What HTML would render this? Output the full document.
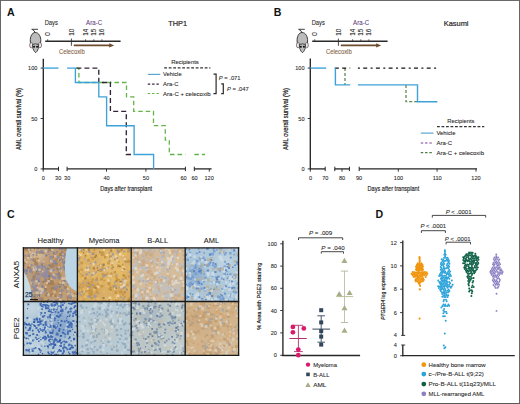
<!DOCTYPE html>
<html><head><meta charset="utf-8"><style>
html,body{margin:0;padding:0;background:#fff;width:520px;height:404px;overflow:hidden}
svg{display:block}
</style></head><body>
<svg width="520" height="404" viewBox="0 0 520 404" font-family='"Liberation Sans", sans-serif'><rect x="0" y="0" width="520" height="404" fill="#fff"/><text x="6.9" y="15.8" font-size="10.6" fill="#111" text-anchor="start" font-weight="bold" font-style="normal">A</text><g transform="translate(0,0)"><path d="M31.5,29.3 L38,29.3 M32.3,29.6 Q34.6,30.6 35.3,32.8" fill="none" stroke="#2a2a2a" stroke-width="0.9"/><path d="M35.3,32.5 C39,32.5 41,37 40.8,41 C40.6,44 39.5,45.5 38,46 L33,46 C31.5,45.5 30.3,44 30.3,41 C30.1,37 31.8,32.5 35.3,32.5 Z" fill="#bcbcbc" stroke="#2a2a2a" stroke-width="0.9"/><ellipse cx="31.3" cy="45.2" rx="1.7" ry="2.6" fill="#f2e2e2" stroke="#3a3a3a" stroke-width="0.6"/><ellipse cx="39.9" cy="45.2" rx="1.7" ry="2.6" fill="#f2e2e2" stroke="#3a3a3a" stroke-width="0.6"/><path d="M32.5,44.5 Q35.6,43.2 38.7,44.5 L38.4,48.5 Q37.2,51.8 35.7,52.7 Q34.1,51.8 32.9,48.5 Z" fill="#bdbdbd" stroke="#2a2a2a" stroke-width="0.8"/><circle cx="34.1" cy="46.8" r="1.05" fill="#111"/><circle cx="37.1" cy="46.8" r="1.05" fill="#111"/></g><text x="44.7" y="24.8" font-size="6.6" fill="#262626" text-anchor="start" font-weight="normal" font-style="normal" textLength="13.2" lengthAdjust="spacingAndGlyphs" stroke="#262626" stroke-width="0.08">Days</text><text x="86.1" y="24.8" font-size="6.8" fill="#5e3f7e" text-anchor="start" font-weight="normal" font-style="normal" textLength="16.0" lengthAdjust="spacingAndGlyphs" stroke="#5e3f7e" stroke-width="0.08">Ara-C</text><line x1="45.2" y1="41.3" x2="120.6" y2="41.3" stroke="#2a2a2a" stroke-width="1.4" stroke-linecap="butt"/><line x1="85.6" y1="39.3" x2="85.6" y2="41.3" stroke="#333" stroke-width="0.8" stroke-linecap="butt"/><line x1="93.8" y1="39.3" x2="93.8" y2="41.3" stroke="#333" stroke-width="0.8" stroke-linecap="butt"/><line x1="101.9" y1="39.3" x2="101.9" y2="41.3" stroke="#333" stroke-width="0.8" stroke-linecap="butt"/><line x1="47.7" y1="39.3" x2="47.7" y2="41.3" stroke="#333" stroke-width="0.8" stroke-linecap="butt"/><line x1="71.4" y1="38.6" x2="71.4" y2="45.8" stroke="#333" stroke-width="0.9" stroke-linecap="butt"/><text transform="translate(50.0,35.7) rotate(-90)" x="0" y="0" font-size="6.3" fill="#262626" stroke="#262626" stroke-width="0.08">0</text><text transform="translate(73.7,35.7) rotate(-90)" x="0" y="0" font-size="6.3" fill="#262626" stroke="#262626" stroke-width="0.08">10</text><text transform="translate(87.89999999999999,35.7) rotate(-90)" x="0" y="0" font-size="6.3" fill="#262626" stroke="#262626" stroke-width="0.08">14</text><text transform="translate(96.1,35.7) rotate(-90)" x="0" y="0" font-size="6.3" fill="#262626" stroke="#262626" stroke-width="0.08">15</text><text transform="translate(104.2,35.7) rotate(-90)" x="0" y="0" font-size="6.3" fill="#262626" stroke="#262626" stroke-width="0.08">16</text><line x1="73.8" y1="45.4" x2="110.5" y2="45.4" stroke="#6e4c2e" stroke-width="1.9" stroke-linecap="butt"/><path d="M109.2,43.2 L114.2,45.4 L109.2,47.6 Z" fill="#6e4c2e"/><text x="58.9" y="54.2" font-size="6.6" fill="#83603f" text-anchor="start" font-weight="normal" font-style="normal" textLength="25.8" lengthAdjust="spacingAndGlyphs" stroke="#83603f" stroke-width="0.08">Celecoxib</text><text x="168.2" y="26.0" font-size="8" fill="#2a2a2a" text-anchor="start" font-weight="normal" font-style="normal" textLength="18.8" lengthAdjust="spacingAndGlyphs" stroke="#2a2a2a" stroke-width="0.22">THP1</text><line x1="43.3" y1="58.8" x2="43.3" y2="169.6" stroke="#262626" stroke-width="1.35" stroke-linecap="butt"/><line x1="40.6" y1="68.1" x2="43.2" y2="68.1" stroke="#262626" stroke-width="0.9" stroke-linecap="butt"/><text x="37.4" y="70.1" font-size="5.6" fill="#262626" text-anchor="end" font-weight="normal" font-style="normal" stroke="#262626" stroke-width="0.08">100</text><line x1="40.6" y1="118.5" x2="43.2" y2="118.5" stroke="#262626" stroke-width="0.9" stroke-linecap="butt"/><text x="37.4" y="120.5" font-size="5.6" fill="#262626" text-anchor="end" font-weight="normal" font-style="normal" stroke="#262626" stroke-width="0.08">50</text><line x1="40.6" y1="168.9" x2="43.2" y2="168.9" stroke="#262626" stroke-width="0.9" stroke-linecap="butt"/><text x="37.4" y="170.9" font-size="5.6" fill="#262626" text-anchor="end" font-weight="normal" font-style="normal" stroke="#262626" stroke-width="0.08">0</text><line x1="43.2" y1="168.9" x2="58.5" y2="168.9" stroke="#262626" stroke-width="1.3" stroke-linecap="butt"/><line x1="67.1" y1="168.9" x2="185.4" y2="168.9" stroke="#262626" stroke-width="1.3" stroke-linecap="butt"/><line x1="194.3" y1="168.9" x2="211.6" y2="168.9" stroke="#262626" stroke-width="1.3" stroke-linecap="butt"/><line x1="43.2" y1="168.9" x2="43.2" y2="171.70000000000002" stroke="#262626" stroke-width="0.9" stroke-linecap="butt"/><line x1="106.5" y1="168.9" x2="106.5" y2="171.70000000000002" stroke="#262626" stroke-width="0.9" stroke-linecap="butt"/><line x1="145.9" y1="168.9" x2="145.9" y2="171.70000000000002" stroke="#262626" stroke-width="0.9" stroke-linecap="butt"/><line x1="209.3" y1="168.9" x2="209.3" y2="171.70000000000002" stroke="#262626" stroke-width="0.9" stroke-linecap="butt"/><line x1="58.5" y1="166.70000000000002" x2="58.5" y2="171.1" stroke="#262626" stroke-width="1.0" stroke-linecap="butt"/><line x1="67.1" y1="166.70000000000002" x2="67.1" y2="171.1" stroke="#262626" stroke-width="1.0" stroke-linecap="butt"/><line x1="185.4" y1="166.70000000000002" x2="185.4" y2="171.1" stroke="#262626" stroke-width="1.0" stroke-linecap="butt"/><line x1="194.3" y1="166.70000000000002" x2="194.3" y2="171.1" stroke="#262626" stroke-width="1.0" stroke-linecap="butt"/><text x="43.4" y="180.2" font-size="5.6" fill="#262626" text-anchor="middle" font-weight="normal" font-style="normal" stroke="#262626" stroke-width="0.08">0</text><text x="58.2" y="180.2" font-size="5.6" fill="#262626" text-anchor="middle" font-weight="normal" font-style="normal" stroke="#262626" stroke-width="0.08">30</text><text x="67.2" y="180.2" font-size="5.6" fill="#262626" text-anchor="middle" font-weight="normal" font-style="normal" stroke="#262626" stroke-width="0.08">30</text><text x="106.5" y="180.2" font-size="5.6" fill="#262626" text-anchor="middle" font-weight="normal" font-style="normal" stroke="#262626" stroke-width="0.08">40</text><text x="145.9" y="180.2" font-size="5.6" fill="#262626" text-anchor="middle" font-weight="normal" font-style="normal" stroke="#262626" stroke-width="0.08">50</text><text x="183.6" y="180.2" font-size="5.6" fill="#262626" text-anchor="middle" font-weight="normal" font-style="normal" stroke="#262626" stroke-width="0.08">60</text><text x="194.5" y="180.2" font-size="5.6" fill="#262626" text-anchor="middle" font-weight="normal" font-style="normal" stroke="#262626" stroke-width="0.08">60</text><text x="209.1" y="180.2" font-size="5.6" fill="#262626" text-anchor="middle" font-weight="normal" font-style="normal" stroke="#262626" stroke-width="0.08">120</text><text x="100.2" y="191.4" font-size="7.3" fill="#222" text-anchor="start" font-weight="normal" font-style="normal" textLength="52" lengthAdjust="spacingAndGlyphs" stroke="#222" stroke-width="0.15">Days after transplant</text><text transform="translate(18.7,119.1) rotate(-90)" x="0" y="2.45" font-size="6.8" fill="#222" stroke="#222" stroke-width="0.22" text-anchor="middle" font-weight="normal" font-style="normal" textLength="62" lengthAdjust="spacingAndGlyphs">AML overall survival (%)</text><polyline points="76.4,68.1 78.9,68.1 78.9,82.5 126.5,82.5 126.5,96.9 133.7,96.9 133.7,111.3 153.5,111.3 153.5,125.7 165.3,125.7 165.3,140.1 169.3,140.1 169.3,154.5 185.3,154.5" fill="none" stroke="#63b54a" stroke-width="1.3" stroke-dasharray="4.5,3" stroke-linejoin="miter"/><polyline points="194.4,154.5 205,154.5" fill="none" stroke="#63b54a" stroke-width="1.3" stroke-dasharray="4.5,3" stroke-linejoin="miter"/><polyline points="76.4,68.1 98.8,68.1 98.8,82.5 110.4,82.5 110.4,111.3 126.3,111.3 126.3,154.5 134,154.5" fill="none" stroke="#33263a" stroke-width="1.35" stroke-dasharray="5,3" stroke-linejoin="miter"/><polyline points="43.2,68.1 58.5,68.1" fill="none" stroke="#3ea2da" stroke-width="1.35" stroke-linejoin="miter"/><polyline points="67.1,68.1 75.4,68.1 75.4,82.5 98.8,82.5 98.8,96.9 106.6,96.9 106.6,125.7 134.1,125.7 134.1,154.5 153.6,154.5 153.6,168.9" fill="none" stroke="#3ea2da" stroke-width="1.35" stroke-linejoin="miter"/><text x="185" y="63.8" font-size="5.8" fill="#262626" text-anchor="middle" font-weight="normal" font-style="normal" textLength="27.7" lengthAdjust="spacingAndGlyphs" stroke="#262626" stroke-width="0.08">Recipients</text><line x1="164.2" y1="67.9" x2="210.4" y2="67.9" stroke="#333" stroke-width="1.2" stroke-dasharray="2.8,1.7" stroke-linecap="butt"/><line x1="147.8" y1="74.4" x2="160.3" y2="74.4" stroke="#5aa6d2" stroke-width="1.2" stroke-linecap="butt"/><line x1="147.8" y1="84.1" x2="160.3" y2="84.1" stroke="#33263a" stroke-width="1.2" stroke-dasharray="2.4,1.9" stroke-linecap="butt"/><line x1="147.8" y1="93.5" x2="160.3" y2="93.5" stroke="#63b54a" stroke-width="1.2" stroke-dasharray="2.4,1.9" stroke-linecap="butt"/><text x="163.1" y="76.1" font-size="5.8" fill="#262626" text-anchor="start" font-weight="normal" font-style="normal" textLength="18.5" lengthAdjust="spacingAndGlyphs" stroke="#262626" stroke-width="0.08">Vehicle</text><text x="163.1" y="85.8" font-size="5.8" fill="#262626" text-anchor="start" font-weight="normal" font-style="normal" textLength="15.3" lengthAdjust="spacingAndGlyphs" stroke="#262626" stroke-width="0.08">Ara-C</text><text x="163.1" y="95.5" font-size="5.8" fill="#262626" text-anchor="start" font-weight="normal" font-style="normal" textLength="47.5" lengthAdjust="spacingAndGlyphs" stroke="#262626" stroke-width="0.08">Ara-C + celecoxib</text><polyline points="213.5,74.1 216.1,74.1 216.1,93.7 213.5,93.7" fill="none" stroke="#2a2a2a" stroke-width="1.2" stroke-linejoin="miter"/><polyline points="221.2,83.9 223.3,83.9 223.3,93.7 221.2,93.7" fill="none" stroke="#2a2a2a" stroke-width="1.2" stroke-linejoin="miter"/><text x="218.8" y="80.3" font-size="5.8" fill="#262626" stroke="#262626" stroke-width="0.08"><tspan font-style="italic">P</tspan> = .071</text><text x="227" y="90.6" font-size="5.8" fill="#262626" stroke="#262626" stroke-width="0.08"><tspan font-style="italic">P</tspan> = .047</text><text x="273.8" y="15.5" font-size="10.6" fill="#111" text-anchor="start" font-weight="bold" font-style="normal">B</text><g transform="translate(266.8,0)"><path d="M31.5,29.3 L38,29.3 M32.3,29.6 Q34.6,30.6 35.3,32.8" fill="none" stroke="#2a2a2a" stroke-width="0.9"/><path d="M35.3,32.5 C39,32.5 41,37 40.8,41 C40.6,44 39.5,45.5 38,46 L33,46 C31.5,45.5 30.3,44 30.3,41 C30.1,37 31.8,32.5 35.3,32.5 Z" fill="#bcbcbc" stroke="#2a2a2a" stroke-width="0.9"/><ellipse cx="31.3" cy="45.2" rx="1.7" ry="2.6" fill="#f2e2e2" stroke="#3a3a3a" stroke-width="0.6"/><ellipse cx="39.9" cy="45.2" rx="1.7" ry="2.6" fill="#f2e2e2" stroke="#3a3a3a" stroke-width="0.6"/><path d="M32.5,44.5 Q35.6,43.2 38.7,44.5 L38.4,48.5 Q37.2,51.8 35.7,52.7 Q34.1,51.8 32.9,48.5 Z" fill="#bdbdbd" stroke="#2a2a2a" stroke-width="0.8"/><circle cx="34.1" cy="46.8" r="1.05" fill="#111"/><circle cx="37.1" cy="46.8" r="1.05" fill="#111"/></g><text x="311.7" y="24.8" font-size="6.6" fill="#262626" text-anchor="start" font-weight="normal" font-style="normal" textLength="13.2" lengthAdjust="spacingAndGlyphs" stroke="#262626" stroke-width="0.08">Days</text><text x="353.1" y="24.8" font-size="6.8" fill="#5e3f7e" text-anchor="start" font-weight="normal" font-style="normal" textLength="16.0" lengthAdjust="spacingAndGlyphs" stroke="#5e3f7e" stroke-width="0.08">Ara-C</text><line x1="312.2" y1="41.3" x2="387.6" y2="41.3" stroke="#2a2a2a" stroke-width="1.4" stroke-linecap="butt"/><line x1="352.6" y1="39.3" x2="352.6" y2="41.3" stroke="#333" stroke-width="0.8" stroke-linecap="butt"/><line x1="360.8" y1="39.3" x2="360.8" y2="41.3" stroke="#333" stroke-width="0.8" stroke-linecap="butt"/><line x1="368.9" y1="39.3" x2="368.9" y2="41.3" stroke="#333" stroke-width="0.8" stroke-linecap="butt"/><line x1="314.7" y1="39.3" x2="314.7" y2="41.3" stroke="#333" stroke-width="0.8" stroke-linecap="butt"/><line x1="338.4" y1="38.6" x2="338.4" y2="45.8" stroke="#333" stroke-width="0.9" stroke-linecap="butt"/><text transform="translate(317.0,35.7) rotate(-90)" x="0" y="0" font-size="6.3" fill="#262626" stroke="#262626" stroke-width="0.08">0</text><text transform="translate(340.7,35.7) rotate(-90)" x="0" y="0" font-size="6.3" fill="#262626" stroke="#262626" stroke-width="0.08">10</text><text transform="translate(354.90000000000003,35.7) rotate(-90)" x="0" y="0" font-size="6.3" fill="#262626" stroke="#262626" stroke-width="0.08">14</text><text transform="translate(363.1,35.7) rotate(-90)" x="0" y="0" font-size="6.3" fill="#262626" stroke="#262626" stroke-width="0.08">15</text><text transform="translate(371.2,35.7) rotate(-90)" x="0" y="0" font-size="6.3" fill="#262626" stroke="#262626" stroke-width="0.08">16</text><line x1="340.8" y1="45.4" x2="377.5" y2="45.4" stroke="#6e4c2e" stroke-width="1.9" stroke-linecap="butt"/><path d="M376.2,43.2 L381.2,45.4 L376.2,47.6 Z" fill="#6e4c2e"/><text x="325.9" y="54.2" font-size="6.6" fill="#83603f" text-anchor="start" font-weight="normal" font-style="normal" textLength="25.8" lengthAdjust="spacingAndGlyphs" stroke="#83603f" stroke-width="0.08">Celecoxib</text><text x="443.8" y="26.0" font-size="8" fill="#2a2a2a" text-anchor="start" font-weight="normal" font-style="normal" textLength="24.7" lengthAdjust="spacingAndGlyphs" stroke="#2a2a2a" stroke-width="0.22">Kasumi</text><line x1="310.3" y1="58.5" x2="310.3" y2="169.6" stroke="#262626" stroke-width="1.35" stroke-linecap="butt"/><line x1="307.7" y1="68.1" x2="310.3" y2="68.1" stroke="#262626" stroke-width="0.9" stroke-linecap="butt"/><text x="304.6" y="70.1" font-size="5.6" fill="#262626" text-anchor="end" font-weight="normal" font-style="normal" stroke="#262626" stroke-width="0.08">100</text><line x1="307.7" y1="118.5" x2="310.3" y2="118.5" stroke="#262626" stroke-width="0.9" stroke-linecap="butt"/><text x="304.6" y="120.5" font-size="5.6" fill="#262626" text-anchor="end" font-weight="normal" font-style="normal" stroke="#262626" stroke-width="0.08">50</text><line x1="307.7" y1="168.9" x2="310.3" y2="168.9" stroke="#262626" stroke-width="0.9" stroke-linecap="butt"/><text x="304.6" y="170.9" font-size="5.6" fill="#262626" text-anchor="end" font-weight="normal" font-style="normal" stroke="#262626" stroke-width="0.08">0</text><line x1="310.3" y1="168.9" x2="325.2" y2="168.9" stroke="#262626" stroke-width="1.3" stroke-linecap="butt"/><line x1="334.8" y1="168.9" x2="349.4" y2="168.9" stroke="#262626" stroke-width="1.3" stroke-linecap="butt"/><line x1="359.2" y1="168.9" x2="477" y2="168.9" stroke="#262626" stroke-width="1.3" stroke-linecap="butt"/><line x1="310.3" y1="168.9" x2="310.3" y2="171.70000000000002" stroke="#262626" stroke-width="0.9" stroke-linecap="butt"/><line x1="342" y1="168.9" x2="342" y2="171.70000000000002" stroke="#262626" stroke-width="0.9" stroke-linecap="butt"/><line x1="398.3" y1="168.9" x2="398.3" y2="171.70000000000002" stroke="#262626" stroke-width="0.9" stroke-linecap="butt"/><line x1="437.1" y1="168.9" x2="437.1" y2="171.70000000000002" stroke="#262626" stroke-width="0.9" stroke-linecap="butt"/><line x1="476" y1="168.9" x2="476" y2="171.70000000000002" stroke="#262626" stroke-width="0.9" stroke-linecap="butt"/><line x1="325.2" y1="166.70000000000002" x2="325.2" y2="171.1" stroke="#262626" stroke-width="1.0" stroke-linecap="butt"/><line x1="334.8" y1="166.70000000000002" x2="334.8" y2="171.1" stroke="#262626" stroke-width="1.0" stroke-linecap="butt"/><line x1="349.4" y1="166.70000000000002" x2="349.4" y2="171.1" stroke="#262626" stroke-width="1.0" stroke-linecap="butt"/><line x1="359.2" y1="166.70000000000002" x2="359.2" y2="171.1" stroke="#262626" stroke-width="1.0" stroke-linecap="butt"/><text x="310.5" y="180.2" font-size="5.6" fill="#262626" text-anchor="middle" font-weight="normal" font-style="normal" stroke="#262626" stroke-width="0.08">0</text><text x="325.3" y="180.2" font-size="5.6" fill="#262626" text-anchor="middle" font-weight="normal" font-style="normal" stroke="#262626" stroke-width="0.08">70</text><text x="342.1" y="180.2" font-size="5.6" fill="#262626" text-anchor="middle" font-weight="normal" font-style="normal" stroke="#262626" stroke-width="0.08">80</text><text x="359.1" y="180.2" font-size="5.6" fill="#262626" text-anchor="middle" font-weight="normal" font-style="normal" stroke="#262626" stroke-width="0.08">90</text><text x="398.5" y="180.2" font-size="5.6" fill="#262626" text-anchor="middle" font-weight="normal" font-style="normal" stroke="#262626" stroke-width="0.08">100</text><text x="437.2" y="180.2" font-size="5.6" fill="#262626" text-anchor="middle" font-weight="normal" font-style="normal" stroke="#262626" stroke-width="0.08">110</text><text x="476" y="180.2" font-size="5.6" fill="#262626" text-anchor="middle" font-weight="normal" font-style="normal" stroke="#262626" stroke-width="0.08">120</text><text x="367.5" y="191.4" font-size="7.3" fill="#222" text-anchor="start" font-weight="normal" font-style="normal" textLength="51.7" lengthAdjust="spacingAndGlyphs" stroke="#222" stroke-width="0.15">Days after transplant</text><text transform="translate(285.4,119.1) rotate(-90)" x="0" y="2.45" font-size="6.8" fill="#222" stroke="#222" stroke-width="0.22" text-anchor="middle" font-weight="normal" font-style="normal" textLength="62" lengthAdjust="spacingAndGlyphs">AML overall survival (%)</text><line x1="345" y1="68.1" x2="345" y2="84.9" stroke="#5e8a4e" stroke-width="1.3" stroke-dasharray="3,2" stroke-linecap="butt"/><polyline points="406,84.9 406,101.7 417.5,101.7" fill="none" stroke="#5e8a4e" stroke-width="1.3" stroke-dasharray="3,2" stroke-linejoin="miter"/><polyline points="334.8,68.1 350.2,68.1" fill="none" stroke="#151515" stroke-width="1.4" stroke-dasharray="4,3.4" stroke-linejoin="miter"/><polyline points="357.9,68.1 437.4,68.1" fill="none" stroke="#151515" stroke-width="1.4" stroke-dasharray="2,3.3,4,3.4" stroke-linejoin="miter"/><polyline points="310.3,68.1 326.2,68.1" fill="none" stroke="#3ea2da" stroke-width="1.4" stroke-linejoin="miter"/><polyline points="334.8,68.1 335.4,68.1 335.4,84.9 350.2,84.9" fill="none" stroke="#3ea2da" stroke-width="1.4" stroke-linejoin="miter"/><polyline points="357.9,84.9 417.5,84.9 417.5,101.7 437.4,101.7" fill="none" stroke="#3ea2da" stroke-width="1.4" stroke-linejoin="miter"/><text x="460.9" y="122.7" font-size="5.8" fill="#262626" text-anchor="middle" font-weight="normal" font-style="normal" textLength="27.1" lengthAdjust="spacingAndGlyphs" stroke="#262626" stroke-width="0.08">Recipients</text><line x1="437" y1="126.6" x2="484.3" y2="126.6" stroke="#333" stroke-width="1.2" stroke-dasharray="2.8,1.7" stroke-linecap="butt"/><line x1="420.8" y1="133.1" x2="433.5" y2="133.1" stroke="#5aa6d2" stroke-width="1.2" stroke-linecap="butt"/><line x1="420.8" y1="143" x2="433.5" y2="143" stroke="#7a3f9a" stroke-width="1.2" stroke-dasharray="2.4,1.9" stroke-linecap="butt"/><line x1="420.8" y1="152.7" x2="433.5" y2="152.7" stroke="#4d7a44" stroke-width="1.2" stroke-dasharray="2.4,1.9" stroke-linecap="butt"/><text x="436.5" y="135.0" font-size="5.8" fill="#262626" text-anchor="start" font-weight="normal" font-style="normal" textLength="18.9" lengthAdjust="spacingAndGlyphs" stroke="#262626" stroke-width="0.08">Vehicle</text><text x="436.5" y="144.9" font-size="5.8" fill="#262626" text-anchor="start" font-weight="normal" font-style="normal" textLength="15.5" lengthAdjust="spacingAndGlyphs" stroke="#262626" stroke-width="0.08">Ara-C</text><text x="436.5" y="154.6" font-size="5.8" fill="#262626" text-anchor="start" font-weight="normal" font-style="normal" textLength="47.5" lengthAdjust="spacingAndGlyphs" stroke="#262626" stroke-width="0.08">Ara-C + celecoxib</text><text x="7" y="218" font-size="10.6" fill="#111" text-anchor="start" font-weight="bold" font-style="normal">C</text><text x="50.5" y="242.7" font-size="7.6" fill="#222" text-anchor="middle" font-weight="normal" font-style="normal" textLength="26" lengthAdjust="spacingAndGlyphs" stroke="#222" stroke-width="0.08">Healthy</text><text x="104.1" y="242.7" font-size="7.6" fill="#222" text-anchor="middle" font-weight="normal" font-style="normal" textLength="30.7" lengthAdjust="spacingAndGlyphs" stroke="#222" stroke-width="0.08">Myeloma</text><text x="157.7" y="242.7" font-size="7.6" fill="#222" text-anchor="middle" font-weight="normal" font-style="normal" textLength="21" lengthAdjust="spacingAndGlyphs" stroke="#222" stroke-width="0.08">B-ALL</text><text x="211.4" y="242.7" font-size="7.6" fill="#222" text-anchor="middle" font-weight="normal" font-style="normal" textLength="15.2" lengthAdjust="spacingAndGlyphs" stroke="#222" stroke-width="0.08">AML</text><text transform="translate(16.2,274.5) rotate(-90)" x="0" y="2.77" font-size="7.7" fill="#222" stroke="#222" stroke-width="0.08" text-anchor="middle" font-weight="normal" font-style="normal" textLength="27.3" lengthAdjust="spacingAndGlyphs">ANXA5</text><text transform="translate(16.2,328.3) rotate(-90)" x="0" y="2.77" font-size="7.7" fill="#222" stroke="#222" stroke-width="0.08" text-anchor="middle" font-weight="normal" font-style="normal" textLength="21.7" lengthAdjust="spacingAndGlyphs">PGE2</text><defs><filter id="bl" x="0" y="0" width="1" height="1"><feGaussianBlur stdDeviation="0.7"/></filter></defs><defs><filter id="bl3" x="-0.5" y="-0.5" width="2" height="2"><feGaussianBlur stdDeviation="3"/></filter></defs><clipPath id="cp00"><rect x="23.4" y="247.8" width="54.0" height="53.7"/></clipPath><g clip-path="url(#cp00)"><rect x="23.4" y="247.8" width="54.0" height="53.7" fill="#bea07e"/><ellipse cx="35" cy="255" rx="10" ry="7" fill="#dcc6a6" opacity="0.7" filter="url(#bl3)"/><ellipse cx="42" cy="274" rx="11" ry="10" fill="#8a86a2" opacity="0.45" filter="url(#bl3)"/><ellipse cx="52" cy="288" rx="10" ry="8" fill="#a4743e" opacity="0.4" filter="url(#bl3)"/><ellipse cx="58" cy="262" rx="6" ry="8" fill="#b07c46" opacity="0.35" filter="url(#bl3)"/><g filter="url(#bl)"><path d="M47.7 278.0h3.4v3.4h-3.4zM48.5 275.1h2.8v2.8h-2.8zM32.7 275.3h2.9v2.9h-2.9zM66.8 252.0h2.2v2.2h-2.2zM27.5 291.9h3.0v3.0h-3.0zM24.7 301.5h3.5v3.5h-3.5zM59.0 281.1h1.9v1.9h-1.9zM23.2 276.2h1.7v1.7h-1.7zM33.1 260.3h1.7v1.7h-1.7zM48.4 271.3h3.3v3.3h-3.3zM51.5 282.5h2.6v2.6h-2.6zM59.5 272.3h2.2v2.2h-2.2zM78.3 302.3h3.3v3.3h-3.3zM62.0 264.4h2.1v2.1h-2.1zM38.6 250.7h3.1v3.1h-3.1zM44.8 294.0h2.4v2.4h-2.4zM76.1 294.0h1.6v1.6h-1.6zM34.1 297.5h2.5v2.5h-2.5zM77.3 268.9h1.7v1.7h-1.7zM57.6 290.2h2.1v2.1h-2.1zM27.3 265.3h3.5v3.5h-3.5zM64.9 253.4h2.1v2.1h-2.1zM28.1 250.1h3.2v3.2h-3.2zM32.3 278.0h2.5v2.5h-2.5zM33.1 287.6h1.9v1.9h-1.9zM58.4 253.3h2.4v2.4h-2.4zM34.3 261.8h3.5v3.5h-3.5zM67.4 263.7h3.4v3.4h-3.4zM34.2 268.8h3.3v3.3h-3.3zM58.3 252.4h3.6v3.6h-3.6zM34.3 261.2h3.1v3.1h-3.1zM40.8 263.3h1.7v1.7h-1.7zM27.4 279.3h2.1v2.1h-2.1zM56.1 267.5h2.5v2.5h-2.5zM76.1 273.7h2.7v2.7h-2.7zM70.9 257.0h1.9v1.9h-1.9zM73.3 292.4h2.1v2.1h-2.1zM33.0 288.0h3.5v3.5h-3.5zM33.4 299.7h3.4v3.4h-3.4zM56.2 270.3h1.8v1.8h-1.8zM24.6 300.4h2.1v2.1h-2.1zM61.9 261.1h3.2v3.2h-3.2zM55.8 263.1h2.0v2.0h-2.0zM62.7 250.6h2.1v2.1h-2.1zM53.7 294.3h2.8v2.8h-2.8zM38.1 297.9h2.0v2.0h-2.0zM23.3 261.8h2.5v2.5h-2.5zM25.8 256.6h2.3v2.3h-2.3zM54.4 254.1h2.3v2.3h-2.3zM72.3 301.4h2.9v2.9h-2.9zM61.1 279.4h1.9v1.9h-1.9zM24.4 247.8h3.4v3.4h-3.4zM61.7 300.4h1.6v1.6h-1.6zM58.0 273.7h3.1v3.1h-3.1zM40.3 302.5h1.8v1.8h-1.8zM53.0 287.9h3.4v3.4h-3.4zM63.7 286.0h3.2v3.2h-3.2zM73.6 266.4h3.0v3.0h-3.0zM72.8 295.3h2.4v2.4h-2.4zM66.7 294.9h2.7v2.7h-2.7zM57.4 268.1h2.8v2.8h-2.8zM56.5 251.3h2.9v2.9h-2.9zM78.0 295.8h3.1v3.1h-3.1zM44.2 287.7h2.8v2.8h-2.8zM47.1 293.5h1.8v1.8h-1.8zM64.4 248.5h2.8v2.8h-2.8zM49.3 259.6h3.0v3.0h-3.0zM50.2 281.0h3.4v3.4h-3.4zM36.7 247.4h2.2v2.2h-2.2zM60.4 258.1h1.9v1.9h-1.9zM73.1 283.6h2.5v2.5h-2.5zM72.3 265.0h2.9v2.9h-2.9zM33.5 270.8h3.2v3.2h-3.2zM73.6 295.8h2.4v2.4h-2.4zM55.1 264.4h1.9v1.9h-1.9zM50.2 293.4h3.3v3.3h-3.3zM62.2 299.7h2.2v2.2h-2.2zM31.9 271.9h2.2v2.2h-2.2zM34.4 269.9h2.9v2.9h-2.9zM50.1 264.4h3.3v3.3h-3.3zM77.4 272.0h1.7v1.7h-1.7zM24.2 295.4h1.7v1.7h-1.7zM62.1 278.6h2.2v2.2h-2.2zM66.7 247.9h1.9v1.9h-1.9zM47.9 248.2h3.3v3.3h-3.3zM35.7 254.6h1.7v1.7h-1.7zM57.6 271.7h2.9v2.9h-2.9zM59.1 291.8h3.5v3.5h-3.5zM60.7 257.9h2.6v2.6h-2.6zM32.4 247.4h2.5v2.5h-2.5zM62.4 256.8h2.1v2.1h-2.1zM41.8 285.6h2.6v2.6h-2.6zM56.8 288.9h2.4v2.4h-2.4zM66.7 297.3h1.8v1.8h-1.8zM74.6 287.0h1.9v1.9h-1.9zM47.8 281.6h3.4v3.4h-3.4zM43.5 278.5h3.4v3.4h-3.4zM67.0 299.4h2.5v2.5h-2.5zM58.9 258.2h3.0v3.0h-3.0zM68.2 282.5h3.0v3.0h-3.0zM34.3 296.9h3.6v3.6h-3.6zM77.1 276.7h3.2v3.2h-3.2zM40.3 297.5h3.3v3.3h-3.3zM41.9 251.4h2.5v2.5h-2.5zM53.2 289.6h2.6v2.6h-2.6zM24.0 291.9h1.7v1.7h-1.7zM67.2 256.4h2.3v2.3h-2.3zM66.5 254.6h1.9v1.9h-1.9zM51.3 287.1h3.3v3.3h-3.3zM61.0 299.5h2.6v2.6h-2.6zM75.6 251.6h2.0v2.0h-2.0zM51.9 263.0h3.1v3.1h-3.1zM58.2 275.9h3.3v3.3h-3.3zM53.8 264.2h2.4v2.4h-2.4zM69.7 297.0h2.0v2.0h-2.0zM70.0 300.7h2.6v2.6h-2.6zM54.5 258.0h2.7v2.7h-2.7zM50.6 280.5h1.7v1.7h-1.7zM76.7 275.5h2.4v2.4h-2.4zM67.3 278.2h2.6v2.6h-2.6zM61.1 250.5h2.7v2.7h-2.7zM45.6 300.1h3.4v3.4h-3.4zM37.5 273.2h1.9v1.9h-1.9zM46.7 292.2h3.4v3.4h-3.4zM49.1 264.5h2.0v2.0h-2.0zM57.0 298.3h1.9v1.9h-1.9zM66.0 248.1h2.0v2.0h-2.0zM35.1 285.1h2.2v2.2h-2.2zM42.3 281.3h1.8v1.8h-1.8zM63.3 253.6h2.6v2.6h-2.6zM36.4 257.8h2.7v2.7h-2.7zM46.9 267.7h2.4v2.4h-2.4zM52.0 255.7h2.0v2.0h-2.0zM57.8 282.4h2.7v2.7h-2.7zM70.1 280.9h3.3v3.3h-3.3zM35.4 288.1h3.2v3.2h-3.2zM72.9 264.4h2.2v2.2h-2.2zM74.1 259.0h3.6v3.6h-3.6zM72.1 254.3h2.1v2.1h-2.1zM63.1 261.3h1.8v1.8h-1.8zM69.0 270.3h3.2v3.2h-3.2zM29.5 269.2h3.0v3.0h-3.0zM23.4 258.0h3.0v3.0h-3.0zM73.4 300.7h1.8v1.8h-1.8zM50.7 289.0h2.6v2.6h-2.6zM60.8 257.3h1.7v1.7h-1.7zM28.3 248.9h2.7v2.7h-2.7zM51.2 278.5h1.9v1.9h-1.9zM32.7 258.2h3.3v3.3h-3.3zM77.9 298.4h1.8v1.8h-1.8z" fill="#a07a50" opacity="0.8"/><path d="M25.9 299.8h2.4v2.4h-2.4zM65.2 265.0h2.4v2.4h-2.4zM51.3 270.8h2.7v2.7h-2.7zM23.1 285.8h3.1v3.1h-3.1zM32.6 272.1h2.9v2.9h-2.9zM45.1 257.7h1.9v1.9h-1.9zM51.1 247.7h3.2v3.2h-3.2zM67.3 286.1h3.1v3.1h-3.1zM57.6 269.3h2.7v2.7h-2.7zM50.6 301.5h3.0v3.0h-3.0zM36.9 297.6h2.9v2.9h-2.9zM66.0 292.2h2.3v2.3h-2.3zM72.6 295.8h2.9v2.9h-2.9zM65.4 289.4h2.3v2.3h-2.3zM62.9 250.7h2.2v2.2h-2.2zM48.7 247.4h2.2v2.2h-2.2zM58.2 281.6h2.0v2.0h-2.0zM75.3 283.9h2.2v2.2h-2.2zM59.3 278.5h2.6v2.6h-2.6zM44.2 302.5h2.8v2.8h-2.8zM61.7 289.2h3.4v3.4h-3.4zM23.7 281.1h2.9v2.9h-2.9zM36.8 269.2h1.7v1.7h-1.7zM33.3 267.7h1.8v1.8h-1.8zM36.4 297.2h2.6v2.6h-2.6zM50.8 300.7h2.6v2.6h-2.6zM78.1 282.3h3.1v3.1h-3.1zM26.7 280.1h3.0v3.0h-3.0zM24.9 298.6h1.9v1.9h-1.9zM48.8 256.2h2.5v2.5h-2.5zM56.6 250.1h3.3v3.3h-3.3zM46.0 276.1h2.7v2.7h-2.7zM42.9 262.7h2.8v2.8h-2.8zM53.8 262.6h2.9v2.9h-2.9zM39.0 247.6h2.0v2.0h-2.0zM24.8 255.5h3.0v3.0h-3.0zM44.2 296.8h2.9v2.9h-2.9zM25.2 301.9h3.3v3.3h-3.3zM26.5 297.2h2.4v2.4h-2.4zM49.1 301.0h2.0v2.0h-2.0zM51.7 299.0h2.9v2.9h-2.9zM48.6 301.3h3.1v3.1h-3.1zM56.2 253.2h2.7v2.7h-2.7zM47.9 258.1h1.7v1.7h-1.7zM52.0 253.7h2.4v2.4h-2.4zM59.8 272.2h2.1v2.1h-2.1zM55.0 270.2h3.0v3.0h-3.0zM52.1 302.4h3.3v3.3h-3.3zM63.5 260.1h1.8v1.8h-1.8zM72.4 290.5h2.7v2.7h-2.7zM42.5 261.9h2.8v2.8h-2.8zM54.0 279.8h2.7v2.7h-2.7zM64.6 257.4h2.0v2.0h-2.0zM77.3 297.8h3.2v3.2h-3.2zM24.6 250.2h2.1v2.1h-2.1zM46.2 281.5h1.8v1.8h-1.8zM52.7 250.8h1.8v1.8h-1.8zM60.3 277.5h2.7v2.7h-2.7zM43.3 273.5h2.0v2.0h-2.0zM41.6 288.3h3.1v3.1h-3.1zM26.6 253.5h3.1v3.1h-3.1zM57.3 289.6h2.0v2.0h-2.0zM46.2 261.2h3.1v3.1h-3.1zM43.1 283.2h3.4v3.4h-3.4zM40.6 277.4h2.9v2.9h-2.9zM74.0 270.6h2.3v2.3h-2.3zM27.8 295.5h1.7v1.7h-1.7zM27.0 278.2h2.5v2.5h-2.5zM60.8 263.4h3.0v3.0h-3.0zM26.7 258.7h2.8v2.8h-2.8zM27.0 263.7h2.9v2.9h-2.9zM61.3 262.6h1.9v1.9h-1.9zM42.4 287.2h2.3v2.3h-2.3zM29.0 286.3h2.6v2.6h-2.6zM73.8 299.2h3.2v3.2h-3.2zM46.9 291.5h2.1v2.1h-2.1zM40.2 269.1h3.3v3.3h-3.3zM72.5 260.6h2.3v2.3h-2.3zM42.9 267.0h2.3v2.3h-2.3zM44.1 257.7h2.6v2.6h-2.6zM67.0 276.9h3.1v3.1h-3.1zM53.9 256.6h3.0v3.0h-3.0zM71.7 262.5h1.6v1.6h-1.6zM51.3 277.1h2.6v2.6h-2.6zM76.5 283.1h3.0v3.0h-3.0zM26.0 277.3h3.0v3.0h-3.0zM27.1 251.3h2.9v2.9h-2.9zM72.7 251.5h2.7v2.7h-2.7zM30.5 288.3h2.8v2.8h-2.8zM36.1 259.1h3.0v3.0h-3.0zM51.6 289.4h2.3v2.3h-2.3zM41.3 300.7h2.8v2.8h-2.8zM50.0 276.7h2.9v2.9h-2.9zM62.1 297.8h2.3v2.3h-2.3zM68.7 283.9h3.1v3.1h-3.1zM67.5 293.2h3.2v3.2h-3.2zM76.0 282.5h2.5v2.5h-2.5zM62.2 291.5h2.4v2.4h-2.4zM45.9 254.9h2.9v2.9h-2.9zM77.9 267.7h1.9v1.9h-1.9zM33.8 270.5h2.1v2.1h-2.1zM76.7 250.1h2.2v2.2h-2.2zM28.8 282.9h3.0v3.0h-3.0zM32.4 250.3h2.4v2.4h-2.4zM55.1 297.4h1.7v1.7h-1.7zM28.5 257.1h2.0v2.0h-2.0zM35.6 286.8h2.7v2.7h-2.7zM34.9 257.1h2.1v2.1h-2.1zM32.1 289.0h2.2v2.2h-2.2zM53.1 292.3h2.5v2.5h-2.5zM37.0 296.2h3.2v3.2h-3.2zM41.6 277.3h3.3v3.3h-3.3zM49.4 259.1h1.7v1.7h-1.7zM75.5 291.4h2.3v2.3h-2.3zM51.9 275.5h2.1v2.1h-2.1zM77.9 283.4h2.0v2.0h-2.0zM23.0 273.1h2.3v2.3h-2.3zM67.0 286.5h2.7v2.7h-2.7zM31.2 255.5h2.2v2.2h-2.2zM36.9 295.2h2.5v2.5h-2.5z" fill="#cc9e66" opacity="0.8"/><path d="M58.1 302.1h2.3v2.3h-2.3zM30.8 289.7h2.7v2.7h-2.7zM69.8 292.6h1.8v1.8h-1.8zM62.5 252.2h2.1v2.1h-2.1zM39.4 290.8h2.9v2.9h-2.9zM27.5 292.8h2.3v2.3h-2.3zM51.8 255.6h1.9v1.9h-1.9zM39.8 251.0h2.1v2.1h-2.1zM62.4 266.8h1.6v1.6h-1.6zM44.5 272.5h2.7v2.7h-2.7zM59.0 247.5h2.5v2.5h-2.5zM35.7 278.2h1.4v1.4h-1.4zM77.9 291.3h2.4v2.4h-2.4zM38.7 267.7h1.9v1.9h-1.9zM41.3 268.6h1.8v1.8h-1.8zM33.6 287.5h2.9v2.9h-2.9zM53.9 287.1h2.7v2.7h-2.7zM27.6 254.6h2.5v2.5h-2.5zM62.1 256.8h2.7v2.7h-2.7zM55.6 251.8h1.7v1.7h-1.7zM29.4 269.5h2.9v2.9h-2.9zM46.3 275.3h2.6v2.6h-2.6zM68.4 268.3h2.1v2.1h-2.1zM23.3 269.1h3.0v3.0h-3.0zM66.6 283.6h1.4v1.4h-1.4zM40.9 265.9h1.6v1.6h-1.6zM43.5 275.2h2.7v2.7h-2.7zM56.6 255.6h2.8v2.8h-2.8zM53.1 266.4h1.6v1.6h-1.6zM62.4 301.8h2.5v2.5h-2.5zM57.5 257.8h1.8v1.8h-1.8zM54.7 285.6h2.9v2.9h-2.9zM42.6 272.6h3.0v3.0h-3.0zM30.0 297.2h2.3v2.3h-2.3zM53.8 261.5h3.0v3.0h-3.0zM68.2 280.3h2.7v2.7h-2.7zM38.6 296.8h2.3v2.3h-2.3zM68.9 257.1h1.5v1.5h-1.5zM75.0 283.5h2.5v2.5h-2.5zM63.7 268.1h2.7v2.7h-2.7zM23.3 257.9h1.6v1.6h-1.6zM44.0 278.5h2.2v2.2h-2.2zM37.2 278.4h2.4v2.4h-2.4zM24.5 284.2h2.9v2.9h-2.9zM56.0 273.0h2.4v2.4h-2.4zM61.0 289.0h2.2v2.2h-2.2zM45.3 271.0h2.8v2.8h-2.8zM51.9 276.0h2.8v2.8h-2.8zM40.4 249.8h2.8v2.8h-2.8zM63.4 280.1h1.9v1.9h-1.9zM55.6 250.7h2.1v2.1h-2.1zM50.5 268.9h2.5v2.5h-2.5zM51.9 260.1h2.0v2.0h-2.0zM35.6 250.6h2.9v2.9h-2.9zM59.7 295.1h2.7v2.7h-2.7zM34.8 288.4h2.8v2.8h-2.8zM27.9 290.9h2.3v2.3h-2.3zM75.7 246.8h1.9v1.9h-1.9zM40.6 250.3h2.7v2.7h-2.7zM44.6 266.7h1.5v1.5h-1.5zM24.1 296.8h2.2v2.2h-2.2zM74.7 301.2h1.7v1.7h-1.7zM38.9 298.2h1.7v1.7h-1.7zM69.3 266.5h1.7v1.7h-1.7zM71.7 302.2h2.4v2.4h-2.4zM33.1 295.8h1.6v1.6h-1.6zM63.0 264.2h2.8v2.8h-2.8zM62.3 254.3h2.9v2.9h-2.9zM47.3 251.2h1.9v1.9h-1.9zM62.2 257.7h1.8v1.8h-1.8zM59.6 290.8h2.5v2.5h-2.5zM71.9 279.7h1.9v1.9h-1.9zM74.3 284.0h2.4v2.4h-2.4zM27.4 301.6h2.2v2.2h-2.2zM52.1 249.3h1.9v1.9h-1.9zM36.5 291.5h1.9v1.9h-1.9zM64.7 260.5h2.3v2.3h-2.3zM24.3 272.5h2.0v2.0h-2.0zM74.4 274.6h2.3v2.3h-2.3zM58.5 266.8h2.7v2.7h-2.7zM51.3 275.0h2.5v2.5h-2.5zM51.5 299.8h2.6v2.6h-2.6zM31.6 280.7h2.1v2.1h-2.1zM65.7 290.6h1.8v1.8h-1.8zM49.8 259.1h2.2v2.2h-2.2zM24.4 280.0h2.3v2.3h-2.3zM71.3 256.8h1.4v1.4h-1.4zM50.2 271.0h1.8v1.8h-1.8zM54.3 277.1h1.8v1.8h-1.8zM30.6 264.1h1.9v1.9h-1.9zM57.2 276.1h2.3v2.3h-2.3zM27.4 292.5h1.8v1.8h-1.8zM31.3 285.3h2.7v2.7h-2.7zM25.8 269.7h1.7v1.7h-1.7zM76.8 249.1h2.6v2.6h-2.6zM77.6 254.9h2.6v2.6h-2.6zM30.3 268.7h2.1v2.1h-2.1zM65.1 287.7h1.8v1.8h-1.8zM53.3 260.3h2.9v2.9h-2.9zM42.8 265.6h2.4v2.4h-2.4zM24.6 269.2h1.5v1.5h-1.5zM41.6 285.5h2.3v2.3h-2.3zM72.0 272.6h2.7v2.7h-2.7zM43.7 290.3h2.0v2.0h-2.0zM32.7 277.4h1.7v1.7h-1.7zM34.4 272.9h2.1v2.1h-2.1zM33.9 268.1h2.5v2.5h-2.5zM42.7 262.1h1.7v1.7h-1.7zM37.1 268.7h2.5v2.5h-2.5zM37.4 266.9h2.9v2.9h-2.9zM42.5 289.4h2.9v2.9h-2.9zM23.5 264.7h1.5v1.5h-1.5zM51.5 249.9h1.8v1.8h-1.8zM24.7 255.2h1.5v1.5h-1.5zM39.9 270.4h1.6v1.6h-1.6zM62.0 261.3h2.5v2.5h-2.5zM30.6 258.2h2.5v2.5h-2.5zM45.1 268.3h1.8v1.8h-1.8zM38.8 266.0h1.5v1.5h-1.5zM23.8 281.9h2.7v2.7h-2.7zM77.0 263.4h2.9v2.9h-2.9zM34.5 285.2h2.9v2.9h-2.9zM71.0 259.9h1.5v1.5h-1.5zM46.4 268.7h2.0v2.0h-2.0zM40.8 274.5h1.7v1.7h-1.7zM44.9 273.3h2.5v2.5h-2.5zM35.8 252.0h2.1v2.1h-2.1zM30.8 279.3h2.3v2.3h-2.3zM61.6 248.1h2.0v2.0h-2.0zM25.9 269.3h2.2v2.2h-2.2zM55.2 272.9h1.8v1.8h-1.8zM54.1 261.4h1.7v1.7h-1.7zM48.7 281.1h2.0v2.0h-2.0zM54.7 299.3h2.4v2.4h-2.4zM57.2 269.7h1.8v1.8h-1.8zM68.9 295.8h2.9v2.9h-2.9zM24.5 254.4h1.9v1.9h-1.9zM42.6 301.2h1.7v1.7h-1.7zM35.2 284.7h1.4v1.4h-1.4zM52.9 268.7h2.2v2.2h-2.2zM58.8 277.3h2.3v2.3h-2.3zM68.9 300.8h2.0v2.0h-2.0zM72.0 264.3h2.5v2.5h-2.5zM60.8 300.5h1.7v1.7h-1.7zM57.2 274.1h2.0v2.0h-2.0zM38.4 288.5h1.8v1.8h-1.8zM36.4 264.9h2.2v2.2h-2.2zM29.5 250.3h1.6v1.6h-1.6zM61.9 253.1h2.6v2.6h-2.6zM49.3 255.9h2.8v2.8h-2.8z" fill="#8a8aa6" opacity="0.85"/><path d="M25.4 260.9h2.2v2.2h-2.2zM67.0 268.6h2.5v2.5h-2.5zM36.5 286.7h1.9v1.9h-1.9zM41.1 289.1h2.7v2.7h-2.7zM68.8 278.4h2.1v2.1h-2.1zM62.0 281.5h2.7v2.7h-2.7zM67.3 253.8h2.0v2.0h-2.0zM59.9 259.7h1.7v1.7h-1.7zM23.2 279.4h2.9v2.9h-2.9zM76.7 254.2h2.5v2.5h-2.5zM45.9 282.0h2.0v2.0h-2.0zM74.7 301.9h1.5v1.5h-1.5zM62.3 253.4h1.5v1.5h-1.5zM38.4 287.5h3.0v3.0h-3.0zM29.1 265.2h1.4v1.4h-1.4zM52.8 273.7h2.0v2.0h-2.0zM39.7 291.4h2.7v2.7h-2.7zM38.3 268.6h2.4v2.4h-2.4zM65.3 301.4h2.0v2.0h-2.0zM61.3 277.2h2.7v2.7h-2.7zM30.6 256.6h1.6v1.6h-1.6zM74.7 260.8h2.2v2.2h-2.2zM29.1 264.8h1.4v1.4h-1.4zM54.1 254.8h2.4v2.4h-2.4zM37.7 259.5h2.2v2.2h-2.2zM42.9 261.3h1.5v1.5h-1.5zM26.0 296.5h1.9v1.9h-1.9zM26.8 257.0h2.2v2.2h-2.2zM78.2 258.1h2.8v2.8h-2.8zM49.5 269.9h2.7v2.7h-2.7zM44.6 250.0h2.3v2.3h-2.3zM59.2 281.5h1.8v1.8h-1.8zM75.0 295.0h3.0v3.0h-3.0zM47.2 293.2h2.6v2.6h-2.6zM32.2 248.3h1.7v1.7h-1.7zM29.1 251.0h2.0v2.0h-2.0zM64.6 264.1h2.2v2.2h-2.2zM23.0 258.5h2.9v2.9h-2.9zM23.0 276.2h2.7v2.7h-2.7zM66.8 287.8h2.0v2.0h-2.0zM67.4 292.9h2.6v2.6h-2.6zM77.6 252.4h2.9v2.9h-2.9zM44.9 286.1h1.8v1.8h-1.8zM73.3 248.1h2.3v2.3h-2.3zM35.1 268.4h2.0v2.0h-2.0zM59.2 292.0h2.0v2.0h-2.0zM58.1 266.5h1.8v1.8h-1.8zM73.1 264.7h1.6v1.6h-1.6zM41.1 288.1h1.7v1.7h-1.7zM64.0 277.2h2.5v2.5h-2.5zM32.3 252.7h1.6v1.6h-1.6zM42.0 270.8h1.4v1.4h-1.4zM50.5 269.3h1.9v1.9h-1.9zM52.5 299.8h1.7v1.7h-1.7zM71.7 264.7h2.6v2.6h-2.6zM28.5 301.8h2.1v2.1h-2.1zM76.3 259.0h2.1v2.1h-2.1zM61.9 256.7h1.8v1.8h-1.8zM60.3 299.6h1.9v1.9h-1.9zM32.7 266.7h3.0v3.0h-3.0zM30.7 282.2h2.0v2.0h-2.0zM58.5 258.6h2.4v2.4h-2.4zM72.1 294.5h2.4v2.4h-2.4zM50.7 278.4h1.6v1.6h-1.6zM69.3 285.2h2.1v2.1h-2.1zM59.7 270.2h2.0v2.0h-2.0zM35.3 280.3h2.3v2.3h-2.3zM51.3 248.6h2.4v2.4h-2.4zM47.4 279.9h2.4v2.4h-2.4zM74.6 255.3h2.1v2.1h-2.1zM78.0 287.9h1.9v1.9h-1.9zM63.7 301.9h2.0v2.0h-2.0zM71.0 253.9h3.0v3.0h-3.0zM49.9 259.8h2.7v2.7h-2.7zM58.8 299.0h2.7v2.7h-2.7zM67.1 275.3h3.0v3.0h-3.0zM26.0 295.3h2.5v2.5h-2.5zM36.4 291.8h2.1v2.1h-2.1zM52.4 295.0h1.7v1.7h-1.7zM38.1 282.7h1.5v1.5h-1.5zM53.5 290.6h2.2v2.2h-2.2zM35.9 291.4h2.8v2.8h-2.8zM65.6 277.4h2.8v2.8h-2.8zM67.0 255.3h2.0v2.0h-2.0zM28.0 248.8h2.0v2.0h-2.0zM70.8 293.2h1.6v1.6h-1.6zM32.6 268.4h2.8v2.8h-2.8zM57.0 297.0h1.5v1.5h-1.5zM77.7 258.3h2.4v2.4h-2.4zM71.5 287.3h1.7v1.7h-1.7z" fill="#dcc8ae" opacity="0.8"/><path d="M59.8 270.8h1.0v1.0h-1.0zM41.4 264.4h1.6v1.6h-1.6zM38.0 280.4h1.7v1.7h-1.7zM32.5 253.9h1.7v1.7h-1.7zM48.5 254.0h1.1v1.1h-1.1zM75.1 280.8h1.4v1.4h-1.4zM33.4 302.2h1.7v1.7h-1.7zM63.6 266.9h1.3v1.3h-1.3zM45.3 254.9h1.6v1.6h-1.6zM46.2 292.5h1.4v1.4h-1.4zM48.0 275.0h1.9v1.9h-1.9zM41.8 286.0h1.2v1.2h-1.2zM54.8 262.7h1.9v1.9h-1.9zM38.4 294.4h1.7v1.7h-1.7zM47.9 298.8h1.4v1.4h-1.4zM64.0 280.3h1.4v1.4h-1.4zM26.0 270.1h1.3v1.3h-1.3zM47.1 300.0h1.3v1.3h-1.3zM61.3 284.2h1.2v1.2h-1.2zM45.4 254.2h1.9v1.9h-1.9zM36.5 270.2h1.3v1.3h-1.3zM68.3 294.2h1.6v1.6h-1.6zM53.0 252.3h1.9v1.9h-1.9zM27.3 267.1h1.4v1.4h-1.4zM62.9 284.1h1.3v1.3h-1.3zM72.7 299.7h1.0v1.0h-1.0zM57.8 272.9h1.4v1.4h-1.4zM48.4 264.4h1.7v1.7h-1.7zM56.3 300.9h2.0v2.0h-2.0zM78.0 268.8h1.8v1.8h-1.8zM58.8 285.8h2.0v2.0h-2.0zM26.1 272.5h1.4v1.4h-1.4zM59.1 258.9h2.0v2.0h-2.0zM34.1 267.4h1.1v1.1h-1.1zM44.5 288.1h1.1v1.1h-1.1zM31.7 282.9h1.6v1.6h-1.6zM64.0 260.9h1.8v1.8h-1.8zM63.3 290.0h1.1v1.1h-1.1zM48.6 247.7h1.9v1.9h-1.9zM75.3 296.7h1.0v1.0h-1.0z" fill="#6a78a0" opacity="0.8"/></g><path d="M67,247 C65.5,255 64.5,265 65.2,274 C66,282 69.5,288 78,292 L78,247 Z" fill="#bcd5e4" filter="url(#bl)"/><path d="M23,271 C27,276 30,284 31,290 C32,295 31,299 30,302 L23,302 Z" fill="#c6dae4" filter="url(#bl)"/></g><clipPath id="cp01"><rect x="77.4" y="247.8" width="53.8" height="53.7"/></clipPath><g clip-path="url(#cp01)"><rect x="77.4" y="247.8" width="53.8" height="53.7" fill="#dbb068"/><ellipse cx="88" cy="290" rx="11" ry="9" fill="#bc843a" opacity="0.4" filter="url(#bl3)"/><ellipse cx="112" cy="264" rx="12" ry="9" fill="#f0d8a0" opacity="0.4" filter="url(#bl3)"/><ellipse cx="120" cy="292" rx="8" ry="6" fill="#c89448" opacity="0.3" filter="url(#bl3)"/><g filter="url(#bl)"><path d="M96.0 276.6h2.7v2.7h-2.7zM82.6 290.8h2.2v2.2h-2.2zM104.7 253.7h2.7v2.7h-2.7zM83.6 251.7h2.6v2.6h-2.6zM92.8 290.1h2.1v2.1h-2.1zM99.5 249.8h2.0v2.0h-2.0zM101.6 277.9h2.5v2.5h-2.5zM123.9 252.6h3.3v3.3h-3.3zM85.0 300.8h2.6v2.6h-2.6zM99.1 280.9h3.3v3.3h-3.3zM130.2 269.8h1.6v1.6h-1.6zM85.0 292.4h3.1v3.1h-3.1zM116.2 255.5h2.7v2.7h-2.7zM78.0 252.9h2.2v2.2h-2.2zM130.3 282.6h3.3v3.3h-3.3zM79.0 270.0h1.8v1.8h-1.8zM91.0 253.0h3.4v3.4h-3.4zM94.7 274.0h2.9v2.9h-2.9zM125.9 299.5h2.7v2.7h-2.7zM104.4 297.1h2.4v2.4h-2.4zM93.1 288.0h2.1v2.1h-2.1zM96.9 270.7h2.6v2.6h-2.6zM96.4 270.8h2.5v2.5h-2.5zM79.2 293.3h1.7v1.7h-1.7zM105.9 277.3h2.4v2.4h-2.4zM88.8 252.3h2.3v2.3h-2.3zM93.9 273.8h2.1v2.1h-2.1zM118.2 273.9h1.6v1.6h-1.6zM99.1 300.6h1.6v1.6h-1.6zM109.5 300.3h2.3v2.3h-2.3zM109.8 267.3h2.2v2.2h-2.2zM110.4 279.6h2.2v2.2h-2.2zM104.2 275.6h3.1v3.1h-3.1zM79.4 252.0h2.1v2.1h-2.1zM91.5 291.1h2.5v2.5h-2.5zM124.4 269.2h2.2v2.2h-2.2zM114.3 251.6h3.6v3.6h-3.6zM122.8 265.1h2.2v2.2h-2.2zM122.1 290.7h2.9v2.9h-2.9zM79.6 289.3h1.7v1.7h-1.7zM111.3 277.6h3.5v3.5h-3.5zM112.0 248.0h3.5v3.5h-3.5zM118.4 279.1h1.6v1.6h-1.6zM117.5 270.1h3.0v3.0h-3.0zM131.3 297.9h1.7v1.7h-1.7zM120.0 271.3h3.1v3.1h-3.1zM97.5 271.7h2.5v2.5h-2.5zM83.0 264.6h3.1v3.1h-3.1zM80.4 253.3h3.3v3.3h-3.3zM113.6 277.3h1.8v1.8h-1.8zM83.0 264.1h3.5v3.5h-3.5zM107.7 298.2h2.0v2.0h-2.0zM99.5 276.7h3.3v3.3h-3.3zM83.3 295.5h2.5v2.5h-2.5zM78.2 270.9h2.4v2.4h-2.4zM114.0 298.5h2.6v2.6h-2.6zM114.9 268.4h3.2v3.2h-3.2zM82.3 288.1h1.9v1.9h-1.9zM109.1 258.1h2.3v2.3h-2.3zM85.5 266.3h2.8v2.8h-2.8zM105.4 268.4h2.7v2.7h-2.7zM123.4 266.8h2.8v2.8h-2.8zM103.2 301.4h2.3v2.3h-2.3zM115.3 259.8h2.1v2.1h-2.1zM117.2 278.8h2.1v2.1h-2.1zM80.0 292.7h2.4v2.4h-2.4zM116.4 270.9h2.8v2.8h-2.8zM107.6 301.1h3.4v3.4h-3.4zM101.8 273.9h2.1v2.1h-2.1zM118.4 252.5h2.2v2.2h-2.2zM123.7 248.8h3.0v3.0h-3.0zM108.1 277.5h2.3v2.3h-2.3zM84.9 299.8h3.1v3.1h-3.1zM121.4 252.2h3.2v3.2h-3.2zM88.6 257.9h2.7v2.7h-2.7zM110.4 253.5h3.1v3.1h-3.1zM108.9 296.9h3.4v3.4h-3.4zM114.9 267.1h3.5v3.5h-3.5zM116.5 263.0h3.3v3.3h-3.3zM117.0 261.5h2.1v2.1h-2.1zM77.5 276.7h2.1v2.1h-2.1zM92.8 260.9h1.9v1.9h-1.9zM103.5 262.0h2.2v2.2h-2.2zM91.9 275.2h3.3v3.3h-3.3zM85.3 294.7h3.3v3.3h-3.3zM110.4 277.1h3.1v3.1h-3.1zM106.2 283.6h3.4v3.4h-3.4zM119.7 261.3h1.7v1.7h-1.7zM128.7 267.0h3.2v3.2h-3.2zM89.4 272.0h2.3v2.3h-2.3zM117.1 299.4h2.6v2.6h-2.6zM108.0 266.2h2.1v2.1h-2.1zM129.4 252.9h3.5v3.5h-3.5zM113.1 250.8h3.4v3.4h-3.4zM82.1 278.3h1.8v1.8h-1.8zM131.6 264.0h3.3v3.3h-3.3zM79.8 283.9h1.7v1.7h-1.7zM78.1 278.6h3.6v3.6h-3.6zM114.6 294.4h3.2v3.2h-3.2zM105.5 251.1h2.7v2.7h-2.7zM86.7 276.1h2.3v2.3h-2.3zM104.2 257.8h3.0v3.0h-3.0zM99.7 273.9h1.8v1.8h-1.8zM103.6 277.9h3.5v3.5h-3.5zM107.7 254.3h2.2v2.2h-2.2zM95.1 285.9h3.5v3.5h-3.5zM130.9 299.7h3.5v3.5h-3.5zM124.3 298.9h1.6v1.6h-1.6zM103.7 279.7h3.0v3.0h-3.0zM110.6 281.0h3.5v3.5h-3.5zM81.2 275.7h3.5v3.5h-3.5zM78.2 253.0h3.3v3.3h-3.3zM129.8 248.1h1.7v1.7h-1.7zM122.7 285.1h2.6v2.6h-2.6zM108.8 289.0h3.2v3.2h-3.2zM76.4 250.6h3.2v3.2h-3.2zM130.8 293.2h2.4v2.4h-2.4zM95.1 266.1h1.6v1.6h-1.6zM119.4 261.4h2.8v2.8h-2.8zM105.8 265.5h2.9v2.9h-2.9zM101.8 259.9h3.4v3.4h-3.4zM86.2 255.2h2.1v2.1h-2.1zM103.1 290.4h2.3v2.3h-2.3zM89.7 283.2h2.1v2.1h-2.1zM105.6 261.0h3.4v3.4h-3.4zM86.7 259.7h2.2v2.2h-2.2zM94.8 287.3h2.9v2.9h-2.9zM120.5 276.9h1.8v1.8h-1.8zM119.0 260.4h2.0v2.0h-2.0zM99.5 301.9h2.3v2.3h-2.3zM96.3 297.5h3.6v3.6h-3.6zM98.0 254.4h3.2v3.2h-3.2zM120.1 265.6h3.2v3.2h-3.2zM97.6 262.8h2.8v2.8h-2.8zM117.8 273.3h3.2v3.2h-3.2zM77.2 274.6h2.4v2.4h-2.4zM80.0 297.7h1.9v1.9h-1.9zM87.9 295.7h3.5v3.5h-3.5zM128.4 265.8h3.5v3.5h-3.5zM84.3 286.6h3.5v3.5h-3.5zM87.2 254.4h3.0v3.0h-3.0zM125.6 287.3h3.5v3.5h-3.5zM101.7 267.5h1.8v1.8h-1.8zM91.6 299.1h1.7v1.7h-1.7zM86.7 266.2h1.7v1.7h-1.7zM93.5 257.0h1.8v1.8h-1.8zM105.8 276.9h2.7v2.7h-2.7zM118.9 276.1h3.5v3.5h-3.5zM80.9 259.2h1.8v1.8h-1.8zM93.7 289.2h3.4v3.4h-3.4zM104.5 255.7h2.3v2.3h-2.3zM108.1 263.2h3.2v3.2h-3.2zM130.7 272.4h2.8v2.8h-2.8zM123.6 272.7h2.0v2.0h-2.0zM129.1 301.3h1.6v1.6h-1.6zM119.0 269.1h1.7v1.7h-1.7zM85.5 256.4h3.1v3.1h-3.1zM88.2 247.9h2.0v2.0h-2.0zM121.0 274.6h2.9v2.9h-2.9zM102.4 257.0h1.6v1.6h-1.6z" fill="#e6bc62" opacity="0.8"/><path d="M93.4 249.1h1.8v1.8h-1.8zM110.9 267.4h2.2v2.2h-2.2zM111.2 264.5h2.0v2.0h-2.0zM125.7 279.2h2.1v2.1h-2.1zM106.5 272.4h1.9v1.9h-1.9zM127.4 259.8h2.9v2.9h-2.9zM124.0 295.9h1.7v1.7h-1.7zM104.8 301.6h1.9v1.9h-1.9zM85.9 287.1h1.8v1.8h-1.8zM109.0 255.6h2.9v2.9h-2.9zM92.2 252.2h2.5v2.5h-2.5zM95.8 278.0h2.2v2.2h-2.2zM127.9 275.4h2.0v2.0h-2.0zM76.5 274.5h1.8v1.8h-1.8zM108.4 282.0h2.1v2.1h-2.1zM81.4 274.5h2.2v2.2h-2.2zM112.2 300.8h1.8v1.8h-1.8zM101.1 251.5h2.7v2.7h-2.7zM89.5 293.0h2.7v2.7h-2.7zM90.6 297.1h2.2v2.2h-2.2zM100.2 277.7h2.9v2.9h-2.9zM103.7 273.7h1.9v1.9h-1.9zM123.3 274.8h1.9v1.9h-1.9zM87.4 258.8h2.7v2.7h-2.7zM121.2 301.3h2.9v2.9h-2.9zM114.6 291.2h2.5v2.5h-2.5zM121.6 291.4h1.7v1.7h-1.7zM121.9 263.7h1.8v1.8h-1.8zM127.7 248.1h2.2v2.2h-2.2zM95.5 290.9h2.4v2.4h-2.4zM127.2 298.7h2.4v2.4h-2.4zM80.0 284.0h1.6v1.6h-1.6zM131.2 295.3h1.9v1.9h-1.9zM86.8 285.5h2.6v2.6h-2.6zM131.4 281.5h1.6v1.6h-1.6zM117.0 250.1h2.8v2.8h-2.8zM119.3 290.5h2.8v2.8h-2.8zM108.2 299.3h2.4v2.4h-2.4zM103.8 268.2h2.0v2.0h-2.0zM77.7 255.8h2.7v2.7h-2.7zM89.2 283.2h2.6v2.6h-2.6zM115.2 275.5h1.9v1.9h-1.9zM91.6 257.2h2.4v2.4h-2.4zM114.7 299.3h1.9v1.9h-1.9zM128.1 297.6h1.9v1.9h-1.9zM129.5 281.3h2.9v2.9h-2.9zM119.6 265.4h1.8v1.8h-1.8zM105.6 274.0h1.5v1.5h-1.5zM124.5 276.6h2.2v2.2h-2.2zM117.9 260.7h1.7v1.7h-1.7zM108.8 260.2h1.9v1.9h-1.9zM80.3 249.7h2.0v2.0h-2.0zM105.8 299.7h2.4v2.4h-2.4zM99.5 269.5h1.8v1.8h-1.8zM102.8 300.2h1.6v1.6h-1.6zM100.6 285.0h2.6v2.6h-2.6zM107.4 282.5h2.9v2.9h-2.9zM126.8 260.8h2.3v2.3h-2.3zM132.1 276.2h1.7v1.7h-1.7zM119.1 250.0h1.6v1.6h-1.6zM107.2 262.0h2.6v2.6h-2.6zM117.0 264.6h2.6v2.6h-2.6zM112.5 286.1h2.1v2.1h-2.1zM100.5 252.7h2.2v2.2h-2.2zM129.7 296.3h1.5v1.5h-1.5zM80.4 261.8h2.5v2.5h-2.5zM100.8 253.9h2.1v2.1h-2.1zM108.4 288.3h2.0v2.0h-2.0zM112.7 284.7h2.4v2.4h-2.4zM79.0 286.4h1.6v1.6h-1.6zM79.5 273.2h1.4v1.4h-1.4zM80.5 268.6h2.1v2.1h-2.1zM82.3 299.9h2.8v2.8h-2.8zM103.6 279.5h1.9v1.9h-1.9zM131.3 253.5h1.9v1.9h-1.9zM88.7 295.0h2.2v2.2h-2.2zM99.3 269.0h2.8v2.8h-2.8zM90.8 290.9h2.5v2.5h-2.5zM101.4 267.2h2.1v2.1h-2.1zM101.7 264.4h2.4v2.4h-2.4zM99.3 263.7h2.6v2.6h-2.6zM101.8 273.2h2.8v2.8h-2.8zM101.8 267.7h2.8v2.8h-2.8zM130.9 290.6h2.0v2.0h-2.0zM113.9 288.1h1.9v1.9h-1.9zM116.8 299.7h2.4v2.4h-2.4zM113.7 271.0h2.4v2.4h-2.4zM89.0 289.7h2.3v2.3h-2.3zM131.1 265.8h2.5v2.5h-2.5zM77.3 270.0h2.6v2.6h-2.6zM90.9 281.0h1.8v1.8h-1.8zM98.6 302.1h1.7v1.7h-1.7zM127.3 250.1h2.3v2.3h-2.3zM122.2 293.4h2.0v2.0h-2.0zM109.3 286.5h2.6v2.6h-2.6zM118.1 279.0h1.8v1.8h-1.8zM115.8 278.1h2.3v2.3h-2.3zM131.5 254.4h2.6v2.6h-2.6zM94.5 287.3h2.9v2.9h-2.9zM91.7 278.4h2.2v2.2h-2.2zM104.0 256.1h2.4v2.4h-2.4zM126.3 283.7h1.9v1.9h-1.9zM121.4 270.2h1.6v1.6h-1.6zM110.2 272.4h2.2v2.2h-2.2zM131.7 278.5h2.9v2.9h-2.9zM96.1 289.1h1.5v1.5h-1.5zM93.2 285.3h2.5v2.5h-2.5zM122.6 268.0h1.8v1.8h-1.8zM96.4 276.7h1.4v1.4h-1.4zM97.3 283.4h1.6v1.6h-1.6z" fill="#c0903e" opacity="0.8"/><path d="M93.8 295.4h2.3v2.3h-2.3zM90.3 256.7h1.3v1.3h-1.3zM81.2 291.0h2.1v2.1h-2.1zM91.2 274.0h2.0v2.0h-2.0zM78.0 292.4h2.2v2.2h-2.2zM88.2 286.0h2.0v2.0h-2.0zM95.2 295.7h1.5v1.5h-1.5zM102.8 264.3h1.7v1.7h-1.7zM121.7 278.5h1.9v1.9h-1.9zM131.5 259.2h1.5v1.5h-1.5zM111.0 255.2h2.4v2.4h-2.4zM95.4 271.3h1.7v1.7h-1.7zM122.6 297.8h2.0v2.0h-2.0zM86.0 266.6h2.0v2.0h-2.0zM88.5 296.0h2.2v2.2h-2.2zM89.0 267.1h1.5v1.5h-1.5zM116.5 249.4h2.0v2.0h-2.0zM79.9 293.7h1.9v1.9h-1.9zM108.9 252.1h1.3v1.3h-1.3zM96.1 301.6h1.9v1.9h-1.9zM124.5 250.3h1.3v1.3h-1.3zM77.6 285.6h1.4v1.4h-1.4zM91.6 284.0h2.0v2.0h-2.0zM94.4 272.8h1.5v1.5h-1.5zM107.7 266.6h1.6v1.6h-1.6zM90.3 263.1h1.5v1.5h-1.5zM77.3 264.1h1.9v1.9h-1.9zM91.4 253.1h2.2v2.2h-2.2zM102.6 275.3h1.6v1.6h-1.6zM125.9 288.8h1.9v1.9h-1.9zM113.2 285.4h1.8v1.8h-1.8zM99.5 268.5h1.8v1.8h-1.8zM102.5 276.3h1.8v1.8h-1.8zM120.4 296.5h1.5v1.5h-1.5zM77.6 263.6h1.2v1.2h-1.2zM120.8 281.4h1.5v1.5h-1.5zM87.1 295.2h2.2v2.2h-2.2zM114.5 285.3h2.1v2.1h-2.1zM101.8 268.9h1.9v1.9h-1.9zM125.5 302.0h2.3v2.3h-2.3zM123.0 250.9h1.5v1.5h-1.5zM130.6 277.1h1.8v1.8h-1.8zM93.7 294.8h1.8v1.8h-1.8zM131.7 251.0h2.4v2.4h-2.4zM77.1 255.1h1.7v1.7h-1.7zM112.1 253.0h1.9v1.9h-1.9zM128.8 271.1h2.1v2.1h-2.1zM109.4 279.2h1.4v1.4h-1.4zM102.3 296.9h2.0v2.0h-2.0zM88.5 271.7h1.9v1.9h-1.9zM95.2 279.0h2.0v2.0h-2.0zM77.4 259.1h2.0v2.0h-2.0zM88.4 250.9h2.1v2.1h-2.1zM95.0 300.2h1.9v1.9h-1.9zM82.1 282.3h1.5v1.5h-1.5zM121.8 287.1h2.1v2.1h-2.1zM79.6 248.7h2.2v2.2h-2.2zM84.2 258.0h1.2v1.2h-1.2zM85.5 273.2h2.3v2.3h-2.3zM94.3 261.2h2.2v2.2h-2.2zM86.7 282.2h1.9v1.9h-1.9zM128.6 249.2h1.9v1.9h-1.9zM97.8 292.7h1.5v1.5h-1.5zM116.3 257.1h1.8v1.8h-1.8zM130.4 260.2h1.5v1.5h-1.5zM127.6 284.4h1.3v1.3h-1.3zM86.8 260.0h1.5v1.5h-1.5zM123.5 285.8h2.4v2.4h-2.4zM113.8 281.8h1.7v1.7h-1.7zM116.4 274.3h1.3v1.3h-1.3zM103.9 268.2h1.8v1.8h-1.8zM79.1 248.4h2.4v2.4h-2.4zM97.1 265.2h1.4v1.4h-1.4zM109.5 297.7h1.4v1.4h-1.4zM104.3 274.6h2.1v2.1h-2.1zM107.9 260.1h1.4v1.4h-1.4zM116.8 251.2h2.2v2.2h-2.2zM78.3 257.4h1.8v1.8h-1.8zM123.5 281.3h2.1v2.1h-2.1zM118.9 287.0h1.3v1.3h-1.3z" fill="#9496b0" opacity="0.8"/><path d="M122.5 255.0h1.4v1.4h-1.4zM78.5 248.4h2.4v2.4h-2.4zM97.7 251.6h1.3v1.3h-1.3zM123.6 280.3h2.5v2.5h-2.5zM78.5 253.1h1.6v1.6h-1.6zM87.1 253.0h1.5v1.5h-1.5zM112.1 256.2h1.4v1.4h-1.4zM106.3 267.7h1.4v1.4h-1.4zM108.1 275.1h1.7v1.7h-1.7zM102.9 249.0h2.1v2.1h-2.1zM87.2 265.5h1.2v1.2h-1.2zM125.9 279.5h1.7v1.7h-1.7zM106.6 299.2h1.4v1.4h-1.4zM97.8 286.2h1.7v1.7h-1.7zM115.8 297.4h1.3v1.3h-1.3zM92.3 263.1h2.3v2.3h-2.3zM120.2 285.8h2.5v2.5h-2.5zM86.8 268.7h2.4v2.4h-2.4zM119.1 253.1h2.6v2.6h-2.6zM117.7 295.0h1.7v1.7h-1.7zM110.2 300.2h2.5v2.5h-2.5zM108.6 296.4h2.6v2.6h-2.6zM123.2 283.3h2.5v2.5h-2.5zM84.4 269.3h2.0v2.0h-2.0zM83.7 290.3h1.3v1.3h-1.3zM111.5 262.4h1.7v1.7h-1.7zM110.3 257.5h1.8v1.8h-1.8zM124.2 301.8h1.6v1.6h-1.6zM96.8 285.4h1.5v1.5h-1.5zM123.8 257.9h2.0v2.0h-2.0zM95.3 246.9h1.2v1.2h-1.2zM76.5 265.1h1.6v1.6h-1.6zM131.7 282.3h1.3v1.3h-1.3zM116.4 259.7h1.9v1.9h-1.9zM116.7 294.5h2.5v2.5h-2.5zM99.9 264.5h1.8v1.8h-1.8zM93.9 288.1h1.8v1.8h-1.8zM114.7 255.3h2.3v2.3h-2.3zM130.3 258.1h2.1v2.1h-2.1zM85.4 248.8h1.8v1.8h-1.8zM86.6 287.5h2.0v2.0h-2.0zM114.0 300.7h1.3v1.3h-1.3zM81.9 248.8h1.8v1.8h-1.8zM122.4 284.9h2.0v2.0h-2.0zM124.2 267.5h1.4v1.4h-1.4zM112.2 248.2h1.5v1.5h-1.5zM78.1 255.8h1.3v1.3h-1.3zM106.1 253.9h2.0v2.0h-2.0zM122.4 266.0h1.4v1.4h-1.4zM113.9 287.4h2.4v2.4h-2.4zM107.3 279.2h2.4v2.4h-2.4zM114.2 301.1h1.6v1.6h-1.6zM119.6 282.0h1.9v1.9h-1.9zM77.0 273.3h1.6v1.6h-1.6zM110.0 275.2h1.9v1.9h-1.9zM79.7 254.1h2.0v2.0h-2.0zM114.5 302.0h2.3v2.3h-2.3zM92.6 272.2h1.9v1.9h-1.9zM121.3 268.8h2.5v2.5h-2.5zM103.4 269.0h1.9v1.9h-1.9z" fill="#f0dcb4" opacity="0.8"/><path d="M96.3 302.5h1.2v1.2h-1.2zM98.7 251.2h1.9v1.9h-1.9zM84.8 255.1h1.6v1.6h-1.6zM110.0 289.3h1.6v1.6h-1.6zM92.9 267.3h2.1v2.1h-2.1zM88.3 247.4h2.1v2.1h-2.1zM103.3 254.2h1.3v1.3h-1.3zM126.1 288.5h1.3v1.3h-1.3zM114.1 258.7h1.6v1.6h-1.6zM110.2 249.6h2.1v2.1h-2.1zM95.1 254.8h2.0v2.0h-2.0zM82.5 248.9h1.9v1.9h-1.9zM102.6 297.0h2.0v2.0h-2.0zM87.9 249.3h1.8v1.8h-1.8zM102.6 263.6h2.1v2.1h-2.1zM88.0 282.6h1.3v1.3h-1.3zM127.9 299.6h1.8v1.8h-1.8zM94.3 287.1h2.1v2.1h-2.1zM120.8 249.1h1.7v1.7h-1.7zM84.2 277.2h2.2v2.2h-2.2zM124.7 260.7h1.8v1.8h-1.8zM94.1 256.2h1.9v1.9h-1.9zM118.8 265.6h1.6v1.6h-1.6zM115.3 287.3h1.7v1.7h-1.7zM83.0 252.1h1.4v1.4h-1.4zM122.5 274.4h1.8v1.8h-1.8zM96.7 267.3h1.4v1.4h-1.4zM130.8 280.5h1.3v1.3h-1.3zM115.6 280.1h1.8v1.8h-1.8zM119.4 280.7h2.1v2.1h-2.1zM130.5 269.5h1.8v1.8h-1.8zM97.3 269.7h1.6v1.6h-1.6zM112.5 266.4h1.6v1.6h-1.6zM123.7 291.3h1.9v1.9h-1.9zM123.5 268.3h1.8v1.8h-1.8z" fill="#a07840" opacity="0.8"/></g></g><clipPath id="cp02"><rect x="131.2" y="247.8" width="54.0" height="53.7"/></clipPath><g clip-path="url(#cp02)"><rect x="131.2" y="247.8" width="54.0" height="53.7" fill="#d5bc9a"/><ellipse cx="145" cy="262" rx="10" ry="9" fill="#d0a478" opacity="0.35" filter="url(#bl3)"/><ellipse cx="225" cy="0" rx="1" ry="1" fill="#fff" opacity="0" filter="url(#bl3)"/><ellipse cx="222" cy="0" rx="1" ry="1" fill="#fff" opacity="0" filter="url(#bl3)"/><ellipse cx="222" cy="285" rx="1" ry="1" fill="#fff" opacity="0" filter="url(#bl3)"/><ellipse cx="168" cy="288" rx="11" ry="9" fill="#b8c2d0" opacity="0.45" filter="url(#bl3)"/><g filter="url(#bl)"><path d="M144.3 264.4h1.8v1.8h-1.8zM174.9 298.1h2.2v2.2h-2.2zM151.4 253.3h1.9v1.9h-1.9zM165.9 296.5h1.8v1.8h-1.8zM144.5 289.1h2.1v2.1h-2.1zM179.4 266.5h2.5v2.5h-2.5zM141.5 263.0h2.4v2.4h-2.4zM145.8 287.4h1.7v1.7h-1.7zM166.0 291.5h2.3v2.3h-2.3zM140.9 253.5h1.8v1.8h-1.8zM174.6 280.4h1.6v1.6h-1.6zM155.6 280.1h2.2v2.2h-2.2zM132.2 270.2h2.3v2.3h-2.3zM184.6 266.8h3.4v3.4h-3.4zM178.8 278.8h1.9v1.9h-1.9zM175.4 251.8h2.7v2.7h-2.7zM135.6 252.0h2.4v2.4h-2.4zM139.0 302.1h2.8v2.8h-2.8zM180.4 300.1h3.1v3.1h-3.1zM166.4 273.1h3.2v3.2h-3.2zM167.7 255.6h2.7v2.7h-2.7zM153.4 275.5h3.0v3.0h-3.0zM168.8 278.5h3.2v3.2h-3.2zM176.4 251.9h1.9v1.9h-1.9zM132.8 255.7h3.5v3.5h-3.5zM147.5 271.3h2.5v2.5h-2.5zM161.8 262.4h3.2v3.2h-3.2zM148.8 293.9h3.2v3.2h-3.2zM130.3 277.3h1.8v1.8h-1.8zM179.7 250.7h2.1v2.1h-2.1zM173.3 279.7h2.9v2.9h-2.9zM153.3 275.8h2.0v2.0h-2.0zM156.1 261.1h3.0v3.0h-3.0zM136.2 254.5h2.0v2.0h-2.0zM160.0 279.2h1.6v1.6h-1.6zM185.5 293.3h2.4v2.4h-2.4zM139.1 292.8h3.6v3.6h-3.6zM140.2 288.9h3.2v3.2h-3.2zM182.7 258.4h1.8v1.8h-1.8zM139.4 259.7h3.4v3.4h-3.4zM181.2 273.2h1.9v1.9h-1.9zM149.9 260.2h2.9v2.9h-2.9zM170.5 290.0h2.5v2.5h-2.5zM155.8 272.9h2.3v2.3h-2.3zM155.7 285.0h3.0v3.0h-3.0zM148.5 278.4h1.9v1.9h-1.9zM132.7 268.4h2.3v2.3h-2.3zM132.0 251.2h2.5v2.5h-2.5zM183.0 293.4h1.7v1.7h-1.7zM147.9 267.3h2.2v2.2h-2.2zM137.9 279.7h3.3v3.3h-3.3zM151.6 256.6h1.8v1.8h-1.8zM131.0 289.4h2.1v2.1h-2.1zM170.7 290.8h1.8v1.8h-1.8zM140.8 264.4h3.1v3.1h-3.1zM171.5 263.7h2.5v2.5h-2.5zM150.1 273.1h3.2v3.2h-3.2zM144.9 291.9h3.4v3.4h-3.4zM163.9 300.2h3.5v3.5h-3.5zM139.8 302.0h2.0v2.0h-2.0zM175.3 253.6h2.2v2.2h-2.2zM155.0 293.5h3.0v3.0h-3.0zM141.6 296.8h3.3v3.3h-3.3zM158.8 249.6h2.2v2.2h-2.2zM146.6 270.1h3.5v3.5h-3.5zM163.5 292.5h1.7v1.7h-1.7zM143.9 287.5h2.3v2.3h-2.3zM142.9 250.3h1.7v1.7h-1.7zM153.3 277.2h2.4v2.4h-2.4zM161.8 263.0h1.6v1.6h-1.6zM168.0 265.5h2.6v2.6h-2.6zM151.4 261.8h1.7v1.7h-1.7zM146.8 263.4h1.8v1.8h-1.8zM131.9 273.6h1.6v1.6h-1.6zM179.4 266.9h2.5v2.5h-2.5zM159.6 248.1h1.8v1.8h-1.8zM174.2 277.8h2.6v2.6h-2.6zM149.5 288.6h2.6v2.6h-2.6zM174.6 293.3h3.4v3.4h-3.4zM170.8 284.3h2.5v2.5h-2.5zM160.1 279.1h2.7v2.7h-2.7zM176.1 294.6h1.7v1.7h-1.7zM172.3 281.1h2.8v2.8h-2.8zM181.1 249.6h2.6v2.6h-2.6zM151.2 299.6h1.9v1.9h-1.9zM161.7 254.8h3.1v3.1h-3.1zM157.6 287.8h2.2v2.2h-2.2zM179.7 247.2h2.0v2.0h-2.0zM171.3 295.8h3.2v3.2h-3.2zM145.6 251.3h3.0v3.0h-3.0zM171.2 250.2h3.5v3.5h-3.5zM159.8 248.7h2.6v2.6h-2.6zM149.1 252.6h3.4v3.4h-3.4zM182.5 253.7h2.5v2.5h-2.5zM145.5 284.2h1.8v1.8h-1.8zM148.9 269.7h2.5v2.5h-2.5zM154.6 280.0h3.5v3.5h-3.5zM182.4 297.3h3.3v3.3h-3.3zM143.0 260.4h2.5v2.5h-2.5zM166.2 280.6h2.3v2.3h-2.3zM185.7 264.2h1.6v1.6h-1.6zM135.3 258.5h3.1v3.1h-3.1zM177.3 249.1h2.1v2.1h-2.1zM143.8 290.6h3.4v3.4h-3.4zM144.9 252.5h3.5v3.5h-3.5zM184.6 286.7h2.5v2.5h-2.5zM172.0 289.5h2.6v2.6h-2.6zM145.4 276.1h2.9v2.9h-2.9zM148.4 282.4h1.9v1.9h-1.9zM184.6 258.6h2.1v2.1h-2.1zM184.0 299.7h3.5v3.5h-3.5zM177.3 294.1h3.2v3.2h-3.2zM161.9 250.9h3.1v3.1h-3.1zM177.0 293.5h1.7v1.7h-1.7zM133.6 287.5h2.6v2.6h-2.6zM180.2 302.0h2.5v2.5h-2.5zM168.0 283.8h3.0v3.0h-3.0zM150.8 282.4h1.7v1.7h-1.7zM180.6 287.1h3.2v3.2h-3.2zM156.1 258.2h2.5v2.5h-2.5zM168.3 277.3h1.8v1.8h-1.8zM130.4 269.0h2.1v2.1h-2.1zM142.9 259.1h2.4v2.4h-2.4zM169.1 297.7h3.0v3.0h-3.0zM131.4 295.1h2.8v2.8h-2.8zM171.2 281.0h2.3v2.3h-2.3zM149.2 250.8h2.9v2.9h-2.9zM133.2 284.7h3.4v3.4h-3.4zM167.6 280.6h3.2v3.2h-3.2zM183.9 292.1h3.6v3.6h-3.6z" fill="#cba47a" opacity="0.7"/><path d="M155.9 247.6h2.5v2.5h-2.5zM178.5 280.9h1.4v1.4h-1.4zM163.4 294.3h3.2v3.2h-3.2zM156.1 296.8h1.4v1.4h-1.4zM135.6 263.8h1.6v1.6h-1.6zM149.2 301.2h2.4v2.4h-2.4zM142.9 247.6h3.0v3.0h-3.0zM146.5 274.0h1.9v1.9h-1.9zM160.2 250.4h1.9v1.9h-1.9zM175.9 289.7h2.5v2.5h-2.5zM178.7 288.1h1.6v1.6h-1.6zM173.6 255.6h2.5v2.5h-2.5zM144.7 259.0h2.5v2.5h-2.5zM185.7 296.3h1.9v1.9h-1.9zM176.3 251.8h1.5v1.5h-1.5zM135.8 299.6h2.7v2.7h-2.7zM158.0 271.7h2.7v2.7h-2.7zM162.6 269.8h1.9v1.9h-1.9zM146.3 296.3h2.8v2.8h-2.8zM150.7 257.4h3.1v3.1h-3.1zM172.3 301.5h1.5v1.5h-1.5zM165.0 300.0h1.8v1.8h-1.8zM142.6 255.0h2.3v2.3h-2.3zM147.8 292.9h1.6v1.6h-1.6zM133.0 285.9h2.6v2.6h-2.6zM176.9 287.3h1.7v1.7h-1.7zM184.4 297.8h2.4v2.4h-2.4zM134.0 263.2h3.0v3.0h-3.0zM150.0 251.4h1.8v1.8h-1.8zM154.5 281.1h1.6v1.6h-1.6zM160.1 249.9h2.9v2.9h-2.9zM144.9 292.6h2.1v2.1h-2.1zM174.6 247.0h2.4v2.4h-2.4zM170.2 299.6h1.8v1.8h-1.8zM141.3 273.6h2.4v2.4h-2.4zM135.2 285.5h1.5v1.5h-1.5zM141.9 247.0h1.6v1.6h-1.6zM175.2 280.6h1.6v1.6h-1.6zM166.2 254.4h2.5v2.5h-2.5zM166.2 291.4h1.6v1.6h-1.6zM147.2 254.8h1.5v1.5h-1.5zM178.8 284.8h2.3v2.3h-2.3zM181.3 293.3h2.9v2.9h-2.9zM142.3 266.0h2.8v2.8h-2.8zM156.7 301.7h2.2v2.2h-2.2zM178.7 300.8h3.0v3.0h-3.0zM181.9 261.9h1.5v1.5h-1.5zM168.1 299.9h1.7v1.7h-1.7zM162.1 250.4h1.5v1.5h-1.5zM153.6 292.4h2.9v2.9h-2.9zM155.8 271.4h2.8v2.8h-2.8zM162.1 269.5h2.2v2.2h-2.2zM133.7 253.5h2.2v2.2h-2.2zM137.9 292.9h3.0v3.0h-3.0zM161.2 255.7h2.9v2.9h-2.9zM163.0 282.8h1.5v1.5h-1.5zM183.0 279.7h1.5v1.5h-1.5zM141.8 258.2h1.5v1.5h-1.5zM175.4 295.3h1.4v1.4h-1.4zM162.5 260.5h3.0v3.0h-3.0zM172.0 262.4h1.9v1.9h-1.9zM168.2 296.5h3.1v3.1h-3.1zM162.8 261.1h2.0v2.0h-2.0zM138.2 288.8h2.1v2.1h-2.1zM182.4 293.0h3.2v3.2h-3.2zM164.0 298.9h2.4v2.4h-2.4zM148.3 267.9h1.8v1.8h-1.8zM166.2 294.9h1.8v1.8h-1.8zM131.8 267.2h2.9v2.9h-2.9zM160.8 275.6h2.4v2.4h-2.4zM168.2 277.9h1.8v1.8h-1.8zM183.2 263.1h2.3v2.3h-2.3zM135.0 259.5h1.8v1.8h-1.8zM141.0 251.2h1.7v1.7h-1.7zM166.2 280.2h2.3v2.3h-2.3zM164.5 263.3h2.6v2.6h-2.6zM142.3 287.6h3.2v3.2h-3.2zM164.7 277.4h1.9v1.9h-1.9zM165.0 268.2h1.4v1.4h-1.4zM163.3 286.8h2.8v2.8h-2.8zM154.6 288.1h2.5v2.5h-2.5zM160.9 284.0h1.6v1.6h-1.6zM168.0 286.0h3.1v3.1h-3.1zM157.1 256.1h2.0v2.0h-2.0zM139.5 296.3h2.7v2.7h-2.7zM135.2 294.6h3.2v3.2h-3.2zM181.1 271.8h2.2v2.2h-2.2zM139.4 266.6h3.0v3.0h-3.0zM136.6 276.8h2.4v2.4h-2.4zM174.6 280.2h3.1v3.1h-3.1zM163.7 261.9h3.0v3.0h-3.0zM132.8 282.9h1.9v1.9h-1.9zM139.1 259.7h2.2v2.2h-2.2zM163.9 261.9h2.3v2.3h-2.3zM174.8 291.6h3.2v3.2h-3.2zM160.8 265.5h2.7v2.7h-2.7zM154.7 284.9h2.9v2.9h-2.9zM145.0 295.3h2.1v2.1h-2.1zM162.5 275.9h2.4v2.4h-2.4zM183.4 288.2h3.2v3.2h-3.2zM145.6 248.4h2.3v2.3h-2.3zM177.4 247.9h1.4v1.4h-1.4zM133.2 264.4h3.1v3.1h-3.1zM166.5 294.4h3.0v3.0h-3.0zM167.9 260.2h2.3v2.3h-2.3zM136.4 298.3h1.8v1.8h-1.8zM157.7 291.7h2.5v2.5h-2.5zM135.3 260.2h2.3v2.3h-2.3zM168.7 259.5h2.5v2.5h-2.5zM172.2 302.3h3.2v3.2h-3.2zM155.7 275.2h1.6v1.6h-1.6zM166.3 252.5h1.6v1.6h-1.6zM160.6 257.7h2.8v2.8h-2.8zM185.9 281.4h2.4v2.4h-2.4zM169.6 293.5h1.8v1.8h-1.8zM173.9 252.6h2.3v2.3h-2.3zM140.5 278.1h3.1v3.1h-3.1zM155.5 289.6h2.1v2.1h-2.1zM168.7 264.5h2.0v2.0h-2.0zM152.1 289.8h2.3v2.3h-2.3zM144.4 269.3h2.5v2.5h-2.5zM154.3 284.9h2.8v2.8h-2.8zM161.1 252.6h1.9v1.9h-1.9zM146.9 299.6h2.7v2.7h-2.7zM138.9 281.9h1.8v1.8h-1.8zM184.2 267.3h2.7v2.7h-2.7zM173.2 259.8h2.8v2.8h-2.8zM164.0 276.1h1.5v1.5h-1.5zM140.7 276.0h2.2v2.2h-2.2zM165.8 278.2h2.1v2.1h-2.1zM185.4 292.9h2.6v2.6h-2.6zM161.1 260.6h2.6v2.6h-2.6zM144.1 280.9h2.5v2.5h-2.5zM154.2 260.1h2.7v2.7h-2.7zM179.8 264.6h2.2v2.2h-2.2zM154.2 282.0h2.8v2.8h-2.8zM155.3 271.7h2.0v2.0h-2.0zM176.6 270.1h2.3v2.3h-2.3zM150.6 247.4h2.3v2.3h-2.3zM184.7 290.9h1.4v1.4h-1.4z" fill="#b6c2d2" opacity="0.75"/><path d="M179.5 250.6h1.9v1.9h-1.9zM182.8 284.3h2.7v2.7h-2.7zM176.9 256.7h2.2v2.2h-2.2zM135.5 267.9h2.2v2.2h-2.2zM176.0 262.9h2.5v2.5h-2.5zM138.1 261.1h1.5v1.5h-1.5zM162.7 279.5h2.5v2.5h-2.5zM153.7 299.0h2.6v2.6h-2.6zM162.0 295.5h1.7v1.7h-1.7zM146.6 277.5h2.4v2.4h-2.4zM183.7 284.6h1.5v1.5h-1.5zM183.1 272.8h1.7v1.7h-1.7zM172.9 281.8h2.8v2.8h-2.8zM161.1 261.0h2.2v2.2h-2.2zM156.3 266.4h2.3v2.3h-2.3zM138.6 260.9h1.6v1.6h-1.6zM131.7 276.1h2.6v2.6h-2.6zM152.7 297.1h2.4v2.4h-2.4zM167.1 262.7h2.8v2.8h-2.8zM149.7 293.9h1.8v1.8h-1.8zM183.5 284.8h1.7v1.7h-1.7zM171.2 255.5h2.0v2.0h-2.0zM151.4 265.4h2.0v2.0h-2.0zM139.2 269.1h1.5v1.5h-1.5zM174.8 266.5h2.5v2.5h-2.5zM154.2 301.1h2.8v2.8h-2.8zM169.7 293.6h2.9v2.9h-2.9zM182.3 269.8h2.3v2.3h-2.3zM134.1 267.1h1.9v1.9h-1.9zM165.0 247.2h2.6v2.6h-2.6zM134.4 270.4h2.2v2.2h-2.2zM177.3 282.0h1.6v1.6h-1.6zM167.5 259.9h2.4v2.4h-2.4zM153.4 300.0h2.1v2.1h-2.1zM145.4 264.1h2.9v2.9h-2.9zM149.7 260.3h2.3v2.3h-2.3zM167.7 299.2h1.5v1.5h-1.5zM148.6 287.1h2.2v2.2h-2.2zM168.9 284.4h1.5v1.5h-1.5zM133.0 256.7h1.9v1.9h-1.9zM140.4 262.8h1.6v1.6h-1.6zM131.7 276.0h2.6v2.6h-2.6zM139.1 252.0h2.6v2.6h-2.6zM134.6 254.6h2.2v2.2h-2.2zM146.8 290.5h2.2v2.2h-2.2zM159.5 267.6h1.4v1.4h-1.4zM176.2 268.5h2.7v2.7h-2.7zM136.1 270.9h2.3v2.3h-2.3zM138.9 250.9h2.9v2.9h-2.9zM182.8 302.5h2.3v2.3h-2.3zM171.2 280.3h2.2v2.2h-2.2zM139.8 282.6h2.1v2.1h-2.1zM168.2 249.1h1.9v1.9h-1.9zM136.5 289.3h2.2v2.2h-2.2zM146.2 290.3h2.2v2.2h-2.2zM146.5 268.7h1.4v1.4h-1.4zM133.6 248.8h2.9v2.9h-2.9zM179.4 277.1h2.9v2.9h-2.9zM160.4 284.8h1.6v1.6h-1.6zM154.6 280.8h2.1v2.1h-2.1zM166.8 265.9h2.4v2.4h-2.4zM141.9 274.1h2.1v2.1h-2.1zM159.7 249.9h1.8v1.8h-1.8zM170.3 256.1h2.2v2.2h-2.2zM185.9 280.8h2.6v2.6h-2.6zM173.4 300.7h2.0v2.0h-2.0zM152.4 288.8h1.4v1.4h-1.4zM156.4 261.9h2.3v2.3h-2.3zM171.2 294.8h2.2v2.2h-2.2zM168.9 251.2h2.5v2.5h-2.5zM182.3 281.1h2.2v2.2h-2.2zM158.8 269.7h1.7v1.7h-1.7zM141.2 291.1h2.2v2.2h-2.2zM132.4 281.1h2.7v2.7h-2.7zM166.7 256.8h2.9v2.9h-2.9zM140.4 275.1h2.1v2.1h-2.1zM139.5 261.7h1.7v1.7h-1.7zM139.6 249.1h2.4v2.4h-2.4zM167.5 260.8h2.9v2.9h-2.9zM153.9 272.2h2.9v2.9h-2.9zM166.5 272.7h2.6v2.6h-2.6zM171.7 264.0h1.5v1.5h-1.5zM171.2 288.5h2.4v2.4h-2.4zM136.8 288.3h1.7v1.7h-1.7zM174.9 281.4h2.4v2.4h-2.4zM134.4 267.1h2.6v2.6h-2.6zM136.4 248.9h2.1v2.1h-2.1zM177.9 281.9h1.8v1.8h-1.8zM134.8 293.4h2.7v2.7h-2.7zM169.5 258.3h2.6v2.6h-2.6zM130.7 256.4h1.9v1.9h-1.9zM183.8 248.8h1.7v1.7h-1.7zM171.3 289.3h1.8v1.8h-1.8zM134.5 294.4h3.0v3.0h-3.0zM181.1 278.3h1.5v1.5h-1.5zM171.6 283.0h2.7v2.7h-2.7zM172.7 274.8h3.0v3.0h-3.0zM156.1 271.6h2.4v2.4h-2.4zM174.3 279.5h2.9v2.9h-2.9zM145.4 296.7h2.8v2.8h-2.8z" fill="#e6ddd0" opacity="0.75"/><path d="M149.6 248.4h1.8v1.8h-1.8zM164.9 300.3h1.8v1.8h-1.8zM170.7 289.1h1.4v1.4h-1.4zM167.5 271.2h1.4v1.4h-1.4zM145.6 267.0h1.9v1.9h-1.9zM161.1 264.7h1.3v1.3h-1.3zM174.3 288.8h2.0v2.0h-2.0zM174.2 250.3h1.5v1.5h-1.5zM156.1 263.3h2.0v2.0h-2.0zM141.7 247.6h1.7v1.7h-1.7zM133.0 248.4h1.8v1.8h-1.8zM164.0 277.0h1.3v1.3h-1.3zM161.6 275.9h1.5v1.5h-1.5zM142.7 255.5h1.7v1.7h-1.7zM150.7 279.4h1.9v1.9h-1.9zM145.7 280.6h1.5v1.5h-1.5zM172.0 258.2h1.8v1.8h-1.8zM171.4 291.3h1.7v1.7h-1.7zM181.3 301.7h2.0v2.0h-2.0zM150.3 261.6h1.8v1.8h-1.8zM137.4 256.7h1.3v1.3h-1.3zM166.6 268.4h2.1v2.1h-2.1zM175.4 276.4h1.5v1.5h-1.5zM148.1 249.7h1.3v1.3h-1.3zM179.0 263.4h1.2v1.2h-1.2zM185.1 268.0h2.0v2.0h-2.0zM155.6 300.7h1.3v1.3h-1.3zM156.7 282.9h1.2v1.2h-1.2zM181.6 265.6h1.9v1.9h-1.9zM134.6 251.2h1.3v1.3h-1.3zM174.4 299.3h2.1v2.1h-2.1zM159.9 251.9h2.0v2.0h-2.0zM158.6 290.4h1.8v1.8h-1.8zM161.9 256.3h1.3v1.3h-1.3zM134.8 270.9h1.5v1.5h-1.5zM183.6 249.5h2.0v2.0h-2.0zM136.9 252.5h2.1v2.1h-2.1zM142.5 279.9h1.8v1.8h-1.8zM152.6 266.3h1.3v1.3h-1.3zM169.2 267.5h1.8v1.8h-1.8zM176.1 251.0h1.6v1.6h-1.6zM150.0 298.7h1.8v1.8h-1.8zM141.2 272.3h1.2v1.2h-1.2zM159.0 250.7h1.3v1.3h-1.3zM158.7 276.8h1.4v1.4h-1.4zM162.9 264.2h1.9v1.9h-1.9zM133.1 293.7h1.6v1.6h-1.6zM139.9 263.0h1.8v1.8h-1.8zM135.5 297.6h1.4v1.4h-1.4zM153.2 250.8h1.7v1.7h-1.7zM184.0 257.2h1.4v1.4h-1.4zM160.8 282.4h1.3v1.3h-1.3zM142.5 280.5h1.4v1.4h-1.4zM131.7 285.5h2.1v2.1h-2.1zM175.3 294.4h1.4v1.4h-1.4zM147.6 280.2h1.8v1.8h-1.8zM165.3 277.6h1.4v1.4h-1.4zM143.6 251.5h1.3v1.3h-1.3zM162.7 251.6h2.1v2.1h-2.1zM183.9 255.0h2.2v2.2h-2.2z" fill="#a0aac0" opacity="0.75"/></g></g><clipPath id="cp03"><rect x="185.2" y="247.8" width="53.4" height="53.7"/></clipPath><g clip-path="url(#cp03)"><rect x="185.2" y="247.8" width="53.4" height="53.7" fill="#afc9da"/><ellipse cx="195" cy="275" rx="9" ry="13" fill="#5a88c8" opacity="0.35" filter="url(#bl3)"/><ellipse cx="225" cy="262" rx="9" ry="9" fill="#d6e2ea" opacity="0.4" filter="url(#bl3)"/><ellipse cx="212" cy="292" rx="8" ry="6" fill="#b8a890" opacity="0.35" filter="url(#bl3)"/><g filter="url(#bl)"><path d="M218.8 247.1h1.9v1.9h-1.9zM204.2 264.0h1.4v1.4h-1.4zM197.7 247.8h2.0v2.0h-2.0zM210.9 259.7h2.7v2.7h-2.7zM233.3 274.6h2.5v2.5h-2.5zM203.8 288.7h2.5v2.5h-2.5zM203.7 288.0h1.8v1.8h-1.8zM193.8 270.1h1.5v1.5h-1.5zM224.0 260.8h2.0v2.0h-2.0zM229.0 280.1h2.7v2.7h-2.7zM224.4 285.4h2.4v2.4h-2.4zM222.5 298.0h2.2v2.2h-2.2zM220.8 277.4h2.1v2.1h-2.1zM236.3 263.5h1.6v1.6h-1.6zM212.0 264.2h2.4v2.4h-2.4zM219.4 246.9h1.6v1.6h-1.6zM218.5 268.9h2.3v2.3h-2.3zM210.2 253.0h2.3v2.3h-2.3zM238.1 251.9h2.2v2.2h-2.2zM218.2 280.9h2.1v2.1h-2.1zM212.3 301.9h2.6v2.6h-2.6zM208.3 292.1h2.3v2.3h-2.3zM228.8 302.4h1.4v1.4h-1.4zM196.0 259.7h2.5v2.5h-2.5zM235.4 259.4h2.0v2.0h-2.0zM233.5 287.0h2.2v2.2h-2.2zM233.7 298.3h1.4v1.4h-1.4zM237.7 263.0h2.2v2.2h-2.2zM225.9 263.2h1.8v1.8h-1.8zM234.4 290.9h2.8v2.8h-2.8zM189.4 281.7h2.4v2.4h-2.4zM237.2 287.2h1.7v1.7h-1.7zM189.8 256.4h1.7v1.7h-1.7zM215.8 264.8h1.5v1.5h-1.5zM189.0 285.0h2.5v2.5h-2.5zM191.0 275.4h2.8v2.8h-2.8zM204.2 276.6h2.5v2.5h-2.5zM185.5 295.4h2.5v2.5h-2.5zM225.0 265.9h2.0v2.0h-2.0zM236.3 250.2h1.4v1.4h-1.4zM219.7 299.9h1.5v1.5h-1.5zM194.6 272.4h2.5v2.5h-2.5zM215.4 283.5h1.4v1.4h-1.4zM195.2 279.4h2.4v2.4h-2.4zM189.3 251.8h1.8v1.8h-1.8zM207.2 265.4h1.6v1.6h-1.6zM188.3 282.7h2.7v2.7h-2.7zM219.3 298.0h1.5v1.5h-1.5zM218.3 267.1h2.6v2.6h-2.6zM217.4 281.0h2.7v2.7h-2.7zM237.1 254.4h2.0v2.0h-2.0zM188.9 278.0h1.6v1.6h-1.6zM222.9 266.6h1.3v1.3h-1.3zM233.4 253.8h1.7v1.7h-1.7zM213.0 250.0h2.5v2.5h-2.5zM223.9 253.3h2.2v2.2h-2.2zM191.3 276.3h1.4v1.4h-1.4zM199.8 271.9h2.1v2.1h-2.1zM220.4 298.4h1.8v1.8h-1.8zM203.6 258.5h2.4v2.4h-2.4zM204.5 258.6h1.6v1.6h-1.6zM207.5 293.4h2.0v2.0h-2.0zM229.3 273.1h2.2v2.2h-2.2zM198.4 269.6h2.4v2.4h-2.4zM188.9 272.1h1.7v1.7h-1.7zM200.3 265.6h1.6v1.6h-1.6zM216.1 249.1h1.7v1.7h-1.7zM198.8 256.9h2.6v2.6h-2.6zM222.2 296.2h1.5v1.5h-1.5zM194.6 264.3h2.1v2.1h-2.1zM230.4 293.3h2.6v2.6h-2.6zM185.2 248.3h1.8v1.8h-1.8zM207.9 247.2h1.8v1.8h-1.8zM191.3 295.5h1.6v1.6h-1.6zM201.9 256.5h2.6v2.6h-2.6zM190.4 271.3h1.6v1.6h-1.6zM197.8 302.2h2.4v2.4h-2.4zM225.0 266.6h2.8v2.8h-2.8zM237.7 282.2h1.6v1.6h-1.6zM186.9 277.1h2.0v2.0h-2.0zM232.0 302.4h2.5v2.5h-2.5zM197.6 301.6h2.2v2.2h-2.2zM186.3 258.4h2.7v2.7h-2.7zM228.3 288.0h2.3v2.3h-2.3zM185.5 299.0h1.7v1.7h-1.7zM226.9 276.8h2.0v2.0h-2.0zM213.4 298.0h2.6v2.6h-2.6zM206.1 294.3h1.6v1.6h-1.6zM203.5 264.7h1.4v1.4h-1.4zM206.4 246.9h2.8v2.8h-2.8zM229.5 273.5h1.4v1.4h-1.4zM198.8 289.8h1.7v1.7h-1.7zM189.4 270.6h2.2v2.2h-2.2zM191.2 267.8h2.1v2.1h-2.1zM225.5 269.5h2.8v2.8h-2.8zM198.4 288.6h1.4v1.4h-1.4zM234.9 277.2h1.6v1.6h-1.6zM229.3 296.0h1.5v1.5h-1.5zM233.1 300.2h1.8v1.8h-1.8zM228.0 286.9h2.2v2.2h-2.2zM205.7 264.2h2.5v2.5h-2.5zM227.6 299.5h1.4v1.4h-1.4zM215.8 286.1h1.6v1.6h-1.6zM185.4 296.6h2.5v2.5h-2.5zM223.7 265.3h2.0v2.0h-2.0zM229.2 252.0h2.4v2.4h-2.4zM223.4 272.6h2.7v2.7h-2.7zM219.2 296.0h1.6v1.6h-1.6zM206.8 263.1h2.0v2.0h-2.0zM226.0 302.0h2.7v2.7h-2.7zM231.4 301.1h2.4v2.4h-2.4zM225.0 251.9h1.9v1.9h-1.9zM211.3 252.7h2.7v2.7h-2.7zM204.9 260.4h1.4v1.4h-1.4zM213.9 265.6h2.7v2.7h-2.7zM219.3 270.7h1.5v1.5h-1.5zM186.9 285.1h2.2v2.2h-2.2zM211.6 275.0h1.9v1.9h-1.9zM234.4 249.9h1.6v1.6h-1.6zM228.2 264.4h1.8v1.8h-1.8zM208.1 263.3h2.4v2.4h-2.4zM189.5 277.7h2.4v2.4h-2.4zM203.2 287.4h1.8v1.8h-1.8zM218.7 252.5h1.8v1.8h-1.8zM215.3 280.9h2.0v2.0h-2.0zM186.3 276.8h2.6v2.6h-2.6zM199.3 258.4h2.2v2.2h-2.2zM197.1 252.5h1.4v1.4h-1.4zM218.8 295.9h2.5v2.5h-2.5zM216.9 295.5h2.6v2.6h-2.6zM199.1 268.0h2.8v2.8h-2.8zM236.4 282.5h2.2v2.2h-2.2zM203.2 251.9h1.8v1.8h-1.8zM197.0 282.0h2.3v2.3h-2.3zM219.1 297.5h1.3v1.3h-1.3zM195.6 252.4h1.9v1.9h-1.9zM234.8 272.9h2.5v2.5h-2.5zM194.3 266.5h2.5v2.5h-2.5zM200.4 287.5h2.2v2.2h-2.2zM220.5 248.4h1.8v1.8h-1.8zM238.7 267.7h1.7v1.7h-1.7zM239.6 279.7h2.3v2.3h-2.3zM211.0 281.5h1.9v1.9h-1.9zM199.4 263.0h1.6v1.6h-1.6zM222.7 251.7h1.5v1.5h-1.5zM212.3 301.9h2.5v2.5h-2.5zM221.3 288.1h1.6v1.6h-1.6zM212.5 247.8h2.1v2.1h-2.1zM186.0 253.2h1.5v1.5h-1.5zM203.3 273.3h1.6v1.6h-1.6z" fill="#6e96cc" opacity="0.75"/><path d="M188.5 253.6h2.9v2.9h-2.9zM238.8 297.7h1.6v1.6h-1.6zM195.4 295.8h1.4v1.4h-1.4zM192.4 283.0h2.9v2.9h-2.9zM235.5 293.8h1.9v1.9h-1.9zM224.8 299.0h2.8v2.8h-2.8zM238.0 289.3h2.7v2.7h-2.7zM223.1 270.4h2.3v2.3h-2.3zM235.7 278.6h1.4v1.4h-1.4zM209.0 295.3h2.5v2.5h-2.5zM210.9 298.8h2.6v2.6h-2.6zM196.6 285.9h2.8v2.8h-2.8zM184.6 299.0h2.1v2.1h-2.1zM231.2 247.5h1.9v1.9h-1.9zM201.0 258.9h2.5v2.5h-2.5zM228.3 283.0h2.9v2.9h-2.9zM190.5 262.8h2.0v2.0h-2.0zM228.1 287.9h3.0v3.0h-3.0zM232.5 276.3h2.6v2.6h-2.6zM229.5 275.8h2.5v2.5h-2.5zM231.5 293.1h1.7v1.7h-1.7zM185.9 286.2h2.7v2.7h-2.7zM194.7 294.2h2.6v2.6h-2.6zM193.3 255.4h2.5v2.5h-2.5zM218.7 255.7h2.9v2.9h-2.9zM196.1 293.2h2.9v2.9h-2.9zM190.9 285.8h2.3v2.3h-2.3zM234.9 271.5h2.1v2.1h-2.1zM197.1 294.0h1.9v1.9h-1.9zM234.7 248.7h2.8v2.8h-2.8zM185.3 287.1h2.9v2.9h-2.9zM202.0 279.7h2.1v2.1h-2.1zM187.8 293.5h2.2v2.2h-2.2zM228.6 248.8h1.7v1.7h-1.7zM196.9 292.3h1.4v1.4h-1.4zM185.4 267.8h2.0v2.0h-2.0zM231.1 294.6h1.8v1.8h-1.8zM225.3 266.7h2.6v2.6h-2.6zM220.7 250.7h2.2v2.2h-2.2zM207.7 272.4h2.3v2.3h-2.3zM222.5 269.2h2.2v2.2h-2.2zM230.0 284.7h1.7v1.7h-1.7zM191.8 261.9h2.9v2.9h-2.9zM205.7 295.8h2.9v2.9h-2.9zM222.9 267.3h2.6v2.6h-2.6zM212.0 299.9h2.2v2.2h-2.2zM219.5 284.9h2.4v2.4h-2.4zM194.1 278.5h2.1v2.1h-2.1zM221.9 289.9h1.7v1.7h-1.7zM204.7 261.1h2.9v2.9h-2.9zM211.4 271.9h2.9v2.9h-2.9zM227.6 294.6h2.2v2.2h-2.2zM191.2 267.5h1.5v1.5h-1.5zM206.4 271.9h2.2v2.2h-2.2zM238.4 276.5h1.7v1.7h-1.7zM194.1 284.7h2.2v2.2h-2.2zM206.9 274.3h2.1v2.1h-2.1zM221.8 279.8h1.5v1.5h-1.5zM211.7 260.7h2.3v2.3h-2.3zM209.8 289.2h2.9v2.9h-2.9zM225.3 281.2h2.2v2.2h-2.2zM190.5 287.5h1.7v1.7h-1.7zM205.2 279.3h1.8v1.8h-1.8zM232.0 277.2h3.0v3.0h-3.0zM185.4 272.7h1.9v1.9h-1.9zM216.1 282.9h2.3v2.3h-2.3zM236.3 271.4h2.0v2.0h-2.0zM225.7 277.7h1.8v1.8h-1.8zM235.3 259.4h1.5v1.5h-1.5zM214.0 297.5h2.8v2.8h-2.8zM229.4 280.8h2.2v2.2h-2.2zM200.3 256.0h2.1v2.1h-2.1zM230.4 277.7h3.0v3.0h-3.0zM228.5 277.1h2.3v2.3h-2.3zM207.3 297.3h2.7v2.7h-2.7zM194.1 297.0h2.5v2.5h-2.5zM204.2 288.3h2.1v2.1h-2.1zM222.6 274.9h2.4v2.4h-2.4zM235.2 296.4h2.2v2.2h-2.2zM205.7 286.6h2.5v2.5h-2.5zM189.5 275.2h1.8v1.8h-1.8zM220.1 256.1h1.9v1.9h-1.9zM198.2 262.4h2.3v2.3h-2.3zM232.0 282.5h2.4v2.4h-2.4zM226.4 268.6h2.1v2.1h-2.1zM220.3 258.3h2.6v2.6h-2.6zM235.2 295.9h1.5v1.5h-1.5zM234.9 259.3h1.6v1.6h-1.6zM218.4 266.1h1.7v1.7h-1.7zM217.9 276.7h2.3v2.3h-2.3zM212.5 281.2h2.6v2.6h-2.6zM224.1 286.1h2.7v2.7h-2.7zM210.2 282.4h1.6v1.6h-1.6zM188.7 272.0h2.5v2.5h-2.5zM197.2 300.2h1.9v1.9h-1.9zM211.4 272.9h3.0v3.0h-3.0zM192.7 260.8h2.4v2.4h-2.4zM204.3 265.9h1.6v1.6h-1.6zM235.0 271.4h2.3v2.3h-2.3zM197.8 298.9h1.6v1.6h-1.6z" fill="#d2e0e8" opacity="0.8"/><path d="M222.8 250.5h2.3v2.3h-2.3zM202.2 299.8h2.1v2.1h-2.1zM230.7 248.4h1.8v1.8h-1.8zM238.9 267.4h1.5v1.5h-1.5zM198.6 267.0h2.2v2.2h-2.2zM205.3 263.8h2.2v2.2h-2.2zM210.2 257.0h2.2v2.2h-2.2zM216.2 278.7h2.6v2.6h-2.6zM209.3 258.7h2.9v2.9h-2.9zM190.7 263.7h2.1v2.1h-2.1zM207.1 258.5h2.8v2.8h-2.8zM201.0 277.3h2.4v2.4h-2.4zM191.4 270.8h1.6v1.6h-1.6zM214.2 287.5h2.8v2.8h-2.8zM236.2 253.1h2.1v2.1h-2.1zM221.1 267.6h2.9v2.9h-2.9zM211.6 295.2h1.5v1.5h-1.5zM205.7 285.6h2.7v2.7h-2.7zM211.6 294.6h2.6v2.6h-2.6zM207.1 286.3h2.2v2.2h-2.2zM190.4 296.9h2.8v2.8h-2.8zM233.6 259.9h2.6v2.6h-2.6zM186.3 274.6h1.9v1.9h-1.9zM212.2 268.1h2.3v2.3h-2.3zM208.2 289.1h2.5v2.5h-2.5zM199.6 257.8h1.8v1.8h-1.8zM202.3 270.5h2.2v2.2h-2.2zM226.6 301.5h1.8v1.8h-1.8zM200.5 275.7h1.4v1.4h-1.4zM219.4 248.9h2.4v2.4h-2.4zM216.7 268.1h3.0v3.0h-3.0zM201.5 247.8h1.6v1.6h-1.6zM197.5 287.9h2.6v2.6h-2.6zM203.8 296.0h1.7v1.7h-1.7zM196.9 278.6h2.3v2.3h-2.3zM228.0 264.0h2.8v2.8h-2.8zM219.2 285.2h2.3v2.3h-2.3zM195.9 278.2h2.9v2.9h-2.9zM185.0 265.2h1.9v1.9h-1.9zM198.3 289.8h2.4v2.4h-2.4zM191.6 286.0h2.8v2.8h-2.8zM187.8 247.9h2.4v2.4h-2.4zM233.0 277.4h2.2v2.2h-2.2zM206.7 278.4h2.9v2.9h-2.9zM217.3 288.4h2.1v2.1h-2.1zM233.1 289.6h2.2v2.2h-2.2zM200.9 263.5h3.0v3.0h-3.0zM219.6 250.8h2.2v2.2h-2.2zM207.9 280.1h1.9v1.9h-1.9zM234.3 273.7h2.7v2.7h-2.7z" fill="#b9ab92" opacity="0.75"/><path d="M198.6 296.2h1.7v1.7h-1.7zM214.4 271.0h2.1v2.1h-2.1zM215.4 276.6h1.6v1.6h-1.6zM209.5 261.8h1.6v1.6h-1.6zM198.8 251.1h1.6v1.6h-1.6zM185.7 283.8h1.3v1.3h-1.3zM234.3 264.5h1.5v1.5h-1.5zM214.6 263.0h1.9v1.9h-1.9zM201.0 298.1h1.2v1.2h-1.2zM187.3 296.0h1.9v1.9h-1.9zM198.8 282.6h1.6v1.6h-1.6zM212.4 262.1h1.7v1.7h-1.7zM220.1 293.9h1.5v1.5h-1.5zM215.8 278.4h2.1v2.1h-2.1zM210.8 295.0h2.1v2.1h-2.1zM206.8 269.4h2.2v2.2h-2.2zM216.3 276.4h2.0v2.0h-2.0zM217.7 275.7h1.9v1.9h-1.9zM198.7 267.9h1.2v1.2h-1.2zM224.1 292.7h1.9v1.9h-1.9zM238.0 288.9h1.3v1.3h-1.3zM202.0 298.2h1.3v1.3h-1.3zM232.8 291.2h1.3v1.3h-1.3zM195.8 287.6h1.9v1.9h-1.9zM185.9 276.3h1.4v1.4h-1.4zM231.8 276.6h1.2v1.2h-1.2zM206.1 247.4h2.1v2.1h-2.1zM233.4 286.8h1.2v1.2h-1.2zM236.2 261.5h1.9v1.9h-1.9zM226.5 277.9h1.3v1.3h-1.3zM197.8 287.5h1.3v1.3h-1.3zM205.1 298.7h1.6v1.6h-1.6zM192.6 283.0h1.5v1.5h-1.5zM228.0 267.1h2.0v2.0h-2.0zM229.9 256.7h1.7v1.7h-1.7zM208.9 253.6h2.1v2.1h-2.1zM203.1 280.9h1.3v1.3h-1.3zM236.9 301.4h1.9v1.9h-1.9zM191.4 283.7h1.7v1.7h-1.7zM210.4 259.0h1.4v1.4h-1.4zM231.0 280.4h1.9v1.9h-1.9zM225.1 269.2h1.7v1.7h-1.7zM201.0 283.3h1.6v1.6h-1.6zM227.6 263.1h1.6v1.6h-1.6zM188.7 249.0h1.4v1.4h-1.4zM185.1 270.4h1.6v1.6h-1.6zM233.1 249.2h2.2v2.2h-2.2zM189.5 293.0h1.6v1.6h-1.6zM197.8 280.8h1.6v1.6h-1.6zM185.1 254.1h1.9v1.9h-1.9zM224.1 302.1h1.5v1.5h-1.5zM226.8 265.9h1.7v1.7h-1.7zM199.6 269.7h2.1v2.1h-2.1zM198.1 270.4h2.1v2.1h-2.1zM209.2 292.1h1.7v1.7h-1.7zM203.6 286.9h1.9v1.9h-1.9zM205.3 302.4h1.3v1.3h-1.3zM231.3 287.0h1.9v1.9h-1.9zM210.4 288.5h1.2v1.2h-1.2zM221.3 295.0h1.6v1.6h-1.6zM225.2 285.5h1.7v1.7h-1.7zM226.9 273.8h1.3v1.3h-1.3zM213.2 288.7h1.4v1.4h-1.4zM209.8 293.3h1.2v1.2h-1.2zM232.0 266.4h1.6v1.6h-1.6zM222.9 278.7h1.5v1.5h-1.5zM192.8 270.2h2.1v2.1h-2.1zM239.3 286.8h1.9v1.9h-1.9zM222.3 297.7h1.4v1.4h-1.4zM192.2 293.8h1.2v1.2h-1.2z" fill="#4f7abd" opacity="0.8"/></g></g><clipPath id="cp10"><rect x="23.4" y="301.5" width="54.0" height="53.8"/></clipPath><g clip-path="url(#cp10)"><rect x="23.4" y="301.5" width="54.0" height="53.8" fill="#b3c9d7"/><ellipse cx="30" cy="308" rx="9" ry="7" fill="#c8d8e2" opacity="0.7" filter="url(#bl3)"/><ellipse cx="32" cy="345" rx="10" ry="8" fill="#c8d8e2" opacity="0.5" filter="url(#bl3)"/><ellipse cx="60" cy="325" rx="12" ry="14" fill="#3a64b0" opacity="0.3" filter="url(#bl3)"/><g filter="url(#bl)"><path d="M51.7 323.0h1.9v1.9h-1.9zM53.3 326.6h1.3v1.3h-1.3zM71.1 323.1h1.6v1.6h-1.6zM71.8 351.2h2.1v2.1h-2.1zM60.5 307.0h1.4v1.4h-1.4zM63.8 320.4h1.9v1.9h-1.9zM59.8 324.9h1.5v1.5h-1.5zM74.8 309.7h1.6v1.6h-1.6zM40.3 312.0h1.2v1.2h-1.2zM52.5 307.9h1.5v1.5h-1.5zM48.3 352.9h1.7v1.7h-1.7zM77.8 314.6h1.9v1.9h-1.9zM65.5 340.9h2.0v2.0h-2.0zM67.2 330.6h1.7v1.7h-1.7zM75.7 325.2h1.5v1.5h-1.5zM51.3 331.8h2.1v2.1h-2.1zM69.9 310.6h1.8v1.8h-1.8zM45.0 307.0h2.3v2.3h-2.3zM63.0 332.4h1.6v1.6h-1.6zM40.8 305.3h1.6v1.6h-1.6zM45.5 304.3h2.2v2.2h-2.2zM53.5 313.5h1.6v1.6h-1.6zM49.6 310.4h2.2v2.2h-2.2zM57.6 354.0h1.8v1.8h-1.8zM51.6 339.0h1.3v1.3h-1.3zM47.7 346.1h1.2v1.2h-1.2zM68.7 303.1h1.4v1.4h-1.4zM39.2 313.4h2.0v2.0h-2.0zM71.9 328.7h1.2v1.2h-1.2zM42.5 327.3h1.4v1.4h-1.4zM50.5 302.8h2.2v2.2h-2.2zM54.1 317.4h1.8v1.8h-1.8zM50.3 336.0h2.2v2.2h-2.2zM77.1 354.1h2.0v2.0h-2.0zM67.2 311.3h2.1v2.1h-2.1zM46.8 301.7h1.3v1.3h-1.3zM68.7 315.4h1.6v1.6h-1.6zM53.9 338.7h1.4v1.4h-1.4zM60.0 309.8h2.1v2.1h-2.1zM31.0 323.6h1.8v1.8h-1.8zM47.3 328.5h1.5v1.5h-1.5zM28.3 335.1h1.4v1.4h-1.4zM38.8 318.1h1.8v1.8h-1.8zM54.3 307.9h1.9v1.9h-1.9zM38.1 337.6h1.3v1.3h-1.3zM34.6 346.9h1.8v1.8h-1.8zM54.6 311.0h1.8v1.8h-1.8zM29.7 342.6h2.0v2.0h-2.0zM69.2 336.1h1.3v1.3h-1.3zM68.9 347.8h2.2v2.2h-2.2zM68.0 306.5h1.2v1.2h-1.2zM40.6 312.2h1.7v1.7h-1.7zM60.6 320.1h1.8v1.8h-1.8zM50.2 342.9h1.7v1.7h-1.7zM48.4 355.6h2.0v2.0h-2.0zM58.5 340.6h2.0v2.0h-2.0zM70.6 326.1h1.9v1.9h-1.9zM51.8 336.0h1.5v1.5h-1.5zM31.8 323.9h1.5v1.5h-1.5zM49.8 338.7h1.4v1.4h-1.4zM48.8 329.6h1.9v1.9h-1.9zM54.0 354.2h1.9v1.9h-1.9zM27.4 329.6h1.5v1.5h-1.5zM53.4 339.4h2.2v2.2h-2.2zM62.6 328.9h1.7v1.7h-1.7zM76.6 309.7h1.8v1.8h-1.8zM25.0 331.9h1.6v1.6h-1.6zM39.2 318.9h1.4v1.4h-1.4zM40.1 339.1h1.5v1.5h-1.5zM53.2 304.4h2.0v2.0h-2.0zM49.0 310.4h1.4v1.4h-1.4zM62.0 301.6h1.4v1.4h-1.4zM59.6 354.0h1.9v1.9h-1.9zM60.2 302.1h1.5v1.5h-1.5zM57.5 303.7h1.4v1.4h-1.4zM68.5 343.7h1.9v1.9h-1.9zM77.1 346.8h1.6v1.6h-1.6zM23.1 356.3h1.2v1.2h-1.2zM55.7 355.9h1.4v1.4h-1.4zM41.9 315.5h2.3v2.3h-2.3zM77.2 311.4h1.4v1.4h-1.4zM48.3 328.4h2.1v2.1h-2.1zM57.6 304.7h2.1v2.1h-2.1zM76.1 313.9h2.0v2.0h-2.0zM71.1 308.1h1.3v1.3h-1.3zM61.2 320.5h1.4v1.4h-1.4zM58.1 315.7h1.8v1.8h-1.8zM75.6 311.2h1.3v1.3h-1.3zM32.3 339.4h2.1v2.1h-2.1zM72.2 312.7h1.9v1.9h-1.9zM77.2 328.1h2.2v2.2h-2.2zM44.8 331.6h2.0v2.0h-2.0zM44.3 321.7h1.9v1.9h-1.9zM40.9 344.4h2.0v2.0h-2.0zM42.3 306.0h1.4v1.4h-1.4zM77.2 345.5h1.2v1.2h-1.2zM53.7 325.9h2.1v2.1h-2.1zM69.3 308.0h1.7v1.7h-1.7zM48.7 308.9h1.4v1.4h-1.4zM38.1 330.9h1.5v1.5h-1.5zM47.0 325.7h2.3v2.3h-2.3zM23.1 344.3h1.5v1.5h-1.5zM49.6 325.9h1.8v1.8h-1.8zM61.7 304.2h1.5v1.5h-1.5zM49.4 323.9h1.3v1.3h-1.3zM76.4 333.6h1.9v1.9h-1.9zM50.1 316.3h1.5v1.5h-1.5zM39.5 303.0h2.2v2.2h-2.2zM49.2 341.2h1.5v1.5h-1.5zM42.3 328.9h1.8v1.8h-1.8zM23.8 322.1h1.7v1.7h-1.7zM52.1 351.3h2.2v2.2h-2.2zM47.3 317.0h1.3v1.3h-1.3zM43.7 303.9h2.0v2.0h-2.0zM74.3 310.9h2.0v2.0h-2.0zM52.9 325.2h1.7v1.7h-1.7zM75.4 352.1h1.8v1.8h-1.8zM44.8 321.0h1.9v1.9h-1.9zM59.7 335.1h1.9v1.9h-1.9zM63.3 346.0h2.2v2.2h-2.2zM76.7 335.1h1.4v1.4h-1.4zM72.4 320.0h2.1v2.1h-2.1zM50.4 344.0h1.5v1.5h-1.5zM44.8 337.4h2.2v2.2h-2.2zM56.6 355.1h1.6v1.6h-1.6zM52.3 330.6h1.4v1.4h-1.4zM35.7 317.5h2.2v2.2h-2.2zM74.9 313.7h1.7v1.7h-1.7zM49.4 332.0h2.0v2.0h-2.0zM74.0 354.6h2.0v2.0h-2.0zM67.9 344.4h1.8v1.8h-1.8zM64.3 333.5h1.7v1.7h-1.7zM33.4 318.5h1.9v1.9h-1.9zM39.5 322.5h2.2v2.2h-2.2zM73.7 322.3h1.2v1.2h-1.2zM34.9 336.7h1.8v1.8h-1.8zM77.4 331.8h1.8v1.8h-1.8zM23.7 324.2h1.4v1.4h-1.4zM46.4 304.6h1.8v1.8h-1.8zM38.4 331.1h1.6v1.6h-1.6zM67.7 325.9h2.0v2.0h-2.0zM61.2 309.6h2.3v2.3h-2.3zM67.9 302.9h1.2v1.2h-1.2zM59.6 350.0h1.9v1.9h-1.9zM52.8 341.2h2.1v2.1h-2.1zM72.2 354.4h1.9v1.9h-1.9zM49.0 325.1h1.6v1.6h-1.6zM67.1 331.0h1.8v1.8h-1.8zM62.1 347.2h2.0v2.0h-2.0zM36.1 300.5h1.3v1.3h-1.3zM50.8 304.8h2.0v2.0h-2.0zM49.5 315.3h1.8v1.8h-1.8zM63.2 355.1h1.5v1.5h-1.5zM76.7 332.9h2.3v2.3h-2.3zM59.3 314.3h2.2v2.2h-2.2zM35.4 327.0h2.1v2.1h-2.1zM44.8 305.3h1.6v1.6h-1.6zM32.1 339.5h1.9v1.9h-1.9zM47.3 307.3h2.0v2.0h-2.0zM68.5 343.6h1.5v1.5h-1.5zM54.5 337.7h1.8v1.8h-1.8zM47.1 316.2h1.3v1.3h-1.3zM33.1 348.0h1.4v1.4h-1.4zM52.0 313.7h1.2v1.2h-1.2zM59.8 304.7h1.3v1.3h-1.3zM61.4 312.6h1.2v1.2h-1.2zM54.1 319.6h1.4v1.4h-1.4zM39.0 349.0h1.7v1.7h-1.7zM49.6 316.7h1.7v1.7h-1.7zM43.6 314.9h1.7v1.7h-1.7zM56.5 333.4h2.2v2.2h-2.2zM53.8 339.2h1.3v1.3h-1.3zM69.1 330.0h2.0v2.0h-2.0zM50.5 353.4h1.7v1.7h-1.7zM72.6 352.3h1.7v1.7h-1.7zM48.0 339.7h1.8v1.8h-1.8zM77.5 301.9h1.4v1.4h-1.4zM68.1 338.0h1.3v1.3h-1.3zM60.1 342.2h2.0v2.0h-2.0zM55.9 302.2h2.2v2.2h-2.2zM77.1 346.1h1.4v1.4h-1.4zM71.4 346.4h2.2v2.2h-2.2zM68.0 351.6h1.3v1.3h-1.3zM44.8 323.5h2.3v2.3h-2.3zM57.6 319.9h1.4v1.4h-1.4zM56.6 340.7h2.0v2.0h-2.0zM56.3 332.5h1.7v1.7h-1.7zM72.1 354.8h1.4v1.4h-1.4zM70.5 323.6h2.2v2.2h-2.2zM27.4 303.4h1.9v1.9h-1.9zM50.0 335.3h1.9v1.9h-1.9zM77.5 352.7h2.0v2.0h-2.0zM52.2 347.2h1.9v1.9h-1.9zM26.4 342.6h1.7v1.7h-1.7zM65.6 355.5h2.1v2.1h-2.1zM39.1 336.1h1.7v1.7h-1.7zM55.7 325.3h2.0v2.0h-2.0zM58.6 354.9h2.1v2.1h-2.1zM28.6 328.6h2.1v2.1h-2.1zM73.4 311.5h2.2v2.2h-2.2zM77.1 319.4h1.6v1.6h-1.6zM43.9 336.0h2.2v2.2h-2.2zM42.8 328.1h2.3v2.3h-2.3zM51.4 351.7h1.2v1.2h-1.2zM65.6 306.7h1.9v1.9h-1.9zM41.9 330.6h1.4v1.4h-1.4zM52.7 345.4h2.0v2.0h-2.0zM44.8 330.6h1.3v1.3h-1.3zM74.2 305.0h2.1v2.1h-2.1zM39.8 351.4h1.4v1.4h-1.4zM47.5 336.0h2.2v2.2h-2.2zM68.3 310.8h1.3v1.3h-1.3zM48.5 320.0h1.4v1.4h-1.4zM78.0 354.6h2.3v2.3h-2.3zM63.8 302.3h1.4v1.4h-1.4zM38.0 340.5h1.6v1.6h-1.6zM22.7 318.4h1.3v1.3h-1.3zM27.8 323.2h2.2v2.2h-2.2zM36.8 321.0h2.1v2.1h-2.1zM73.5 351.7h1.8v1.8h-1.8zM49.4 316.5h1.5v1.5h-1.5zM52.8 314.8h1.3v1.3h-1.3zM66.6 325.5h1.9v1.9h-1.9zM64.5 341.3h1.9v1.9h-1.9zM67.4 321.1h2.0v2.0h-2.0zM52.2 342.9h2.1v2.1h-2.1zM40.2 329.3h1.6v1.6h-1.6zM72.0 302.2h1.8v1.8h-1.8zM59.2 338.8h2.0v2.0h-2.0zM56.1 309.1h1.5v1.5h-1.5zM48.5 342.9h1.2v1.2h-1.2zM53.1 355.7h1.5v1.5h-1.5zM73.1 337.8h2.1v2.1h-2.1zM55.1 326.6h1.6v1.6h-1.6zM70.2 307.6h1.6v1.6h-1.6zM47.0 334.5h1.9v1.9h-1.9zM25.5 349.0h2.2v2.2h-2.2zM70.5 344.4h1.4v1.4h-1.4zM54.2 303.9h2.1v2.1h-2.1zM34.2 325.2h1.9v1.9h-1.9zM61.5 303.8h2.2v2.2h-2.2zM48.2 328.2h1.3v1.3h-1.3zM62.9 350.4h2.0v2.0h-2.0zM77.6 354.7h1.9v1.9h-1.9zM38.6 320.6h2.3v2.3h-2.3zM43.9 326.4h2.1v2.1h-2.1zM75.9 320.7h2.0v2.0h-2.0zM70.4 302.8h2.1v2.1h-2.1zM66.9 332.8h1.9v1.9h-1.9zM54.9 327.6h1.4v1.4h-1.4zM43.4 335.8h2.3v2.3h-2.3zM72.1 315.2h1.8v1.8h-1.8zM48.2 304.9h2.2v2.2h-2.2zM51.2 351.7h1.2v1.2h-1.2zM55.5 353.7h1.6v1.6h-1.6zM55.6 333.8h1.8v1.8h-1.8zM53.2 325.5h2.3v2.3h-2.3zM58.6 328.1h1.9v1.9h-1.9zM24.9 326.8h1.6v1.6h-1.6zM43.0 300.6h2.2v2.2h-2.2zM50.1 324.8h1.3v1.3h-1.3zM37.3 329.2h1.8v1.8h-1.8zM48.6 344.0h1.7v1.7h-1.7zM60.2 350.2h1.6v1.6h-1.6zM48.7 315.4h2.2v2.2h-2.2zM49.8 320.1h1.8v1.8h-1.8zM69.7 321.8h2.1v2.1h-2.1zM51.0 316.8h1.6v1.6h-1.6zM59.9 344.9h2.1v2.1h-2.1zM58.0 350.3h1.3v1.3h-1.3zM40.5 302.6h1.3v1.3h-1.3zM68.5 324.0h2.3v2.3h-2.3zM25.7 332.2h2.3v2.3h-2.3zM56.1 315.1h1.8v1.8h-1.8zM50.6 351.2h2.0v2.0h-2.0zM33.3 321.2h1.7v1.7h-1.7zM55.5 339.0h1.9v1.9h-1.9zM68.5 323.4h1.5v1.5h-1.5zM56.4 307.2h1.5v1.5h-1.5zM61.0 341.9h1.4v1.4h-1.4zM42.2 303.9h1.7v1.7h-1.7zM69.3 314.2h1.4v1.4h-1.4zM44.1 338.8h1.6v1.6h-1.6zM24.8 337.9h1.7v1.7h-1.7zM55.0 301.5h2.1v2.1h-2.1zM77.8 355.6h1.3v1.3h-1.3zM76.2 342.7h1.6v1.6h-1.6zM53.1 309.3h1.4v1.4h-1.4zM76.9 326.8h1.8v1.8h-1.8zM69.1 323.4h2.3v2.3h-2.3zM60.0 305.8h1.9v1.9h-1.9zM54.2 343.9h2.0v2.0h-2.0zM63.4 343.8h1.6v1.6h-1.6zM55.1 325.4h1.8v1.8h-1.8zM64.9 308.5h1.3v1.3h-1.3zM51.4 312.0h1.4v1.4h-1.4zM39.4 328.1h1.5v1.5h-1.5zM42.7 320.9h1.3v1.3h-1.3zM48.8 330.3h1.3v1.3h-1.3zM63.0 349.4h1.4v1.4h-1.4zM66.1 317.4h1.2v1.2h-1.2zM55.0 325.1h1.4v1.4h-1.4zM74.3 350.7h1.5v1.5h-1.5zM41.4 319.8h2.3v2.3h-2.3zM23.3 320.8h1.9v1.9h-1.9zM61.8 352.4h2.0v2.0h-2.0zM66.0 319.8h1.4v1.4h-1.4zM51.5 355.1h2.2v2.2h-2.2zM44.9 336.7h2.0v2.0h-2.0zM63.5 340.6h1.4v1.4h-1.4zM59.0 344.8h1.4v1.4h-1.4zM53.2 301.3h1.9v1.9h-1.9zM36.2 334.1h1.8v1.8h-1.8zM66.5 348.4h1.9v1.9h-1.9zM52.5 329.3h1.2v1.2h-1.2zM72.2 354.8h1.4v1.4h-1.4zM57.4 311.4h2.1v2.1h-2.1zM74.6 301.2h2.0v2.0h-2.0zM61.5 308.7h2.0v2.0h-2.0zM41.3 308.3h1.6v1.6h-1.6zM26.4 317.1h2.0v2.0h-2.0zM29.2 326.7h2.0v2.0h-2.0zM76.9 339.8h1.4v1.4h-1.4zM31.7 349.9h2.0v2.0h-2.0zM65.5 347.0h1.7v1.7h-1.7zM42.1 336.9h2.0v2.0h-2.0zM37.5 324.0h2.2v2.2h-2.2zM25.0 322.9h1.9v1.9h-1.9zM28.2 338.0h1.5v1.5h-1.5zM39.9 304.6h1.3v1.3h-1.3z" fill="#3a64b0" opacity="0.9"/><path d="M73.0 338.8h1.5v1.5h-1.5zM53.1 325.4h1.3v1.3h-1.3zM32.3 333.2h1.8v1.8h-1.8zM73.2 334.2h1.4v1.4h-1.4zM31.5 348.5h1.3v1.3h-1.3zM40.5 350.1h1.1v1.1h-1.1zM59.8 324.0h1.7v1.7h-1.7zM36.4 319.1h1.7v1.7h-1.7zM55.5 324.6h1.7v1.7h-1.7zM73.7 301.9h1.6v1.6h-1.6zM62.3 341.1h1.2v1.2h-1.2zM74.5 344.8h1.4v1.4h-1.4zM56.9 351.2h1.2v1.2h-1.2zM29.1 351.5h1.1v1.1h-1.1zM48.8 338.9h1.4v1.4h-1.4zM52.6 312.2h1.1v1.1h-1.1zM50.9 308.5h1.2v1.2h-1.2zM23.1 336.6h1.6v1.6h-1.6zM47.4 351.6h1.7v1.7h-1.7zM66.9 315.8h1.2v1.2h-1.2zM57.8 322.2h1.3v1.3h-1.3zM32.3 333.4h1.3v1.3h-1.3zM29.6 334.8h1.4v1.4h-1.4zM68.8 353.0h1.5v1.5h-1.5zM75.0 331.9h1.2v1.2h-1.2zM40.4 320.8h1.2v1.2h-1.2zM46.8 345.3h1.7v1.7h-1.7zM73.4 306.6h1.7v1.7h-1.7zM27.0 308.2h1.1v1.1h-1.1zM75.4 349.6h1.0v1.0h-1.0zM28.4 348.8h1.5v1.5h-1.5zM42.5 324.0h1.8v1.8h-1.8zM26.0 323.9h1.6v1.6h-1.6zM57.5 316.2h1.2v1.2h-1.2zM53.8 350.4h1.5v1.5h-1.5zM43.9 342.4h1.4v1.4h-1.4zM58.4 330.1h1.7v1.7h-1.7zM26.6 324.0h1.5v1.5h-1.5zM44.2 312.1h1.6v1.6h-1.6zM60.6 335.1h1.3v1.3h-1.3zM38.3 335.2h1.6v1.6h-1.6zM70.4 346.7h1.5v1.5h-1.5zM36.2 338.5h1.6v1.6h-1.6zM33.1 321.3h1.7v1.7h-1.7zM61.9 331.7h1.6v1.6h-1.6zM47.8 310.5h1.6v1.6h-1.6zM50.1 331.9h1.2v1.2h-1.2zM25.4 337.5h1.2v1.2h-1.2zM33.3 324.6h1.6v1.6h-1.6zM70.5 340.3h1.1v1.1h-1.1zM25.3 337.8h1.1v1.1h-1.1zM38.2 348.0h1.6v1.6h-1.6zM68.8 337.0h1.6v1.6h-1.6zM74.0 331.6h1.5v1.5h-1.5zM74.4 354.8h1.4v1.4h-1.4zM29.3 327.7h1.5v1.5h-1.5zM49.6 314.0h1.6v1.6h-1.6zM54.4 343.5h1.4v1.4h-1.4zM37.8 353.7h1.4v1.4h-1.4zM27.6 349.9h1.7v1.7h-1.7zM40.1 320.5h1.5v1.5h-1.5zM26.4 337.8h1.2v1.2h-1.2zM58.8 340.1h1.7v1.7h-1.7zM71.4 345.1h1.3v1.3h-1.3zM29.6 324.6h1.5v1.5h-1.5zM28.5 342.4h1.4v1.4h-1.4zM58.7 349.1h1.6v1.6h-1.6zM54.3 344.3h1.1v1.1h-1.1zM33.0 333.2h1.2v1.2h-1.2zM22.4 325.2h1.3v1.3h-1.3zM34.5 321.3h1.0v1.0h-1.0zM31.9 329.8h1.6v1.6h-1.6zM64.4 336.4h1.2v1.2h-1.2zM30.7 325.3h1.4v1.4h-1.4zM50.4 304.9h1.2v1.2h-1.2zM44.2 345.4h1.3v1.3h-1.3zM47.6 347.3h1.1v1.1h-1.1zM34.5 319.4h1.1v1.1h-1.1zM72.5 347.0h1.2v1.2h-1.2zM41.9 352.9h1.3v1.3h-1.3z" fill="#2a52a0" opacity="0.9"/><path d="M42.8 342.0h2.5v2.5h-2.5zM78.1 354.4h2.4v2.4h-2.4zM73.8 333.9h1.7v1.7h-1.7zM50.9 315.5h2.9v2.9h-2.9zM67.3 306.2h2.4v2.4h-2.4zM58.5 343.5h1.6v1.6h-1.6zM55.0 306.6h2.1v2.1h-2.1zM42.6 320.3h2.1v2.1h-2.1zM51.2 306.7h2.2v2.2h-2.2zM26.6 339.6h1.5v1.5h-1.5zM49.5 300.7h2.7v2.7h-2.7zM75.2 342.1h2.1v2.1h-2.1zM48.3 342.6h1.5v1.5h-1.5zM42.3 327.3h1.7v1.7h-1.7zM48.1 320.1h1.6v1.6h-1.6zM55.4 324.8h1.6v1.6h-1.6zM52.3 313.1h2.3v2.3h-2.3zM40.3 340.6h2.4v2.4h-2.4zM22.6 319.3h2.6v2.6h-2.6zM41.3 343.5h2.8v2.8h-2.8zM74.2 342.4h2.1v2.1h-2.1zM49.3 305.3h1.9v1.9h-1.9zM37.1 345.0h2.7v2.7h-2.7zM57.7 343.1h2.1v2.1h-2.1zM58.2 320.4h1.4v1.4h-1.4zM51.7 349.5h2.2v2.2h-2.2zM72.9 322.1h1.8v1.8h-1.8zM31.3 324.5h1.9v1.9h-1.9zM28.6 318.0h2.9v2.9h-2.9zM66.1 324.0h1.8v1.8h-1.8zM50.2 319.1h2.4v2.4h-2.4zM38.1 335.2h2.6v2.6h-2.6zM38.1 312.9h2.3v2.3h-2.3zM54.5 349.7h2.7v2.7h-2.7zM48.3 328.1h2.7v2.7h-2.7zM54.6 307.2h2.0v2.0h-2.0zM28.9 337.9h2.6v2.6h-2.6zM58.0 303.5h2.0v2.0h-2.0zM23.4 338.6h2.6v2.6h-2.6zM33.6 340.4h1.5v1.5h-1.5zM30.5 352.2h1.7v1.7h-1.7zM58.7 352.6h2.6v2.6h-2.6zM47.9 324.4h2.0v2.0h-2.0zM31.1 344.3h2.2v2.2h-2.2zM65.2 327.2h1.8v1.8h-1.8zM36.9 307.1h2.6v2.6h-2.6zM50.4 322.0h3.0v3.0h-3.0zM42.8 320.3h1.8v1.8h-1.8zM38.0 314.4h2.2v2.2h-2.2zM45.9 326.7h2.7v2.7h-2.7z" fill="#c9d9e2" opacity="0.8"/></g></g><clipPath id="cp11"><rect x="77.4" y="301.5" width="53.8" height="53.8"/></clipPath><g clip-path="url(#cp11)"><rect x="77.4" y="301.5" width="53.8" height="53.8" fill="#b8cad4"/><ellipse cx="104" cy="330" rx="14" ry="12" fill="#c8c0aa" opacity="0.3" filter="url(#bl3)"/><g filter="url(#bl)"><path d="M96.0 334.4h2.0v2.0h-2.0zM129.3 333.8h2.5v2.5h-2.5zM96.5 311.3h1.6v1.6h-1.6zM122.1 306.9h1.7v1.7h-1.7zM123.7 304.0h2.2v2.2h-2.2zM98.3 312.9h2.5v2.5h-2.5zM124.4 312.4h1.5v1.5h-1.5zM107.4 304.6h2.5v2.5h-2.5zM94.7 318.1h1.4v1.4h-1.4zM103.6 331.8h1.5v1.5h-1.5zM115.5 329.1h2.4v2.4h-2.4zM127.7 349.1h1.9v1.9h-1.9zM95.8 336.1h1.8v1.8h-1.8zM101.8 314.3h1.5v1.5h-1.5zM82.1 335.9h2.5v2.5h-2.5zM131.2 315.4h1.6v1.6h-1.6zM81.2 306.4h2.4v2.4h-2.4zM95.7 321.1h1.6v1.6h-1.6zM115.5 311.2h2.5v2.5h-2.5zM77.7 352.2h1.8v1.8h-1.8zM101.1 328.5h1.6v1.6h-1.6zM127.5 329.4h2.0v2.0h-2.0zM125.1 337.4h2.4v2.4h-2.4zM83.0 317.2h1.6v1.6h-1.6zM105.0 315.1h2.5v2.5h-2.5zM88.1 322.2h1.8v1.8h-1.8zM94.1 340.1h1.9v1.9h-1.9zM120.8 320.2h2.4v2.4h-2.4zM122.9 323.0h2.5v2.5h-2.5zM128.2 313.0h2.0v2.0h-2.0zM125.0 313.3h2.4v2.4h-2.4zM93.3 346.3h1.8v1.8h-1.8zM129.1 349.4h1.8v1.8h-1.8zM77.1 335.0h2.0v2.0h-2.0zM92.9 351.6h1.8v1.8h-1.8zM105.9 313.1h2.3v2.3h-2.3zM106.3 308.6h2.5v2.5h-2.5zM91.9 308.1h2.2v2.2h-2.2zM99.8 345.4h1.9v1.9h-1.9zM107.3 340.6h2.4v2.4h-2.4zM85.5 306.8h1.9v1.9h-1.9zM85.0 344.8h1.7v1.7h-1.7zM96.3 305.3h1.7v1.7h-1.7zM96.6 315.3h1.6v1.6h-1.6zM92.1 340.9h1.5v1.5h-1.5zM104.6 336.7h1.3v1.3h-1.3zM122.1 342.8h1.6v1.6h-1.6zM79.7 304.6h2.4v2.4h-2.4zM78.7 334.4h2.1v2.1h-2.1zM113.1 325.5h1.9v1.9h-1.9zM102.3 342.7h1.4v1.4h-1.4zM91.4 328.0h1.8v1.8h-1.8zM110.5 322.4h2.6v2.6h-2.6zM88.3 351.9h1.3v1.3h-1.3zM121.8 306.2h1.7v1.7h-1.7zM100.1 351.3h1.5v1.5h-1.5zM104.8 344.6h1.9v1.9h-1.9zM116.7 356.3h2.3v2.3h-2.3zM90.4 318.7h2.0v2.0h-2.0zM118.3 355.2h2.4v2.4h-2.4zM120.0 334.5h2.2v2.2h-2.2zM125.0 345.1h1.5v1.5h-1.5zM89.0 323.2h2.6v2.6h-2.6zM93.9 345.9h1.7v1.7h-1.7zM115.9 349.2h2.6v2.6h-2.6zM108.3 333.8h1.5v1.5h-1.5zM123.9 312.3h1.5v1.5h-1.5zM124.5 329.7h1.9v1.9h-1.9zM87.1 352.0h2.2v2.2h-2.2zM124.6 322.3h1.9v1.9h-1.9zM104.9 305.6h1.3v1.3h-1.3zM109.6 320.5h2.4v2.4h-2.4zM119.0 337.8h2.0v2.0h-2.0zM89.9 333.0h2.2v2.2h-2.2zM90.8 326.5h1.4v1.4h-1.4zM114.0 324.6h1.6v1.6h-1.6zM116.0 345.1h1.6v1.6h-1.6zM76.8 333.1h2.5v2.5h-2.5zM81.3 345.3h2.1v2.1h-2.1zM115.7 301.2h1.8v1.8h-1.8zM78.8 353.4h2.6v2.6h-2.6zM116.1 333.7h2.3v2.3h-2.3zM83.7 355.4h1.8v1.8h-1.8zM100.3 301.2h1.4v1.4h-1.4zM128.1 311.4h2.0v2.0h-2.0zM116.9 341.2h1.9v1.9h-1.9zM115.0 347.1h1.6v1.6h-1.6zM97.9 332.7h2.2v2.2h-2.2zM108.1 302.3h1.6v1.6h-1.6zM96.3 348.8h2.1v2.1h-2.1zM91.5 332.1h1.7v1.7h-1.7zM130.4 339.3h2.4v2.4h-2.4zM98.2 307.8h2.3v2.3h-2.3zM86.5 348.1h2.3v2.3h-2.3zM124.6 332.4h2.1v2.1h-2.1zM78.0 316.1h1.5v1.5h-1.5zM79.9 330.2h1.4v1.4h-1.4zM104.0 309.2h1.5v1.5h-1.5zM121.1 355.6h2.1v2.1h-2.1zM110.7 310.5h1.9v1.9h-1.9zM126.1 304.5h1.8v1.8h-1.8zM90.0 312.9h1.5v1.5h-1.5zM117.3 319.4h2.6v2.6h-2.6zM94.4 340.0h1.8v1.8h-1.8zM119.4 303.8h2.6v2.6h-2.6zM90.2 341.8h1.7v1.7h-1.7zM77.4 330.6h1.5v1.5h-1.5zM120.1 312.5h1.4v1.4h-1.4zM106.5 333.2h2.1v2.1h-2.1zM116.2 303.3h2.5v2.5h-2.5zM121.5 342.2h1.3v1.3h-1.3zM92.6 311.9h2.4v2.4h-2.4zM91.4 322.6h1.6v1.6h-1.6zM117.2 307.2h1.9v1.9h-1.9zM118.5 320.7h1.6v1.6h-1.6zM105.0 311.1h2.2v2.2h-2.2zM121.8 313.6h1.4v1.4h-1.4zM97.2 301.1h2.4v2.4h-2.4zM129.6 333.6h2.0v2.0h-2.0zM109.2 320.7h2.0v2.0h-2.0zM110.7 347.8h1.7v1.7h-1.7zM84.6 325.3h1.4v1.4h-1.4zM93.8 329.0h2.4v2.4h-2.4zM109.2 355.6h2.3v2.3h-2.3zM131.4 349.7h1.7v1.7h-1.7zM86.4 339.4h2.3v2.3h-2.3zM99.1 346.3h2.1v2.1h-2.1zM122.1 300.6h2.4v2.4h-2.4zM125.4 313.5h2.4v2.4h-2.4zM91.1 347.9h2.4v2.4h-2.4zM122.7 305.8h1.6v1.6h-1.6zM107.0 313.8h1.8v1.8h-1.8zM129.9 351.4h1.5v1.5h-1.5zM85.8 344.0h2.0v2.0h-2.0zM76.9 354.1h1.5v1.5h-1.5zM81.2 349.9h2.4v2.4h-2.4zM82.0 332.7h2.5v2.5h-2.5zM132.0 351.2h2.4v2.4h-2.4zM128.7 322.8h2.2v2.2h-2.2zM124.1 346.3h2.1v2.1h-2.1zM123.2 342.8h2.5v2.5h-2.5zM127.0 349.2h1.5v1.5h-1.5zM95.4 328.1h1.3v1.3h-1.3zM92.2 349.1h2.6v2.6h-2.6zM103.8 329.3h1.4v1.4h-1.4zM106.4 352.5h1.7v1.7h-1.7zM113.0 346.1h1.9v1.9h-1.9zM100.5 340.3h1.5v1.5h-1.5zM95.3 313.4h1.4v1.4h-1.4zM90.0 346.9h2.3v2.3h-2.3zM98.9 306.9h2.0v2.0h-2.0zM92.4 335.6h2.4v2.4h-2.4zM96.5 318.7h2.4v2.4h-2.4zM124.2 339.2h1.7v1.7h-1.7zM128.1 304.1h2.6v2.6h-2.6zM116.7 303.9h1.5v1.5h-1.5zM120.8 352.7h1.4v1.4h-1.4zM110.9 348.4h2.2v2.2h-2.2zM128.2 349.5h1.5v1.5h-1.5zM81.1 350.3h1.6v1.6h-1.6zM125.3 353.9h1.8v1.8h-1.8zM119.2 312.2h2.0v2.0h-2.0zM83.3 335.5h1.5v1.5h-1.5zM100.2 301.9h2.6v2.6h-2.6zM110.7 319.4h1.6v1.6h-1.6zM120.1 327.9h2.0v2.0h-2.0zM78.7 320.9h1.9v1.9h-1.9zM123.3 311.9h1.4v1.4h-1.4zM106.4 312.6h1.3v1.3h-1.3zM82.4 327.3h1.9v1.9h-1.9z" fill="#8aa2b8" opacity="0.75"/><path d="M91.2 339.8h1.5v1.5h-1.5zM92.8 328.1h1.8v1.8h-1.8zM130.3 319.4h2.1v2.1h-2.1zM129.4 329.5h1.8v1.8h-1.8zM103.0 355.8h2.7v2.7h-2.7zM93.7 304.6h2.9v2.9h-2.9zM93.1 305.0h2.1v2.1h-2.1zM119.0 321.2h2.7v2.7h-2.7zM128.7 338.0h2.8v2.8h-2.8zM109.3 305.2h2.5v2.5h-2.5zM90.7 345.6h2.8v2.8h-2.8zM102.4 339.8h1.5v1.5h-1.5zM108.5 337.3h2.9v2.9h-2.9zM80.3 311.5h2.6v2.6h-2.6zM110.6 325.6h3.0v3.0h-3.0zM80.4 349.1h1.6v1.6h-1.6zM89.9 337.2h1.5v1.5h-1.5zM119.1 317.7h2.7v2.7h-2.7zM109.9 314.8h2.7v2.7h-2.7zM127.6 344.6h1.5v1.5h-1.5zM101.1 304.3h2.1v2.1h-2.1zM92.2 330.0h2.8v2.8h-2.8zM118.0 344.8h1.5v1.5h-1.5zM103.5 323.7h2.6v2.6h-2.6zM125.9 300.9h2.8v2.8h-2.8zM94.9 302.3h2.4v2.4h-2.4zM106.3 354.1h2.7v2.7h-2.7zM102.6 344.0h2.8v2.8h-2.8zM105.2 318.2h2.4v2.4h-2.4zM123.9 340.2h2.4v2.4h-2.4zM85.5 341.2h2.4v2.4h-2.4zM116.8 326.1h1.5v1.5h-1.5zM90.6 333.5h1.6v1.6h-1.6zM94.6 323.3h1.6v1.6h-1.6zM92.1 325.6h2.9v2.9h-2.9zM116.5 306.2h2.0v2.0h-2.0zM121.6 300.5h2.5v2.5h-2.5zM116.5 314.5h1.4v1.4h-1.4zM93.6 318.8h2.5v2.5h-2.5zM80.7 309.8h2.6v2.6h-2.6zM78.6 333.7h2.0v2.0h-2.0zM95.1 323.3h1.9v1.9h-1.9zM120.7 351.6h2.3v2.3h-2.3zM114.6 347.6h1.6v1.6h-1.6zM102.6 302.0h2.6v2.6h-2.6zM126.3 308.1h2.1v2.1h-2.1zM111.1 330.2h1.5v1.5h-1.5zM99.2 319.4h2.4v2.4h-2.4zM126.2 304.9h2.3v2.3h-2.3zM102.2 322.1h1.7v1.7h-1.7zM101.6 307.1h2.5v2.5h-2.5zM92.8 349.2h1.8v1.8h-1.8zM88.2 311.0h2.6v2.6h-2.6zM123.3 349.0h2.2v2.2h-2.2zM112.0 320.4h2.3v2.3h-2.3zM82.7 349.2h2.1v2.1h-2.1zM103.2 306.2h2.2v2.2h-2.2zM87.3 355.4h1.5v1.5h-1.5zM96.2 304.9h1.7v1.7h-1.7zM104.4 304.3h2.4v2.4h-2.4zM109.9 343.2h1.9v1.9h-1.9zM111.9 319.3h2.5v2.5h-2.5zM131.5 310.5h2.5v2.5h-2.5zM120.9 314.3h1.5v1.5h-1.5zM105.0 329.0h2.4v2.4h-2.4zM118.9 319.1h2.7v2.7h-2.7zM116.2 314.2h1.8v1.8h-1.8zM101.7 348.4h2.8v2.8h-2.8zM106.1 330.0h2.2v2.2h-2.2zM118.1 301.7h2.5v2.5h-2.5zM105.2 331.9h2.8v2.8h-2.8zM82.4 329.1h2.9v2.9h-2.9zM90.1 334.9h1.8v1.8h-1.8zM119.3 336.2h1.6v1.6h-1.6zM84.2 319.9h2.1v2.1h-2.1zM120.9 353.1h2.3v2.3h-2.3zM81.4 326.1h2.9v2.9h-2.9zM80.8 325.1h1.8v1.8h-1.8zM112.5 312.3h1.5v1.5h-1.5zM86.8 329.8h2.1v2.1h-2.1z" fill="#d2dde3" opacity="0.75"/><path d="M123.5 312.4h2.2v2.2h-2.2zM128.1 301.9h2.0v2.0h-2.0zM88.0 322.0h1.7v1.7h-1.7zM118.7 314.8h2.6v2.6h-2.6zM87.9 316.9h2.2v2.2h-2.2zM83.3 310.1h1.8v1.8h-1.8zM113.4 346.3h2.1v2.1h-2.1zM92.4 331.9h2.6v2.6h-2.6zM97.0 306.8h1.4v1.4h-1.4zM101.7 353.5h2.5v2.5h-2.5zM115.2 313.5h1.9v1.9h-1.9zM88.3 325.0h2.3v2.3h-2.3zM78.1 329.6h1.7v1.7h-1.7zM110.9 344.5h2.3v2.3h-2.3zM95.8 350.6h1.4v1.4h-1.4z" fill="#c2bba8" opacity="0.6"/></g></g><clipPath id="cp12"><rect x="131.2" y="301.5" width="54.0" height="53.8"/></clipPath><g clip-path="url(#cp12)"><rect x="131.2" y="301.5" width="54.0" height="53.8" fill="#bcc6c6"/><ellipse cx="150" cy="315" rx="12" ry="10" fill="#8aa0b8" opacity="0.3" filter="url(#bl3)"/><ellipse cx="175" cy="345" rx="10" ry="8" fill="#d4dcdc" opacity="0.4" filter="url(#bl3)"/><g filter="url(#bl)"><path d="M146.7 308.7h2.0v2.0h-2.0zM157.3 334.1h1.3v1.3h-1.3zM136.0 342.3h1.9v1.9h-1.9zM181.7 324.7h1.9v1.9h-1.9zM154.2 349.4h1.5v1.5h-1.5zM157.7 344.4h1.6v1.6h-1.6zM154.5 306.0h2.3v2.3h-2.3zM158.3 326.8h1.4v1.4h-1.4zM153.1 320.1h1.4v1.4h-1.4zM150.5 320.3h1.9v1.9h-1.9zM134.3 355.9h2.1v2.1h-2.1zM130.8 325.8h2.0v2.0h-2.0zM132.5 350.2h2.3v2.3h-2.3zM134.1 318.5h2.3v2.3h-2.3zM146.1 341.6h2.1v2.1h-2.1zM130.4 327.2h1.6v1.6h-1.6zM176.4 304.9h1.9v1.9h-1.9zM131.6 334.4h1.7v1.7h-1.7zM182.1 355.6h2.1v2.1h-2.1zM169.3 321.5h1.9v1.9h-1.9zM154.0 341.9h2.3v2.3h-2.3zM167.1 308.7h1.8v1.8h-1.8zM160.0 350.6h1.6v1.6h-1.6zM152.4 339.3h1.9v1.9h-1.9zM157.8 334.1h1.5v1.5h-1.5zM135.2 324.8h1.8v1.8h-1.8zM171.0 322.7h1.6v1.6h-1.6zM183.9 351.2h1.4v1.4h-1.4zM178.1 319.5h1.3v1.3h-1.3zM174.8 329.9h2.2v2.2h-2.2zM154.5 302.8h1.6v1.6h-1.6zM169.2 313.5h1.9v1.9h-1.9zM143.0 337.8h1.2v1.2h-1.2zM169.8 311.9h1.6v1.6h-1.6zM184.4 306.3h1.3v1.3h-1.3zM184.5 345.8h1.8v1.8h-1.8zM159.6 326.2h1.9v1.9h-1.9zM176.0 308.1h1.6v1.6h-1.6zM158.4 309.3h1.3v1.3h-1.3zM166.3 355.4h2.1v2.1h-2.1zM147.9 319.3h2.3v2.3h-2.3zM176.2 333.8h1.3v1.3h-1.3zM137.5 342.3h1.6v1.6h-1.6zM167.2 309.7h2.0v2.0h-2.0zM159.0 306.6h1.3v1.3h-1.3zM144.2 322.5h1.8v1.8h-1.8zM183.2 311.1h1.4v1.4h-1.4zM159.9 312.9h1.2v1.2h-1.2zM158.5 323.5h1.9v1.9h-1.9zM158.7 304.6h1.7v1.7h-1.7zM135.4 304.7h2.1v2.1h-2.1zM181.0 353.9h2.0v2.0h-2.0zM164.5 328.6h1.8v1.8h-1.8zM148.0 349.2h1.7v1.7h-1.7zM181.3 320.6h1.5v1.5h-1.5zM165.9 339.8h1.7v1.7h-1.7zM142.5 305.2h1.9v1.9h-1.9zM137.7 347.7h1.7v1.7h-1.7zM170.7 315.6h2.2v2.2h-2.2zM143.7 355.8h1.3v1.3h-1.3zM171.5 317.2h2.2v2.2h-2.2zM164.0 341.5h1.8v1.8h-1.8zM173.1 316.3h1.6v1.6h-1.6zM167.3 303.8h1.5v1.5h-1.5zM141.2 310.3h1.5v1.5h-1.5zM131.6 331.6h1.7v1.7h-1.7zM171.6 354.1h1.9v1.9h-1.9zM167.0 350.5h2.3v2.3h-2.3zM155.0 348.7h1.7v1.7h-1.7zM156.0 314.7h2.0v2.0h-2.0zM144.3 318.1h1.7v1.7h-1.7zM131.1 346.2h1.2v1.2h-1.2zM137.7 350.6h2.1v2.1h-2.1zM131.4 312.8h1.7v1.7h-1.7zM131.3 313.6h1.6v1.6h-1.6zM185.1 303.4h2.0v2.0h-2.0zM142.1 335.4h1.2v1.2h-1.2zM172.4 352.0h1.3v1.3h-1.3zM184.7 348.5h1.5v1.5h-1.5zM157.3 300.8h1.4v1.4h-1.4zM133.4 319.7h1.5v1.5h-1.5zM134.1 304.0h1.4v1.4h-1.4zM133.4 308.1h2.1v2.1h-2.1zM154.0 305.4h2.2v2.2h-2.2zM139.8 313.0h1.2v1.2h-1.2zM177.1 325.5h1.8v1.8h-1.8zM158.8 348.1h2.2v2.2h-2.2zM175.1 330.2h2.0v2.0h-2.0zM142.3 348.7h1.8v1.8h-1.8zM131.6 318.9h2.2v2.2h-2.2zM146.6 307.2h2.3v2.3h-2.3zM154.2 332.5h1.6v1.6h-1.6zM144.8 318.5h2.2v2.2h-2.2zM157.6 340.2h1.9v1.9h-1.9zM144.0 351.1h2.2v2.2h-2.2zM138.0 303.2h2.0v2.0h-2.0zM138.6 348.9h1.7v1.7h-1.7zM159.1 315.9h1.8v1.8h-1.8zM147.7 301.4h1.8v1.8h-1.8zM179.1 337.7h1.7v1.7h-1.7zM177.7 303.2h1.4v1.4h-1.4zM150.8 301.8h1.3v1.3h-1.3zM175.0 326.8h1.9v1.9h-1.9zM140.5 351.3h2.2v2.2h-2.2zM149.1 311.6h1.6v1.6h-1.6zM146.1 321.9h2.0v2.0h-2.0zM173.1 350.7h1.9v1.9h-1.9zM176.2 336.7h1.3v1.3h-1.3zM139.9 313.7h1.3v1.3h-1.3zM144.7 337.9h2.0v2.0h-2.0zM155.4 331.0h1.9v1.9h-1.9zM168.5 324.4h1.6v1.6h-1.6zM159.4 332.9h1.3v1.3h-1.3zM155.9 328.5h2.0v2.0h-2.0zM146.2 354.0h2.0v2.0h-2.0zM165.0 328.5h1.4v1.4h-1.4zM149.3 317.8h1.7v1.7h-1.7zM134.3 301.7h2.3v2.3h-2.3zM130.7 317.2h1.6v1.6h-1.6zM185.5 319.5h1.5v1.5h-1.5zM157.4 335.5h2.2v2.2h-2.2zM168.8 304.7h2.2v2.2h-2.2zM181.0 306.3h2.1v2.1h-2.1zM181.4 347.4h2.2v2.2h-2.2zM147.4 336.0h2.1v2.1h-2.1zM176.8 334.2h2.2v2.2h-2.2zM167.2 321.9h2.2v2.2h-2.2zM153.2 306.3h2.2v2.2h-2.2zM151.0 344.8h2.2v2.2h-2.2zM174.0 339.0h1.6v1.6h-1.6zM158.6 322.5h2.1v2.1h-2.1zM147.8 325.0h2.1v2.1h-2.1zM136.5 344.4h1.8v1.8h-1.8zM168.2 338.5h1.5v1.5h-1.5zM180.0 335.1h1.6v1.6h-1.6zM136.2 312.0h1.2v1.2h-1.2zM146.5 308.1h1.2v1.2h-1.2zM133.2 306.2h1.4v1.4h-1.4zM135.5 317.7h1.3v1.3h-1.3zM139.0 332.9h1.6v1.6h-1.6zM168.5 313.4h1.9v1.9h-1.9zM146.0 324.4h1.5v1.5h-1.5zM135.3 356.2h1.5v1.5h-1.5zM130.3 334.9h1.3v1.3h-1.3zM135.9 313.2h1.4v1.4h-1.4zM151.1 319.2h1.5v1.5h-1.5zM173.8 321.8h2.2v2.2h-2.2zM169.5 349.8h1.7v1.7h-1.7zM149.1 332.9h2.3v2.3h-2.3zM134.6 338.5h2.1v2.1h-2.1zM161.1 307.4h2.3v2.3h-2.3zM148.5 351.9h1.7v1.7h-1.7zM136.8 330.3h1.5v1.5h-1.5zM147.5 350.2h2.2v2.2h-2.2zM162.4 337.1h1.9v1.9h-1.9zM155.4 343.3h1.9v1.9h-1.9zM185.8 345.3h2.2v2.2h-2.2zM132.3 326.6h1.4v1.4h-1.4zM147.3 304.6h2.2v2.2h-2.2zM155.7 331.6h2.1v2.1h-2.1zM173.3 348.9h1.2v1.2h-1.2zM135.9 327.0h1.8v1.8h-1.8zM185.4 320.1h1.4v1.4h-1.4zM143.9 307.5h2.0v2.0h-2.0zM160.7 314.4h2.0v2.0h-2.0zM151.6 311.5h1.3v1.3h-1.3zM173.7 346.8h2.0v2.0h-2.0zM183.9 354.3h1.2v1.2h-1.2zM137.7 328.6h1.8v1.8h-1.8zM150.0 312.6h1.5v1.5h-1.5zM184.8 328.0h1.7v1.7h-1.7zM171.6 341.4h2.1v2.1h-2.1zM174.1 317.7h1.5v1.5h-1.5zM158.3 341.7h1.5v1.5h-1.5zM181.0 307.3h1.5v1.5h-1.5zM151.8 310.4h1.3v1.3h-1.3zM147.7 301.0h1.9v1.9h-1.9zM160.9 308.5h2.0v2.0h-2.0zM153.3 331.1h2.2v2.2h-2.2zM158.2 306.6h1.6v1.6h-1.6zM138.8 350.0h1.5v1.5h-1.5zM134.2 325.7h1.6v1.6h-1.6zM174.0 301.7h1.4v1.4h-1.4zM147.8 306.5h1.8v1.8h-1.8zM180.3 352.0h1.8v1.8h-1.8zM130.8 336.1h1.4v1.4h-1.4zM160.2 335.1h2.2v2.2h-2.2zM162.0 314.7h1.3v1.3h-1.3zM172.3 320.2h1.5v1.5h-1.5zM160.6 338.0h1.9v1.9h-1.9z" fill="#6d86a0" opacity="0.8"/><path d="M130.9 347.2h2.5v2.5h-2.5zM178.9 337.8h2.5v2.5h-2.5zM145.4 319.8h2.9v2.9h-2.9zM147.8 351.3h1.8v1.8h-1.8zM155.8 354.3h2.4v2.4h-2.4zM159.3 301.0h2.0v2.0h-2.0zM137.5 332.1h3.0v3.0h-3.0zM144.8 352.4h2.9v2.9h-2.9zM139.9 349.9h2.5v2.5h-2.5zM139.6 308.5h2.4v2.4h-2.4zM179.0 317.3h2.6v2.6h-2.6zM166.1 307.6h2.5v2.5h-2.5zM146.4 310.0h2.1v2.1h-2.1zM132.2 349.3h1.5v1.5h-1.5zM185.3 355.5h2.8v2.8h-2.8zM163.6 355.6h1.5v1.5h-1.5zM151.0 327.0h1.7v1.7h-1.7zM168.7 346.2h2.1v2.1h-2.1zM133.3 319.0h2.8v2.8h-2.8zM185.5 321.9h1.4v1.4h-1.4zM178.9 339.8h1.5v1.5h-1.5zM158.2 320.8h3.0v3.0h-3.0zM162.2 352.4h2.1v2.1h-2.1zM149.6 330.0h1.5v1.5h-1.5zM152.9 318.0h1.7v1.7h-1.7zM177.1 332.5h2.6v2.6h-2.6zM164.1 313.0h1.8v1.8h-1.8zM140.6 335.6h1.9v1.9h-1.9zM137.5 346.3h1.6v1.6h-1.6zM184.9 318.8h2.5v2.5h-2.5zM185.4 314.1h2.8v2.8h-2.8zM148.8 330.4h2.1v2.1h-2.1zM160.5 338.7h2.6v2.6h-2.6zM151.4 339.2h2.8v2.8h-2.8zM158.7 326.7h2.1v2.1h-2.1zM140.5 334.4h1.8v1.8h-1.8zM151.1 352.4h1.9v1.9h-1.9zM148.8 337.2h2.4v2.4h-2.4zM177.8 307.5h1.8v1.8h-1.8zM140.0 308.4h2.0v2.0h-2.0zM173.3 346.9h1.7v1.7h-1.7zM169.9 311.0h2.1v2.1h-2.1zM137.3 313.8h2.7v2.7h-2.7zM170.4 328.1h2.8v2.8h-2.8zM136.4 317.0h2.5v2.5h-2.5zM137.4 325.5h2.1v2.1h-2.1zM140.1 315.9h1.8v1.8h-1.8zM160.6 319.4h2.3v2.3h-2.3zM148.6 340.7h2.8v2.8h-2.8zM164.7 347.1h2.1v2.1h-2.1zM134.9 350.5h1.7v1.7h-1.7zM134.4 342.1h1.6v1.6h-1.6zM158.8 324.4h1.5v1.5h-1.5zM155.6 306.9h2.5v2.5h-2.5zM177.4 323.9h2.3v2.3h-2.3zM152.2 333.9h3.0v3.0h-3.0zM143.4 333.8h1.4v1.4h-1.4zM181.5 303.6h2.1v2.1h-2.1zM150.7 331.0h1.8v1.8h-1.8zM140.3 329.9h2.7v2.7h-2.7z" fill="#c8bca4" opacity="0.6"/><path d="M184.5 323.6h1.8v1.8h-1.8zM148.2 307.1h2.8v2.8h-2.8zM175.2 308.2h2.9v2.9h-2.9zM158.0 333.6h2.4v2.4h-2.4zM172.1 312.4h2.0v2.0h-2.0zM161.0 335.7h2.6v2.6h-2.6zM142.8 311.4h2.5v2.5h-2.5zM154.0 354.9h2.9v2.9h-2.9zM184.0 355.2h2.8v2.8h-2.8zM174.7 303.4h2.7v2.7h-2.7zM177.2 310.0h1.6v1.6h-1.6zM180.7 310.2h1.5v1.5h-1.5zM150.2 320.0h1.9v1.9h-1.9zM140.7 326.0h2.7v2.7h-2.7zM132.2 327.2h2.9v2.9h-2.9zM175.5 302.1h2.3v2.3h-2.3zM141.1 309.1h2.8v2.8h-2.8zM181.4 356.1h1.4v1.4h-1.4zM131.1 319.4h2.0v2.0h-2.0zM136.3 351.5h2.1v2.1h-2.1zM185.4 303.0h2.1v2.1h-2.1zM136.1 354.7h2.8v2.8h-2.8zM136.7 320.2h3.0v3.0h-3.0zM163.5 322.8h2.4v2.4h-2.4zM156.6 347.6h1.5v1.5h-1.5zM162.4 351.4h1.4v1.4h-1.4zM147.6 323.8h2.4v2.4h-2.4zM176.8 330.7h1.5v1.5h-1.5zM183.6 310.8h2.7v2.7h-2.7zM136.4 306.4h2.5v2.5h-2.5zM152.6 347.7h1.5v1.5h-1.5zM136.1 305.1h2.1v2.1h-2.1zM139.6 309.6h2.1v2.1h-2.1zM173.7 344.6h2.0v2.0h-2.0zM149.7 315.0h2.5v2.5h-2.5zM151.0 339.8h1.6v1.6h-1.6zM142.7 331.0h1.4v1.4h-1.4zM180.4 347.4h2.1v2.1h-2.1zM135.8 321.6h2.0v2.0h-2.0zM150.0 324.9h1.6v1.6h-1.6zM133.6 304.8h1.6v1.6h-1.6zM141.2 323.7h1.6v1.6h-1.6zM138.4 332.9h2.3v2.3h-2.3zM145.8 339.9h2.3v2.3h-2.3zM141.8 348.6h2.3v2.3h-2.3zM138.1 328.3h1.5v1.5h-1.5zM147.4 350.0h2.0v2.0h-2.0zM158.2 302.3h2.1v2.1h-2.1zM179.0 351.3h2.1v2.1h-2.1zM185.4 355.0h1.6v1.6h-1.6zM176.2 314.3h2.4v2.4h-2.4zM156.9 312.9h1.7v1.7h-1.7zM185.4 349.0h2.1v2.1h-2.1zM176.0 339.5h2.0v2.0h-2.0zM175.9 347.5h1.9v1.9h-1.9zM181.5 320.4h1.7v1.7h-1.7zM180.0 345.0h1.8v1.8h-1.8zM159.7 309.3h2.6v2.6h-2.6zM136.2 356.1h2.8v2.8h-2.8zM150.5 351.4h2.1v2.1h-2.1zM164.2 351.1h1.4v1.4h-1.4zM130.6 317.9h2.3v2.3h-2.3zM171.5 311.7h1.5v1.5h-1.5zM130.3 300.8h1.7v1.7h-1.7zM183.1 323.9h1.8v1.8h-1.8zM140.5 325.1h1.8v1.8h-1.8zM142.1 325.8h2.1v2.1h-2.1zM184.8 324.1h1.5v1.5h-1.5zM133.5 340.4h2.2v2.2h-2.2zM163.4 354.0h1.9v1.9h-1.9zM140.2 323.4h2.9v2.9h-2.9zM180.2 332.1h2.6v2.6h-2.6zM147.4 326.0h1.7v1.7h-1.7zM163.8 344.2h2.3v2.3h-2.3zM178.2 313.9h2.7v2.7h-2.7zM169.8 348.8h2.3v2.3h-2.3zM147.3 321.9h2.6v2.6h-2.6zM146.5 354.8h2.5v2.5h-2.5zM186.0 323.9h2.2v2.2h-2.2zM173.5 354.7h1.6v1.6h-1.6zM179.6 352.7h2.0v2.0h-2.0zM150.5 306.3h2.5v2.5h-2.5zM154.4 321.2h1.7v1.7h-1.7zM177.4 302.7h2.9v2.9h-2.9zM137.8 325.0h1.8v1.8h-1.8zM133.6 304.3h1.6v1.6h-1.6zM131.2 314.2h1.9v1.9h-1.9zM161.4 351.1h2.2v2.2h-2.2zM178.5 323.4h2.7v2.7h-2.7zM143.5 321.8h1.8v1.8h-1.8z" fill="#d8e0e2" opacity="0.75"/><path d="M151.3 327.9h1.8v1.8h-1.8zM172.4 323.1h1.2v1.2h-1.2zM171.2 335.9h1.8v1.8h-1.8zM181.8 304.6h1.7v1.7h-1.7zM135.2 318.2h1.2v1.2h-1.2zM143.4 322.0h1.2v1.2h-1.2zM157.0 315.7h1.4v1.4h-1.4zM185.1 303.5h1.1v1.1h-1.1zM139.1 312.4h1.8v1.8h-1.8zM175.9 327.0h1.8v1.8h-1.8zM132.7 302.8h1.1v1.1h-1.1zM175.1 346.1h1.3v1.3h-1.3zM180.4 322.8h1.5v1.5h-1.5zM173.8 342.8h1.5v1.5h-1.5zM149.0 309.8h1.3v1.3h-1.3zM184.0 355.9h1.7v1.7h-1.7zM170.8 301.4h1.4v1.4h-1.4zM185.3 329.0h1.5v1.5h-1.5zM164.2 331.9h1.5v1.5h-1.5zM157.9 323.8h1.8v1.8h-1.8zM151.6 335.2h1.8v1.8h-1.8zM146.6 307.8h1.0v1.0h-1.0zM136.3 313.3h1.4v1.4h-1.4zM131.6 350.9h1.5v1.5h-1.5zM166.2 354.2h1.2v1.2h-1.2zM153.7 354.2h1.7v1.7h-1.7zM174.6 316.2h1.7v1.7h-1.7zM131.3 306.9h1.4v1.4h-1.4zM132.6 307.0h1.8v1.8h-1.8zM149.7 308.0h1.7v1.7h-1.7zM140.0 347.7h1.3v1.3h-1.3zM144.9 346.3h1.2v1.2h-1.2zM184.1 304.6h1.0v1.0h-1.0zM138.2 353.5h1.2v1.2h-1.2zM143.7 320.9h1.0v1.0h-1.0zM163.7 323.8h1.7v1.7h-1.7zM177.6 329.1h1.5v1.5h-1.5zM183.1 320.7h1.8v1.8h-1.8zM160.2 304.7h1.1v1.1h-1.1zM172.9 355.9h1.0v1.0h-1.0zM138.2 343.8h1.7v1.7h-1.7zM138.6 321.9h1.5v1.5h-1.5zM162.7 323.3h1.5v1.5h-1.5zM182.8 350.5h1.2v1.2h-1.2zM185.2 316.4h1.3v1.3h-1.3z" fill="#56709a" opacity="0.8"/></g></g><clipPath id="cp13"><rect x="185.2" y="301.5" width="53.4" height="53.8"/></clipPath><g clip-path="url(#cp13)"><rect x="185.2" y="301.5" width="53.4" height="53.8" fill="#d1b38c"/><ellipse cx="200" cy="320" rx="12" ry="10" fill="#c89c6c" opacity="0.35" filter="url(#bl3)"/><ellipse cx="225" cy="345" rx="10" ry="8" fill="#e0d2bc" opacity="0.4" filter="url(#bl3)"/><g filter="url(#bl)"><path d="M208.5 347.7h1.5v1.5h-1.5zM235.0 345.0h2.3v2.3h-2.3zM208.5 342.4h2.8v2.8h-2.8zM217.6 303.2h2.2v2.2h-2.2zM201.3 326.4h3.0v3.0h-3.0zM194.2 353.8h2.1v2.1h-2.1zM224.0 338.3h2.8v2.8h-2.8zM226.0 314.0h2.6v2.6h-2.6zM204.4 354.2h1.6v1.6h-1.6zM189.1 307.8h1.5v1.5h-1.5zM190.2 323.5h2.5v2.5h-2.5zM209.1 304.0h1.6v1.6h-1.6zM185.9 334.6h1.9v1.9h-1.9zM214.4 319.5h3.0v3.0h-3.0zM210.0 312.9h2.8v2.8h-2.8zM211.2 334.6h3.1v3.1h-3.1zM188.3 319.7h2.0v2.0h-2.0zM200.5 302.8h2.1v2.1h-2.1zM225.4 355.3h2.9v2.9h-2.9zM232.4 311.3h1.5v1.5h-1.5zM216.9 354.8h1.5v1.5h-1.5zM209.4 321.0h2.8v2.8h-2.8zM228.3 343.1h2.8v2.8h-2.8zM185.2 340.0h2.9v2.9h-2.9zM201.8 302.5h2.9v2.9h-2.9zM233.9 301.5h2.4v2.4h-2.4zM200.9 340.2h2.3v2.3h-2.3zM231.4 346.5h1.8v1.8h-1.8zM217.7 308.9h1.6v1.6h-1.6zM222.5 323.7h3.0v3.0h-3.0zM235.1 346.0h2.3v2.3h-2.3zM191.8 318.8h1.4v1.4h-1.4zM212.5 344.9h1.5v1.5h-1.5zM237.2 300.6h3.2v3.2h-3.2zM201.4 315.0h3.1v3.1h-3.1zM210.6 326.7h3.1v3.1h-3.1zM238.4 302.0h2.6v2.6h-2.6zM189.3 332.3h2.1v2.1h-2.1zM226.5 340.6h2.6v2.6h-2.6zM230.2 325.5h2.0v2.0h-2.0zM187.8 323.7h2.7v2.7h-2.7zM185.9 316.2h3.2v3.2h-3.2zM204.1 354.2h2.7v2.7h-2.7zM195.2 314.9h2.8v2.8h-2.8zM223.0 316.4h2.3v2.3h-2.3zM222.9 337.7h2.9v2.9h-2.9zM206.8 352.5h2.5v2.5h-2.5zM216.0 354.4h2.5v2.5h-2.5zM213.0 303.3h1.5v1.5h-1.5zM233.5 329.3h2.1v2.1h-2.1zM193.3 309.7h2.1v2.1h-2.1zM210.6 336.9h1.7v1.7h-1.7zM196.3 321.4h1.5v1.5h-1.5zM216.5 347.4h3.0v3.0h-3.0zM219.1 313.1h3.0v3.0h-3.0zM216.8 346.0h1.7v1.7h-1.7zM187.5 307.7h1.5v1.5h-1.5zM214.0 329.2h3.0v3.0h-3.0zM219.6 328.5h1.4v1.4h-1.4zM234.2 326.1h1.5v1.5h-1.5zM217.7 351.0h1.5v1.5h-1.5zM221.4 332.3h1.4v1.4h-1.4zM198.3 307.0h2.2v2.2h-2.2zM210.5 317.4h2.7v2.7h-2.7zM230.6 301.6h2.1v2.1h-2.1zM197.2 329.7h2.1v2.1h-2.1zM223.9 322.5h1.7v1.7h-1.7zM226.8 315.9h2.1v2.1h-2.1zM227.4 321.4h1.7v1.7h-1.7zM207.4 307.0h2.4v2.4h-2.4zM185.0 310.3h2.9v2.9h-2.9zM216.5 325.6h3.0v3.0h-3.0zM190.8 315.1h1.9v1.9h-1.9zM225.9 322.0h1.5v1.5h-1.5zM202.4 303.6h1.6v1.6h-1.6zM206.6 351.0h2.0v2.0h-2.0zM217.2 327.6h2.3v2.3h-2.3zM230.1 310.7h1.7v1.7h-1.7zM196.7 320.3h1.9v1.9h-1.9zM196.6 311.6h2.5v2.5h-2.5zM204.2 335.6h1.7v1.7h-1.7zM203.1 311.4h2.9v2.9h-2.9zM199.3 317.3h1.6v1.6h-1.6zM215.5 315.7h2.6v2.6h-2.6zM206.0 334.0h2.3v2.3h-2.3zM235.4 314.3h2.9v2.9h-2.9zM194.6 331.4h2.6v2.6h-2.6zM185.4 317.6h2.1v2.1h-2.1zM192.8 342.4h1.6v1.6h-1.6zM207.6 311.2h2.7v2.7h-2.7zM222.7 344.6h2.3v2.3h-2.3zM217.8 351.0h2.1v2.1h-2.1zM236.7 316.7h2.1v2.1h-2.1zM233.2 305.6h2.2v2.2h-2.2zM224.1 333.3h1.4v1.4h-1.4zM205.1 346.6h2.2v2.2h-2.2zM202.3 314.4h2.7v2.7h-2.7zM186.7 342.9h1.9v1.9h-1.9zM210.9 346.9h2.8v2.8h-2.8zM226.8 310.2h1.7v1.7h-1.7zM232.5 331.9h1.9v1.9h-1.9zM206.5 322.1h2.9v2.9h-2.9zM226.4 324.9h2.7v2.7h-2.7zM228.7 315.9h1.7v1.7h-1.7zM212.9 303.7h2.7v2.7h-2.7zM203.3 323.6h3.0v3.0h-3.0zM196.9 307.2h3.0v3.0h-3.0zM184.8 351.5h2.4v2.4h-2.4zM187.1 343.9h1.9v1.9h-1.9zM203.7 351.2h1.6v1.6h-1.6zM203.2 352.3h2.3v2.3h-2.3zM216.1 302.8h3.2v3.2h-3.2zM219.5 348.6h1.6v1.6h-1.6zM192.2 315.5h2.8v2.8h-2.8zM187.3 352.5h3.0v3.0h-3.0zM204.5 322.4h2.5v2.5h-2.5zM215.9 310.2h2.2v2.2h-2.2zM190.4 355.7h1.8v1.8h-1.8zM231.8 329.3h2.3v2.3h-2.3zM205.0 348.9h2.2v2.2h-2.2zM192.6 322.4h1.6v1.6h-1.6zM201.2 314.9h3.1v3.1h-3.1zM209.7 342.6h1.4v1.4h-1.4zM201.8 344.9h2.5v2.5h-2.5zM237.5 322.5h3.0v3.0h-3.0zM193.4 330.8h2.3v2.3h-2.3zM209.1 351.5h3.1v3.1h-3.1zM217.2 353.0h1.9v1.9h-1.9zM203.2 355.1h2.0v2.0h-2.0zM238.8 304.3h1.9v1.9h-1.9z" fill="#c09a6e" opacity="0.75"/><path d="M219.1 349.3h1.2v1.2h-1.2zM195.3 301.8h1.4v1.4h-1.4zM213.0 313.7h1.3v1.3h-1.3zM221.5 308.4h2.2v2.2h-2.2zM231.8 350.4h2.1v2.1h-2.1zM234.8 349.4h1.5v1.5h-1.5zM184.7 305.6h1.2v1.2h-1.2zM203.9 324.6h1.9v1.9h-1.9zM206.3 305.3h1.6v1.6h-1.6zM221.7 334.1h1.2v1.2h-1.2zM207.5 340.6h1.4v1.4h-1.4zM203.8 344.5h2.0v2.0h-2.0zM200.0 304.7h1.4v1.4h-1.4zM226.8 342.3h1.3v1.3h-1.3zM202.7 324.0h1.7v1.7h-1.7zM203.4 302.9h1.6v1.6h-1.6zM214.4 351.7h1.2v1.2h-1.2zM228.8 323.4h1.4v1.4h-1.4zM228.5 300.9h1.4v1.4h-1.4zM209.3 318.0h2.0v2.0h-2.0zM185.9 329.4h1.3v1.3h-1.3zM185.7 312.4h1.3v1.3h-1.3zM191.0 321.4h2.2v2.2h-2.2zM238.6 314.6h1.4v1.4h-1.4zM206.0 311.2h1.9v1.9h-1.9zM210.7 335.0h1.6v1.6h-1.6zM196.2 308.2h1.4v1.4h-1.4zM205.8 327.5h1.2v1.2h-1.2zM207.5 313.4h1.9v1.9h-1.9zM236.2 324.6h1.3v1.3h-1.3zM215.9 333.5h1.6v1.6h-1.6zM215.4 347.1h1.4v1.4h-1.4zM204.3 342.2h1.3v1.3h-1.3zM222.3 310.1h1.5v1.5h-1.5zM228.9 343.6h1.6v1.6h-1.6zM225.2 310.3h1.8v1.8h-1.8zM215.3 352.5h2.1v2.1h-2.1zM213.1 313.9h1.4v1.4h-1.4zM236.8 306.3h1.5v1.5h-1.5zM215.4 303.3h2.1v2.1h-2.1zM222.5 348.4h1.7v1.7h-1.7zM221.1 301.0h2.0v2.0h-2.0zM231.6 328.1h1.9v1.9h-1.9zM196.3 316.7h1.6v1.6h-1.6zM226.5 354.2h1.4v1.4h-1.4zM236.6 338.0h1.3v1.3h-1.3zM227.9 316.8h1.2v1.2h-1.2zM206.7 306.4h2.1v2.1h-2.1zM194.8 314.0h1.3v1.3h-1.3zM211.0 328.9h1.4v1.4h-1.4zM223.6 352.3h1.4v1.4h-1.4zM198.7 311.6h1.6v1.6h-1.6zM208.1 320.1h1.8v1.8h-1.8zM234.5 332.4h1.3v1.3h-1.3zM212.0 330.4h1.7v1.7h-1.7zM198.3 321.7h1.5v1.5h-1.5zM216.7 355.7h1.6v1.6h-1.6zM203.7 304.2h1.3v1.3h-1.3zM197.9 331.5h1.8v1.8h-1.8zM205.7 346.4h2.2v2.2h-2.2zM204.0 347.8h1.7v1.7h-1.7zM197.1 308.2h1.7v1.7h-1.7zM221.7 321.8h1.9v1.9h-1.9zM224.0 303.0h1.6v1.6h-1.6zM219.6 345.4h1.3v1.3h-1.3zM220.3 318.7h2.2v2.2h-2.2zM214.3 354.8h2.0v2.0h-2.0zM213.8 318.3h1.5v1.5h-1.5zM198.9 306.3h2.2v2.2h-2.2zM230.1 337.2h1.3v1.3h-1.3zM236.7 329.4h1.8v1.8h-1.8zM196.2 351.5h1.2v1.2h-1.2zM206.9 324.4h2.1v2.1h-2.1zM215.5 331.2h1.6v1.6h-1.6zM221.1 301.8h2.1v2.1h-2.1zM234.5 326.4h1.7v1.7h-1.7zM213.0 332.4h2.0v2.0h-2.0zM227.1 320.0h1.4v1.4h-1.4zM236.0 309.5h2.0v2.0h-2.0zM213.5 314.8h1.4v1.4h-1.4z" fill="#9aa0aa" opacity="0.75"/><path d="M192.1 333.1h2.3v2.3h-2.3zM189.3 331.1h1.6v1.6h-1.6zM236.8 348.3h1.8v1.8h-1.8zM220.4 324.3h1.6v1.6h-1.6zM218.8 353.9h2.5v2.5h-2.5zM236.5 334.6h2.6v2.6h-2.6zM190.8 304.5h1.6v1.6h-1.6zM226.3 350.5h1.7v1.7h-1.7zM209.1 348.6h2.5v2.5h-2.5zM206.6 353.1h2.6v2.6h-2.6zM187.2 333.5h2.2v2.2h-2.2zM216.9 331.6h2.7v2.7h-2.7zM227.3 306.2h2.8v2.8h-2.8zM210.7 343.7h1.7v1.7h-1.7zM204.5 324.9h3.0v3.0h-3.0zM236.6 340.4h1.9v1.9h-1.9zM207.3 312.7h2.7v2.7h-2.7zM219.0 342.9h2.1v2.1h-2.1zM185.3 320.1h1.8v1.8h-1.8zM205.4 318.2h2.0v2.0h-2.0zM232.1 302.7h1.9v1.9h-1.9zM215.1 317.2h2.5v2.5h-2.5zM225.5 320.4h2.5v2.5h-2.5zM200.8 324.5h2.7v2.7h-2.7zM190.1 330.8h2.2v2.2h-2.2zM226.5 313.2h2.5v2.5h-2.5zM214.4 349.0h2.8v2.8h-2.8zM229.3 330.7h1.9v1.9h-1.9zM229.7 323.5h1.9v1.9h-1.9zM202.9 350.2h1.6v1.6h-1.6zM232.0 338.3h2.6v2.6h-2.6zM219.6 347.6h1.5v1.5h-1.5zM212.7 340.1h1.9v1.9h-1.9zM234.8 307.2h2.1v2.1h-2.1zM193.2 336.8h2.7v2.7h-2.7zM193.3 349.7h2.1v2.1h-2.1zM232.4 331.7h2.6v2.6h-2.6zM201.5 323.2h2.0v2.0h-2.0zM235.4 314.6h2.6v2.6h-2.6zM222.4 352.7h2.8v2.8h-2.8zM215.9 301.8h2.9v2.9h-2.9zM232.6 337.5h1.9v1.9h-1.9zM186.1 334.1h2.9v2.9h-2.9zM195.5 308.3h1.9v1.9h-1.9zM232.9 348.0h2.9v2.9h-2.9zM221.4 333.2h2.3v2.3h-2.3zM213.5 326.9h2.8v2.8h-2.8zM191.5 346.4h2.2v2.2h-2.2zM227.6 349.7h1.7v1.7h-1.7zM187.5 346.7h1.4v1.4h-1.4zM216.0 308.5h2.0v2.0h-2.0zM221.0 348.6h2.6v2.6h-2.6zM206.2 348.7h2.4v2.4h-2.4zM228.8 335.0h1.4v1.4h-1.4zM232.2 328.4h2.3v2.3h-2.3zM226.1 353.8h2.1v2.1h-2.1zM213.1 331.9h2.0v2.0h-2.0zM190.4 347.2h1.7v1.7h-1.7zM189.9 302.6h2.6v2.6h-2.6zM210.6 339.7h2.3v2.3h-2.3zM222.0 345.7h1.4v1.4h-1.4zM199.5 315.1h2.0v2.0h-2.0zM187.6 350.9h1.9v1.9h-1.9zM219.0 305.2h2.4v2.4h-2.4zM220.4 302.6h1.5v1.5h-1.5zM208.0 342.5h1.6v1.6h-1.6zM212.1 301.4h2.3v2.3h-2.3zM236.8 309.6h2.2v2.2h-2.2zM208.3 305.4h1.6v1.6h-1.6zM219.1 321.5h2.3v2.3h-2.3zM198.4 319.5h1.7v1.7h-1.7zM225.1 351.5h2.9v2.9h-2.9zM201.1 307.2h3.0v3.0h-3.0zM237.7 322.7h2.6v2.6h-2.6zM220.1 353.5h2.5v2.5h-2.5zM187.5 324.7h1.4v1.4h-1.4zM230.6 342.6h1.6v1.6h-1.6zM209.6 344.7h2.0v2.0h-2.0zM214.1 302.6h2.3v2.3h-2.3zM185.7 352.6h2.8v2.8h-2.8zM209.4 355.4h1.7v1.7h-1.7zM239.3 336.9h2.1v2.1h-2.1zM236.6 349.1h2.6v2.6h-2.6zM199.0 305.0h2.8v2.8h-2.8zM213.4 333.2h2.0v2.0h-2.0zM219.5 314.9h2.6v2.6h-2.6zM218.3 345.8h2.1v2.1h-2.1zM219.5 317.5h1.5v1.5h-1.5zM199.6 323.2h1.7v1.7h-1.7zM210.0 324.7h1.5v1.5h-1.5z" fill="#e0d2bc" opacity="0.75"/><path d="M185.1 326.0h2.4v2.4h-2.4zM189.6 311.8h1.9v1.9h-1.9zM210.4 305.7h2.9v2.9h-2.9zM196.6 343.3h2.5v2.5h-2.5zM230.3 334.1h2.1v2.1h-2.1zM213.7 311.2h2.8v2.8h-2.8zM189.0 331.0h2.1v2.1h-2.1zM229.7 325.4h2.3v2.3h-2.3zM222.6 315.4h3.0v3.0h-3.0zM229.4 311.0h2.5v2.5h-2.5zM196.8 311.6h2.9v2.9h-2.9zM231.6 312.9h1.8v1.8h-1.8zM238.0 333.8h2.1v2.1h-2.1zM218.0 311.6h2.3v2.3h-2.3zM237.6 317.9h1.9v1.9h-1.9zM219.2 338.9h2.5v2.5h-2.5zM218.1 328.3h2.8v2.8h-2.8zM231.5 308.2h1.6v1.6h-1.6zM194.9 353.6h1.8v1.8h-1.8zM232.1 314.2h1.7v1.7h-1.7zM201.5 302.7h2.7v2.7h-2.7zM219.2 313.7h2.1v2.1h-2.1zM219.2 351.4h2.4v2.4h-2.4zM214.8 306.8h2.4v2.4h-2.4zM231.1 348.2h1.9v1.9h-1.9zM189.3 311.9h2.9v2.9h-2.9zM222.3 353.7h2.5v2.5h-2.5zM198.0 331.8h2.5v2.5h-2.5zM214.1 352.5h1.8v1.8h-1.8zM205.9 349.4h2.0v2.0h-2.0zM207.7 341.4h1.8v1.8h-1.8zM226.3 334.5h2.8v2.8h-2.8zM221.3 314.3h2.9v2.9h-2.9zM212.0 302.3h2.0v2.0h-2.0zM232.9 307.4h1.5v1.5h-1.5zM214.2 338.7h2.5v2.5h-2.5zM189.9 339.7h2.9v2.9h-2.9zM202.3 353.2h1.7v1.7h-1.7zM202.8 321.4h2.7v2.7h-2.7zM217.1 310.7h2.8v2.8h-2.8zM185.4 347.1h2.3v2.3h-2.3zM226.4 328.4h2.9v2.9h-2.9zM238.5 307.0h2.7v2.7h-2.7zM217.0 302.9h1.9v1.9h-1.9zM190.7 306.6h1.8v1.8h-1.8zM187.8 316.5h2.0v2.0h-2.0zM208.8 337.8h2.2v2.2h-2.2zM234.6 304.9h2.1v2.1h-2.1zM238.3 314.6h1.5v1.5h-1.5zM213.4 333.1h2.2v2.2h-2.2z" fill="#d6a874" opacity="0.7"/></g></g><line x1="23.4" y1="247.20000000000002" x2="23.4" y2="355.90000000000003" stroke="#1a1a1a" stroke-width="1.35" stroke-linecap="butt"/><line x1="77.4" y1="247.20000000000002" x2="77.4" y2="355.90000000000003" stroke="#1a1a1a" stroke-width="1.35" stroke-linecap="butt"/><line x1="131.2" y1="247.20000000000002" x2="131.2" y2="355.90000000000003" stroke="#1a1a1a" stroke-width="1.35" stroke-linecap="butt"/><line x1="185.2" y1="247.20000000000002" x2="185.2" y2="355.90000000000003" stroke="#1a1a1a" stroke-width="1.35" stroke-linecap="butt"/><line x1="238.6" y1="247.20000000000002" x2="238.6" y2="355.90000000000003" stroke="#1a1a1a" stroke-width="1.35" stroke-linecap="butt"/><line x1="22.799999999999997" y1="247.8" x2="239.2" y2="247.8" stroke="#1a1a1a" stroke-width="1.35" stroke-linecap="butt"/><line x1="22.799999999999997" y1="301.5" x2="239.2" y2="301.5" stroke="#1a1a1a" stroke-width="1.35" stroke-linecap="butt"/><line x1="22.799999999999997" y1="355.3" x2="239.2" y2="355.3" stroke="#1a1a1a" stroke-width="1.35" stroke-linecap="butt"/><text x="25.1" y="296.8" font-size="6.6" fill="#2a3f62" stroke="#2a3f62" stroke-width="0.25">25</text><text x="32.2" y="296.8" font-size="5.5" fill="#4a5a70" opacity="0.7">µm</text><line x1="30" y1="299.5" x2="38" y2="299.5" stroke="#222" stroke-width="1.1" stroke-linecap="butt"/><line x1="282.9" y1="240.8" x2="282.9" y2="356.1" stroke="#262626" stroke-width="1.35" stroke-linecap="butt"/><line x1="282.2" y1="355.5" x2="360.1" y2="355.5" stroke="#262626" stroke-width="1.3" stroke-linecap="butt"/><line x1="280.2" y1="243.8" x2="282.8" y2="243.8" stroke="#262626" stroke-width="0.9" stroke-linecap="butt"/><text x="276.9" y="245.8" font-size="5.6" fill="#262626" text-anchor="end" font-weight="normal" font-style="normal" stroke="#262626" stroke-width="0.08">100</text><line x1="280.2" y1="266.1" x2="282.8" y2="266.1" stroke="#262626" stroke-width="0.9" stroke-linecap="butt"/><text x="276.9" y="268.1" font-size="5.6" fill="#262626" text-anchor="end" font-weight="normal" font-style="normal" stroke="#262626" stroke-width="0.08">80</text><line x1="280.2" y1="288.3" x2="282.8" y2="288.3" stroke="#262626" stroke-width="0.9" stroke-linecap="butt"/><text x="276.9" y="290.3" font-size="5.6" fill="#262626" text-anchor="end" font-weight="normal" font-style="normal" stroke="#262626" stroke-width="0.08">60</text><line x1="280.2" y1="310.5" x2="282.8" y2="310.5" stroke="#262626" stroke-width="0.9" stroke-linecap="butt"/><text x="276.9" y="312.5" font-size="5.6" fill="#262626" text-anchor="end" font-weight="normal" font-style="normal" stroke="#262626" stroke-width="0.08">40</text><line x1="280.2" y1="332.9" x2="282.8" y2="332.9" stroke="#262626" stroke-width="0.9" stroke-linecap="butt"/><text x="276.9" y="334.9" font-size="5.6" fill="#262626" text-anchor="end" font-weight="normal" font-style="normal" stroke="#262626" stroke-width="0.08">20</text><line x1="280.2" y1="355.3" x2="282.8" y2="355.3" stroke="#262626" stroke-width="0.9" stroke-linecap="butt"/><text x="276.9" y="357.3" font-size="5.6" fill="#262626" text-anchor="end" font-weight="normal" font-style="normal" stroke="#262626" stroke-width="0.08">0</text><text transform="translate(259.3,296.2) rotate(-90)" x="0" y="2.16" font-size="6.0" fill="#222" stroke="#222" stroke-width="0.18" text-anchor="middle" font-weight="normal" font-style="normal" textLength="67" lengthAdjust="spacingAndGlyphs">% Area with PGE2 staining</text><polyline points="298.5,240 298.5,237.8 342.7,237.8 342.7,240" fill="none" stroke="#333" stroke-width="0.9" stroke-linejoin="miter"/><polyline points="321.3,253.6 321.3,251.7 343.5,251.7 343.5,253.6" fill="none" stroke="#333" stroke-width="0.9" stroke-linejoin="miter"/><text x="309" y="235.4" font-size="5.4" fill="#262626" stroke="#262626" stroke-width="0.08" textLength="23.2" lengthAdjust="spacingAndGlyphs"><tspan font-style="italic">P</tspan> = .009</text><text x="321.3" y="249.7" font-size="5.4" fill="#262626" stroke="#262626" stroke-width="0.08" textLength="23.4" lengthAdjust="spacingAndGlyphs"><tspan font-style="italic">P</tspan> = .040</text><line x1="298.4" y1="325.3" x2="298.4" y2="351.6" stroke="#b2306e" stroke-width="0.9" stroke-linecap="butt"/><line x1="293.6" y1="325.3" x2="303.2" y2="325.3" stroke="#b2306e" stroke-width="0.9" stroke-linecap="butt"/><line x1="294" y1="351.6" x2="302.8" y2="351.6" stroke="#b2306e" stroke-width="0.9" stroke-linecap="butt"/><line x1="289.4" y1="338.5" x2="306.8" y2="338.5" stroke="#b2306e" stroke-width="1" stroke-linecap="butt"/><circle cx="292.9" cy="326.9" r="2.4" fill="#d81b6a"/><circle cx="303.8" cy="328.4" r="2.4" fill="#d81b6a"/><circle cx="292.9" cy="332.3" r="2.4" fill="#d81b6a"/><circle cx="298.3" cy="349.6" r="2.4" fill="#d81b6a"/><circle cx="298.3" cy="355.2" r="2.4" fill="#d81b6a"/><line x1="321.2" y1="315.8" x2="321.2" y2="342.2" stroke="#34465a" stroke-width="0.9" stroke-linecap="butt"/><line x1="317.4" y1="315.8" x2="325" y2="315.8" stroke="#34465a" stroke-width="0.9" stroke-linecap="butt"/><line x1="317.4" y1="342.2" x2="325" y2="342.2" stroke="#34465a" stroke-width="0.9" stroke-linecap="butt"/><line x1="312.4" y1="329.1" x2="330" y2="329.1" stroke="#34465a" stroke-width="1" stroke-linecap="butt"/><rect x="319.2" y="308.2" width="4.0" height="4.0" fill="#34465a"/><rect x="319.2" y="320.4" width="4.0" height="4.0" fill="#34465a"/><rect x="319.2" y="329.1" width="4.0" height="4.0" fill="#34465a"/><rect x="319.2" y="334.6" width="4.0" height="4.0" fill="#34465a"/><rect x="319.2" y="342.6" width="4.0" height="4.0" fill="#34465a"/><line x1="344.5" y1="271.1" x2="344.5" y2="322.5" stroke="#b3b5a0" stroke-width="0.8" stroke-linecap="butt"/><line x1="340.8" y1="271.1" x2="348.2" y2="271.1" stroke="#b3b5a0" stroke-width="0.9" stroke-linecap="butt"/><line x1="340.8" y1="322.5" x2="348.2" y2="322.5" stroke="#b3b5a0" stroke-width="0.9" stroke-linecap="butt"/><line x1="336.3" y1="296.6" x2="353.2" y2="296.6" stroke="#b9c296" stroke-width="1" stroke-linecap="butt"/><path d="M344.4,257.7 L347.4,262.9 L341.4,262.9 Z" fill="#a7ad86"/><path d="M339.2,291.1 L342.2,296.3 L336.2,296.3 Z" fill="#a7ad86"/><path d="M349.6,289.9 L352.6,295.1 L346.6,295.1 Z" fill="#a7ad86"/><path d="M344.5,305.1 L347.5,310.3 L341.5,310.3 Z" fill="#a7ad86"/><path d="M344.5,327.5 L347.5,332.7 L341.5,332.7 Z" fill="#a7ad86"/><circle cx="308" cy="364.6" r="2.2" fill="#d81b6a"/><rect x="306.2" y="372.6" width="3.6" height="3.6" fill="#34465a"/><path d="M308.0,382.2 L310.7,386.9 L305.3,386.9 Z" fill="#a7ad86"/><text x="313.2" y="366.9" font-size="5.6" fill="#262626" text-anchor="start" font-weight="normal" font-style="normal" textLength="23.8" lengthAdjust="spacingAndGlyphs" stroke="#262626" stroke-width="0.08">Myeloma</text><text x="313.2" y="376.8" font-size="5.6" fill="#262626" text-anchor="start" font-weight="normal" font-style="normal" textLength="16.2" lengthAdjust="spacingAndGlyphs" stroke="#262626" stroke-width="0.08">B-ALL</text><text x="313.2" y="387.2" font-size="5.6" fill="#262626" text-anchor="start" font-weight="normal" font-style="normal" textLength="13.2" lengthAdjust="spacingAndGlyphs" stroke="#262626" stroke-width="0.08">AML</text><text x="375.4" y="218.2" font-size="10.6" fill="#111" text-anchor="start" font-weight="bold" font-style="normal">D</text><line x1="402.8" y1="240.6" x2="402.8" y2="335.4" stroke="#262626" stroke-width="1.35" stroke-linecap="butt"/><line x1="401.2" y1="335.4" x2="405.2" y2="335.4" stroke="#262626" stroke-width="0.9" stroke-linecap="butt"/><line x1="402.8" y1="345" x2="402.8" y2="356.3" stroke="#262626" stroke-width="1.35" stroke-linecap="butt"/><line x1="401.2" y1="345" x2="405.2" y2="345" stroke="#262626" stroke-width="0.9" stroke-linecap="butt"/><line x1="402.2" y1="355.7" x2="514.8" y2="355.7" stroke="#262626" stroke-width="1.3" stroke-linecap="butt"/><line x1="400.1" y1="242.6" x2="402.7" y2="242.6" stroke="#262626" stroke-width="0.9" stroke-linecap="butt"/><text x="396.8" y="244.6" font-size="5.6" fill="#262626" text-anchor="end" font-weight="normal" font-style="normal" stroke="#262626" stroke-width="0.08">12</text><line x1="400.1" y1="265.9" x2="402.7" y2="265.9" stroke="#262626" stroke-width="0.9" stroke-linecap="butt"/><text x="396.8" y="267.9" font-size="5.6" fill="#262626" text-anchor="end" font-weight="normal" font-style="normal" stroke="#262626" stroke-width="0.08">10</text><line x1="400.1" y1="289.2" x2="402.7" y2="289.2" stroke="#262626" stroke-width="0.9" stroke-linecap="butt"/><text x="396.8" y="291.2" font-size="5.6" fill="#262626" text-anchor="end" font-weight="normal" font-style="normal" stroke="#262626" stroke-width="0.08">8</text><line x1="400.1" y1="312.6" x2="402.7" y2="312.6" stroke="#262626" stroke-width="0.9" stroke-linecap="butt"/><text x="396.8" y="314.6" font-size="5.6" fill="#262626" text-anchor="end" font-weight="normal" font-style="normal" stroke="#262626" stroke-width="0.08">6</text><text x="396.8" y="337.4" font-size="5.6" fill="#262626" text-anchor="end" font-weight="normal" font-style="normal" stroke="#262626" stroke-width="0.08">4</text><text x="396.8" y="347" font-size="5.6" fill="#262626" text-anchor="end" font-weight="normal" font-style="normal" stroke="#262626" stroke-width="0.08">4</text><line x1="400.1" y1="355.7" x2="402.7" y2="355.7" stroke="#262626" stroke-width="0.9" stroke-linecap="butt"/><text x="396.8" y="357.7" font-size="5.6" fill="#262626" text-anchor="end" font-weight="normal" font-style="normal" stroke="#262626" stroke-width="0.08">0</text><text transform="translate(382.8,293.0) rotate(-90)" x="0" y="2.23" font-size="6.2" fill="#222" stroke="#222" stroke-width="0.18" text-anchor="middle" font-weight="normal" font-style="normal" textLength="53.5" lengthAdjust="spacingAndGlyphs"><tspan font-style="italic">PTGER4</tspan> log expression</text><polyline points="421.4,232.89999999999998 421.4,230.7 445.4,230.7 445.4,232.89999999999998" fill="none" stroke="#333" stroke-width="0.9" stroke-linejoin="miter"/><text x="420.4" y="228.1" font-size="5.4" fill="#262626" stroke="#262626" stroke-width="0.08" textLength="25.8" lengthAdjust="spacingAndGlyphs"><tspan font-style="italic">P</tspan> &lt; .0001</text><polyline points="432.3,217.6 432.3,215.4 485.7,215.4 485.7,217.6" fill="none" stroke="#333" stroke-width="0.9" stroke-linejoin="miter"/><text x="445.7" y="213.5" font-size="5.4" fill="#262626" stroke="#262626" stroke-width="0.08" textLength="25.8" lengthAdjust="spacingAndGlyphs"><tspan font-style="italic">P</tspan> &lt; .0001</text><polyline points="446.1,244.39999999999998 446.1,242.2 470.5,242.2 470.5,244.39999999999998" fill="none" stroke="#333" stroke-width="0.9" stroke-linejoin="miter"/><text x="444.8" y="240.6" font-size="5.4" fill="#262626" stroke="#262626" stroke-width="0.08" textLength="25.8" lengthAdjust="spacingAndGlyphs"><tspan font-style="italic">P</tspan> &lt; .0001</text><circle cx="419.5" cy="257.2" r="1.1" fill="#f0960f"/><circle cx="419.6" cy="258.6" r="1.1" fill="#f0960f"/><circle cx="419.7" cy="260.2" r="1.1" fill="#f0960f"/><circle cx="419.7" cy="261.8" r="1.1" fill="#f0960f"/><circle cx="417.8" cy="263.4" r="1.1" fill="#f0960f"/><circle cx="419.6" cy="263.5" r="1.1" fill="#f0960f"/><circle cx="421.3" cy="263.4" r="1.1" fill="#f0960f"/><circle cx="417.1" cy="264.8" r="1.1" fill="#f0960f"/><circle cx="418.4" cy="265.0" r="1.1" fill="#f0960f"/><circle cx="420.5" cy="265.0" r="1.1" fill="#f0960f"/><circle cx="422.3" cy="264.7" r="1.1" fill="#f0960f"/><circle cx="416.1" cy="266.5" r="1.1" fill="#f0960f"/><circle cx="417.6" cy="266.1" r="1.1" fill="#f0960f"/><circle cx="419.7" cy="266.3" r="1.1" fill="#f0960f"/><circle cx="421.1" cy="266.3" r="1.1" fill="#f0960f"/><circle cx="422.8" cy="266.3" r="1.1" fill="#f0960f"/><circle cx="417.2" cy="267.9" r="1.1" fill="#f0960f"/><circle cx="418.8" cy="268.0" r="1.1" fill="#f0960f"/><circle cx="420.2" cy="268.0" r="1.1" fill="#f0960f"/><circle cx="422.3" cy="267.8" r="1.1" fill="#f0960f"/><circle cx="416.0" cy="269.5" r="1.1" fill="#f0960f"/><circle cx="417.7" cy="269.1" r="1.1" fill="#f0960f"/><circle cx="419.7" cy="269.1" r="1.1" fill="#f0960f"/><circle cx="421.2" cy="269.1" r="1.1" fill="#f0960f"/><circle cx="423.0" cy="269.5" r="1.1" fill="#f0960f"/><circle cx="417.0" cy="270.6" r="1.1" fill="#f0960f"/><circle cx="418.6" cy="271.0" r="1.1" fill="#f0960f"/><circle cx="422.3" cy="270.7" r="1.1" fill="#f0960f"/><circle cx="412.7" cy="272.1" r="1.1" fill="#f0960f"/><circle cx="414.4" cy="272.4" r="1.1" fill="#f0960f"/><circle cx="415.9" cy="272.5" r="1.1" fill="#f0960f"/><circle cx="418.0" cy="272.5" r="1.1" fill="#f0960f"/><circle cx="419.5" cy="272.3" r="1.1" fill="#f0960f"/><circle cx="421.2" cy="272.3" r="1.1" fill="#f0960f"/><circle cx="423.1" cy="272.3" r="1.1" fill="#f0960f"/><circle cx="424.7" cy="272.2" r="1.1" fill="#f0960f"/><circle cx="426.5" cy="272.3" r="1.1" fill="#f0960f"/><circle cx="411.6" cy="273.8" r="1.1" fill="#f0960f"/><circle cx="413.3" cy="273.9" r="1.1" fill="#f0960f"/><circle cx="415.0" cy="273.9" r="1.1" fill="#f0960f"/><circle cx="417.0" cy="273.7" r="1.1" fill="#f0960f"/><circle cx="418.8" cy="273.6" r="1.1" fill="#f0960f"/><circle cx="420.4" cy="274.0" r="1.1" fill="#f0960f"/><circle cx="422.0" cy="273.8" r="1.1" fill="#f0960f"/><circle cx="423.7" cy="273.7" r="1.1" fill="#f0960f"/><circle cx="425.5" cy="273.7" r="1.1" fill="#f0960f"/><circle cx="427.3" cy="273.6" r="1.1" fill="#f0960f"/><circle cx="412.8" cy="275.2" r="1.1" fill="#f0960f"/><circle cx="414.6" cy="275.2" r="1.1" fill="#f0960f"/><circle cx="416.1" cy="275.4" r="1.1" fill="#f0960f"/><circle cx="417.7" cy="275.2" r="1.1" fill="#f0960f"/><circle cx="419.5" cy="275.5" r="1.1" fill="#f0960f"/><circle cx="421.1" cy="275.4" r="1.1" fill="#f0960f"/><circle cx="422.9" cy="275.2" r="1.1" fill="#f0960f"/><circle cx="424.6" cy="275.1" r="1.1" fill="#f0960f"/><circle cx="426.5" cy="275.1" r="1.1" fill="#f0960f"/><circle cx="413.7" cy="276.9" r="1.1" fill="#f0960f"/><circle cx="415.2" cy="276.6" r="1.1" fill="#f0960f"/><circle cx="417.1" cy="276.7" r="1.1" fill="#f0960f"/><circle cx="418.6" cy="276.8" r="1.1" fill="#f0960f"/><circle cx="420.6" cy="276.6" r="1.1" fill="#f0960f"/><circle cx="422.3" cy="277.0" r="1.1" fill="#f0960f"/><circle cx="425.7" cy="277.0" r="1.1" fill="#f0960f"/><circle cx="416.2" cy="278.5" r="1.1" fill="#f0960f"/><circle cx="417.8" cy="278.2" r="1.1" fill="#f0960f"/><circle cx="419.4" cy="278.1" r="1.1" fill="#f0960f"/><circle cx="421.1" cy="278.5" r="1.1" fill="#f0960f"/><circle cx="423.1" cy="278.4" r="1.1" fill="#f0960f"/><circle cx="415.4" cy="280.0" r="1.1" fill="#f0960f"/><circle cx="416.7" cy="279.9" r="1.1" fill="#f0960f"/><circle cx="418.5" cy="279.9" r="1.1" fill="#f0960f"/><circle cx="420.3" cy="280.0" r="1.1" fill="#f0960f"/><circle cx="422.0" cy="279.7" r="1.1" fill="#f0960f"/><circle cx="423.7" cy="279.9" r="1.1" fill="#f0960f"/><circle cx="415.9" cy="281.3" r="1.1" fill="#f0960f"/><circle cx="417.6" cy="281.4" r="1.1" fill="#f0960f"/><circle cx="419.7" cy="281.5" r="1.1" fill="#f0960f"/><circle cx="421.3" cy="281.5" r="1.1" fill="#f0960f"/><circle cx="422.8" cy="281.2" r="1.1" fill="#f0960f"/><circle cx="418.6" cy="282.8" r="1.1" fill="#f0960f"/><circle cx="420.1" cy="282.6" r="1.1" fill="#f0960f"/><circle cx="419.3" cy="284.1" r="1.1" fill="#f0960f"/><circle cx="420.1" cy="285.8" r="1.1" fill="#f0960f"/><circle cx="419.8" cy="289.4" r="1.1" fill="#f0960f"/><circle cx="419.6" cy="318.6" r="1.1" fill="#f0960f"/><circle cx="444.9" cy="250.3" r="1.0" fill="#2aa2da"/><circle cx="445.0" cy="251.8" r="1.0" fill="#2aa2da"/><circle cx="444.9" cy="253.2" r="1.0" fill="#2aa2da"/><circle cx="444.3" cy="254.8" r="1.0" fill="#2aa2da"/><circle cx="445.7" cy="254.8" r="1.0" fill="#2aa2da"/><circle cx="445.1" cy="256.3" r="1.0" fill="#2aa2da"/><circle cx="444.1" cy="257.8" r="1.0" fill="#2aa2da"/><circle cx="446.0" cy="257.9" r="1.0" fill="#2aa2da"/><circle cx="447.5" cy="257.8" r="1.0" fill="#2aa2da"/><circle cx="441.7" cy="259.2" r="1.0" fill="#2aa2da"/><circle cx="443.3" cy="259.6" r="1.0" fill="#2aa2da"/><circle cx="446.9" cy="259.5" r="1.0" fill="#2aa2da"/><circle cx="448.4" cy="259.2" r="1.0" fill="#2aa2da"/><circle cx="442.6" cy="261.0" r="1.0" fill="#2aa2da"/><circle cx="444.3" cy="260.9" r="1.0" fill="#2aa2da"/><circle cx="445.9" cy="260.7" r="1.0" fill="#2aa2da"/><circle cx="447.7" cy="260.7" r="1.0" fill="#2aa2da"/><circle cx="449.0" cy="261.1" r="1.0" fill="#2aa2da"/><circle cx="441.4" cy="262.6" r="1.0" fill="#2aa2da"/><circle cx="443.5" cy="262.5" r="1.0" fill="#2aa2da"/><circle cx="448.5" cy="262.2" r="1.0" fill="#2aa2da"/><circle cx="440.8" cy="264.0" r="1.0" fill="#2aa2da"/><circle cx="442.6" cy="264.1" r="1.0" fill="#2aa2da"/><circle cx="444.1" cy="263.9" r="1.0" fill="#2aa2da"/><circle cx="447.4" cy="263.8" r="1.0" fill="#2aa2da"/><circle cx="449.4" cy="263.8" r="1.0" fill="#2aa2da"/><circle cx="441.5" cy="265.3" r="1.0" fill="#2aa2da"/><circle cx="443.1" cy="265.4" r="1.0" fill="#2aa2da"/><circle cx="446.8" cy="265.2" r="1.0" fill="#2aa2da"/><circle cx="448.5" cy="265.5" r="1.0" fill="#2aa2da"/><circle cx="440.7" cy="267.0" r="1.0" fill="#2aa2da"/><circle cx="443.9" cy="267.0" r="1.0" fill="#2aa2da"/><circle cx="447.5" cy="267.0" r="1.0" fill="#2aa2da"/><circle cx="449.1" cy="266.7" r="1.0" fill="#2aa2da"/><circle cx="441.5" cy="268.3" r="1.0" fill="#2aa2da"/><circle cx="443.5" cy="268.3" r="1.0" fill="#2aa2da"/><circle cx="445.0" cy="268.6" r="1.0" fill="#2aa2da"/><circle cx="446.6" cy="268.3" r="1.0" fill="#2aa2da"/><circle cx="448.4" cy="268.3" r="1.0" fill="#2aa2da"/><circle cx="440.7" cy="269.8" r="1.0" fill="#2aa2da"/><circle cx="442.3" cy="270.1" r="1.0" fill="#2aa2da"/><circle cx="444.2" cy="269.9" r="1.0" fill="#2aa2da"/><circle cx="449.2" cy="270.0" r="1.0" fill="#2aa2da"/><circle cx="441.7" cy="271.6" r="1.0" fill="#2aa2da"/><circle cx="443.2" cy="271.3" r="1.0" fill="#2aa2da"/><circle cx="445.1" cy="271.6" r="1.0" fill="#2aa2da"/><circle cx="448.2" cy="271.3" r="1.0" fill="#2aa2da"/><circle cx="450.2" cy="271.6" r="1.0" fill="#2aa2da"/><circle cx="440.9" cy="272.8" r="1.0" fill="#2aa2da"/><circle cx="442.6" cy="272.7" r="1.0" fill="#2aa2da"/><circle cx="444.3" cy="272.8" r="1.0" fill="#2aa2da"/><circle cx="445.9" cy="273.0" r="1.0" fill="#2aa2da"/><circle cx="447.5" cy="272.9" r="1.0" fill="#2aa2da"/><circle cx="449.1" cy="272.9" r="1.0" fill="#2aa2da"/><circle cx="439.9" cy="274.2" r="1.0" fill="#2aa2da"/><circle cx="441.7" cy="274.2" r="1.0" fill="#2aa2da"/><circle cx="446.9" cy="274.3" r="1.0" fill="#2aa2da"/><circle cx="448.5" cy="274.3" r="1.0" fill="#2aa2da"/><circle cx="450.2" cy="274.6" r="1.0" fill="#2aa2da"/><circle cx="439.2" cy="276.1" r="1.0" fill="#2aa2da"/><circle cx="440.8" cy="275.7" r="1.0" fill="#2aa2da"/><circle cx="442.4" cy="276.0" r="1.0" fill="#2aa2da"/><circle cx="444.2" cy="275.7" r="1.0" fill="#2aa2da"/><circle cx="445.9" cy="275.7" r="1.0" fill="#2aa2da"/><circle cx="449.1" cy="276.1" r="1.0" fill="#2aa2da"/><circle cx="450.9" cy="276.0" r="1.0" fill="#2aa2da"/><circle cx="441.6" cy="277.5" r="1.0" fill="#2aa2da"/><circle cx="443.2" cy="277.2" r="1.0" fill="#2aa2da"/><circle cx="445.1" cy="277.5" r="1.0" fill="#2aa2da"/><circle cx="446.8" cy="277.3" r="1.0" fill="#2aa2da"/><circle cx="448.3" cy="277.6" r="1.0" fill="#2aa2da"/><circle cx="440.8" cy="278.8" r="1.0" fill="#2aa2da"/><circle cx="442.4" cy="278.8" r="1.0" fill="#2aa2da"/><circle cx="444.2" cy="279.0" r="1.0" fill="#2aa2da"/><circle cx="446.0" cy="278.7" r="1.0" fill="#2aa2da"/><circle cx="447.3" cy="278.7" r="1.0" fill="#2aa2da"/><circle cx="449.4" cy="278.7" r="1.0" fill="#2aa2da"/><circle cx="438.2" cy="280.5" r="1.0" fill="#2aa2da"/><circle cx="441.6" cy="280.2" r="1.0" fill="#2aa2da"/><circle cx="443.1" cy="280.4" r="1.0" fill="#2aa2da"/><circle cx="444.9" cy="280.3" r="1.0" fill="#2aa2da"/><circle cx="446.5" cy="280.6" r="1.0" fill="#2aa2da"/><circle cx="451.8" cy="280.4" r="1.0" fill="#2aa2da"/><circle cx="439.3" cy="282.0" r="1.0" fill="#2aa2da"/><circle cx="440.9" cy="281.9" r="1.0" fill="#2aa2da"/><circle cx="442.6" cy="281.7" r="1.0" fill="#2aa2da"/><circle cx="444.2" cy="281.9" r="1.0" fill="#2aa2da"/><circle cx="445.8" cy="281.7" r="1.0" fill="#2aa2da"/><circle cx="447.3" cy="281.9" r="1.0" fill="#2aa2da"/><circle cx="449.2" cy="281.9" r="1.0" fill="#2aa2da"/><circle cx="440.0" cy="283.5" r="1.0" fill="#2aa2da"/><circle cx="441.5" cy="283.3" r="1.0" fill="#2aa2da"/><circle cx="443.3" cy="283.6" r="1.0" fill="#2aa2da"/><circle cx="445.2" cy="283.5" r="1.0" fill="#2aa2da"/><circle cx="446.9" cy="283.5" r="1.0" fill="#2aa2da"/><circle cx="450.2" cy="283.3" r="1.0" fill="#2aa2da"/><circle cx="440.9" cy="284.9" r="1.0" fill="#2aa2da"/><circle cx="442.2" cy="284.7" r="1.0" fill="#2aa2da"/><circle cx="444.0" cy="284.9" r="1.0" fill="#2aa2da"/><circle cx="445.9" cy="284.9" r="1.0" fill="#2aa2da"/><circle cx="447.5" cy="284.9" r="1.0" fill="#2aa2da"/><circle cx="449.2" cy="284.7" r="1.0" fill="#2aa2da"/><circle cx="452.6" cy="284.8" r="1.0" fill="#2aa2da"/><circle cx="438.2" cy="286.3" r="1.0" fill="#2aa2da"/><circle cx="439.8" cy="286.5" r="1.0" fill="#2aa2da"/><circle cx="441.6" cy="286.2" r="1.0" fill="#2aa2da"/><circle cx="443.1" cy="286.4" r="1.0" fill="#2aa2da"/><circle cx="444.8" cy="286.2" r="1.0" fill="#2aa2da"/><circle cx="446.7" cy="286.2" r="1.0" fill="#2aa2da"/><circle cx="448.4" cy="286.4" r="1.0" fill="#2aa2da"/><circle cx="449.9" cy="286.4" r="1.0" fill="#2aa2da"/><circle cx="451.6" cy="286.6" r="1.0" fill="#2aa2da"/><circle cx="438.8" cy="287.9" r="1.0" fill="#2aa2da"/><circle cx="440.8" cy="287.8" r="1.0" fill="#2aa2da"/><circle cx="442.2" cy="288.0" r="1.0" fill="#2aa2da"/><circle cx="444.3" cy="287.9" r="1.0" fill="#2aa2da"/><circle cx="447.4" cy="287.8" r="1.0" fill="#2aa2da"/><circle cx="450.9" cy="287.7" r="1.0" fill="#2aa2da"/><circle cx="440.1" cy="289.4" r="1.0" fill="#2aa2da"/><circle cx="441.4" cy="289.2" r="1.0" fill="#2aa2da"/><circle cx="443.1" cy="289.2" r="1.0" fill="#2aa2da"/><circle cx="445.2" cy="289.3" r="1.0" fill="#2aa2da"/><circle cx="448.6" cy="289.6" r="1.0" fill="#2aa2da"/><circle cx="440.7" cy="291.0" r="1.0" fill="#2aa2da"/><circle cx="444.0" cy="291.1" r="1.0" fill="#2aa2da"/><circle cx="445.8" cy="290.8" r="1.0" fill="#2aa2da"/><circle cx="447.8" cy="290.7" r="1.0" fill="#2aa2da"/><circle cx="449.4" cy="291.1" r="1.0" fill="#2aa2da"/><circle cx="441.8" cy="292.3" r="1.0" fill="#2aa2da"/><circle cx="443.2" cy="292.5" r="1.0" fill="#2aa2da"/><circle cx="444.9" cy="292.2" r="1.0" fill="#2aa2da"/><circle cx="446.8" cy="292.5" r="1.0" fill="#2aa2da"/><circle cx="448.4" cy="292.2" r="1.0" fill="#2aa2da"/><circle cx="442.2" cy="293.9" r="1.0" fill="#2aa2da"/><circle cx="444.2" cy="293.7" r="1.0" fill="#2aa2da"/><circle cx="446.0" cy="294.0" r="1.0" fill="#2aa2da"/><circle cx="443.5" cy="295.5" r="1.0" fill="#2aa2da"/><circle cx="444.9" cy="295.2" r="1.0" fill="#2aa2da"/><circle cx="446.9" cy="295.2" r="1.0" fill="#2aa2da"/><circle cx="448.2" cy="295.2" r="1.0" fill="#2aa2da"/><circle cx="442.3" cy="296.7" r="1.0" fill="#2aa2da"/><circle cx="444.2" cy="296.9" r="1.0" fill="#2aa2da"/><circle cx="445.7" cy="297.1" r="1.0" fill="#2aa2da"/><circle cx="447.6" cy="296.9" r="1.0" fill="#2aa2da"/><circle cx="444.0" cy="299.7" r="1.0" fill="#2aa2da"/><circle cx="446.0" cy="299.7" r="1.0" fill="#2aa2da"/><circle cx="443.5" cy="301.2" r="1.0" fill="#2aa2da"/><circle cx="446.7" cy="301.3" r="1.0" fill="#2aa2da"/><circle cx="443.4" cy="304.4" r="1.0" fill="#2aa2da"/><circle cx="445.2" cy="304.4" r="1.0" fill="#2aa2da"/><circle cx="448.4" cy="304.4" r="1.0" fill="#2aa2da"/><circle cx="442.4" cy="305.9" r="1.0" fill="#2aa2da"/><circle cx="444.2" cy="306.0" r="1.0" fill="#2aa2da"/><circle cx="445.9" cy="306.0" r="1.0" fill="#2aa2da"/><circle cx="447.5" cy="306.1" r="1.0" fill="#2aa2da"/><circle cx="449.2" cy="305.7" r="1.0" fill="#2aa2da"/><circle cx="441.4" cy="307.6" r="1.0" fill="#2aa2da"/><circle cx="444.1" cy="309.1" r="1.0" fill="#2aa2da"/><circle cx="443.4" cy="310.4" r="1.0" fill="#2aa2da"/><circle cx="444.4" cy="311.7" r="1.0" fill="#2aa2da"/><circle cx="446.0" cy="311.8" r="1.0" fill="#2aa2da"/><circle cx="443.4" cy="313.2" r="1.0" fill="#2aa2da"/><circle cx="446.7" cy="313.3" r="1.0" fill="#2aa2da"/><circle cx="443.1" cy="316.3" r="1.0" fill="#2aa2da"/><circle cx="444.8" cy="316.2" r="1.0" fill="#2aa2da"/><circle cx="445.7" cy="320.8" r="1.0" fill="#2aa2da"/><circle cx="444.8" cy="333.5" r="1.0" fill="#2aa2da"/><circle cx="443.8" cy="345.4" r="1.0" fill="#2aa2da"/><circle cx="445.4" cy="347.2" r="1.0" fill="#2aa2da"/><circle cx="444.4" cy="348.2" r="1.0" fill="#2aa2da"/><circle cx="469.1" cy="252.5" r="1.0" fill="#0f6046"/><circle cx="471.0" cy="252.4" r="1.0" fill="#0f6046"/><circle cx="472.7" cy="252.7" r="1.0" fill="#0f6046"/><circle cx="466.4" cy="254.2" r="1.0" fill="#0f6046"/><circle cx="468.1" cy="254.0" r="1.0" fill="#0f6046"/><circle cx="469.8" cy="253.8" r="1.0" fill="#0f6046"/><circle cx="471.8" cy="254.0" r="1.0" fill="#0f6046"/><circle cx="475.3" cy="253.8" r="1.0" fill="#0f6046"/><circle cx="465.5" cy="255.5" r="1.0" fill="#0f6046"/><circle cx="467.2" cy="255.5" r="1.0" fill="#0f6046"/><circle cx="469.0" cy="255.4" r="1.0" fill="#0f6046"/><circle cx="470.8" cy="255.4" r="1.0" fill="#0f6046"/><circle cx="472.5" cy="255.6" r="1.0" fill="#0f6046"/><circle cx="474.4" cy="255.7" r="1.0" fill="#0f6046"/><circle cx="475.7" cy="255.6" r="1.0" fill="#0f6046"/><circle cx="463.2" cy="257.2" r="1.0" fill="#0f6046"/><circle cx="464.7" cy="256.8" r="1.0" fill="#0f6046"/><circle cx="466.6" cy="257.2" r="1.0" fill="#0f6046"/><circle cx="468.2" cy="257.1" r="1.0" fill="#0f6046"/><circle cx="471.7" cy="257.0" r="1.0" fill="#0f6046"/><circle cx="473.2" cy="256.8" r="1.0" fill="#0f6046"/><circle cx="475.3" cy="257.0" r="1.0" fill="#0f6046"/><circle cx="476.7" cy="257.0" r="1.0" fill="#0f6046"/><circle cx="478.4" cy="257.2" r="1.0" fill="#0f6046"/><circle cx="463.9" cy="258.5" r="1.0" fill="#0f6046"/><circle cx="465.9" cy="258.7" r="1.0" fill="#0f6046"/><circle cx="468.9" cy="258.5" r="1.0" fill="#0f6046"/><circle cx="470.8" cy="258.4" r="1.0" fill="#0f6046"/><circle cx="472.7" cy="258.3" r="1.0" fill="#0f6046"/><circle cx="474.1" cy="258.5" r="1.0" fill="#0f6046"/><circle cx="476.1" cy="258.6" r="1.0" fill="#0f6046"/><circle cx="477.8" cy="258.3" r="1.0" fill="#0f6046"/><circle cx="463.3" cy="259.9" r="1.0" fill="#0f6046"/><circle cx="465.1" cy="260.2" r="1.0" fill="#0f6046"/><circle cx="466.5" cy="259.9" r="1.0" fill="#0f6046"/><circle cx="468.1" cy="260.2" r="1.0" fill="#0f6046"/><circle cx="469.8" cy="259.8" r="1.0" fill="#0f6046"/><circle cx="471.7" cy="260.1" r="1.0" fill="#0f6046"/><circle cx="473.4" cy="260.2" r="1.0" fill="#0f6046"/><circle cx="474.9" cy="260.2" r="1.0" fill="#0f6046"/><circle cx="476.6" cy="260.0" r="1.0" fill="#0f6046"/><circle cx="478.5" cy="259.8" r="1.0" fill="#0f6046"/><circle cx="464.2" cy="261.3" r="1.0" fill="#0f6046"/><circle cx="465.5" cy="261.7" r="1.0" fill="#0f6046"/><circle cx="467.5" cy="261.3" r="1.0" fill="#0f6046"/><circle cx="469.2" cy="261.3" r="1.0" fill="#0f6046"/><circle cx="471.0" cy="261.7" r="1.0" fill="#0f6046"/><circle cx="472.7" cy="261.5" r="1.0" fill="#0f6046"/><circle cx="474.0" cy="261.4" r="1.0" fill="#0f6046"/><circle cx="477.4" cy="261.3" r="1.0" fill="#0f6046"/><circle cx="463.1" cy="263.2" r="1.0" fill="#0f6046"/><circle cx="464.7" cy="263.2" r="1.0" fill="#0f6046"/><circle cx="469.9" cy="263.2" r="1.0" fill="#0f6046"/><circle cx="471.8" cy="262.9" r="1.0" fill="#0f6046"/><circle cx="473.3" cy="263.1" r="1.0" fill="#0f6046"/><circle cx="475.1" cy="263.0" r="1.0" fill="#0f6046"/><circle cx="476.7" cy="263.0" r="1.0" fill="#0f6046"/><circle cx="478.3" cy="263.0" r="1.0" fill="#0f6046"/><circle cx="465.5" cy="264.7" r="1.0" fill="#0f6046"/><circle cx="467.2" cy="264.4" r="1.0" fill="#0f6046"/><circle cx="468.9" cy="264.7" r="1.0" fill="#0f6046"/><circle cx="471.0" cy="264.3" r="1.0" fill="#0f6046"/><circle cx="472.7" cy="264.6" r="1.0" fill="#0f6046"/><circle cx="475.9" cy="264.6" r="1.0" fill="#0f6046"/><circle cx="477.6" cy="264.5" r="1.0" fill="#0f6046"/><circle cx="464.9" cy="265.9" r="1.0" fill="#0f6046"/><circle cx="466.5" cy="265.9" r="1.0" fill="#0f6046"/><circle cx="468.3" cy="266.2" r="1.0" fill="#0f6046"/><circle cx="471.8" cy="265.9" r="1.0" fill="#0f6046"/><circle cx="474.9" cy="266.0" r="1.0" fill="#0f6046"/><circle cx="476.7" cy="266.1" r="1.0" fill="#0f6046"/><circle cx="464.2" cy="267.5" r="1.0" fill="#0f6046"/><circle cx="465.7" cy="267.7" r="1.0" fill="#0f6046"/><circle cx="469.1" cy="267.6" r="1.0" fill="#0f6046"/><circle cx="470.8" cy="267.7" r="1.0" fill="#0f6046"/><circle cx="472.3" cy="267.7" r="1.0" fill="#0f6046"/><circle cx="474.4" cy="267.4" r="1.0" fill="#0f6046"/><circle cx="475.9" cy="267.7" r="1.0" fill="#0f6046"/><circle cx="477.8" cy="267.6" r="1.0" fill="#0f6046"/><circle cx="464.8" cy="269.0" r="1.0" fill="#0f6046"/><circle cx="466.5" cy="269.1" r="1.0" fill="#0f6046"/><circle cx="468.3" cy="268.8" r="1.0" fill="#0f6046"/><circle cx="469.9" cy="269.1" r="1.0" fill="#0f6046"/><circle cx="471.4" cy="268.9" r="1.0" fill="#0f6046"/><circle cx="473.1" cy="269.0" r="1.0" fill="#0f6046"/><circle cx="476.9" cy="269.2" r="1.0" fill="#0f6046"/><circle cx="465.9" cy="270.5" r="1.0" fill="#0f6046"/><circle cx="467.2" cy="270.7" r="1.0" fill="#0f6046"/><circle cx="469.1" cy="270.7" r="1.0" fill="#0f6046"/><circle cx="470.6" cy="270.7" r="1.0" fill="#0f6046"/><circle cx="472.3" cy="270.3" r="1.0" fill="#0f6046"/><circle cx="474.0" cy="270.7" r="1.0" fill="#0f6046"/><circle cx="475.8" cy="270.4" r="1.0" fill="#0f6046"/><circle cx="466.5" cy="272.1" r="1.0" fill="#0f6046"/><circle cx="468.2" cy="271.8" r="1.0" fill="#0f6046"/><circle cx="471.4" cy="272.0" r="1.0" fill="#0f6046"/><circle cx="473.6" cy="271.8" r="1.0" fill="#0f6046"/><circle cx="475.0" cy="272.0" r="1.0" fill="#0f6046"/><circle cx="467.6" cy="273.4" r="1.0" fill="#0f6046"/><circle cx="469.1" cy="273.7" r="1.0" fill="#0f6046"/><circle cx="470.7" cy="273.3" r="1.0" fill="#0f6046"/><circle cx="472.3" cy="273.7" r="1.0" fill="#0f6046"/><circle cx="474.2" cy="273.3" r="1.0" fill="#0f6046"/><circle cx="468.2" cy="275.2" r="1.0" fill="#0f6046"/><circle cx="471.9" cy="275.1" r="1.0" fill="#0f6046"/><circle cx="467.3" cy="276.7" r="1.0" fill="#0f6046"/><circle cx="469.1" cy="276.6" r="1.0" fill="#0f6046"/><circle cx="470.9" cy="276.7" r="1.0" fill="#0f6046"/><circle cx="468.0" cy="278.0" r="1.0" fill="#0f6046"/><circle cx="469.8" cy="278.2" r="1.0" fill="#0f6046"/><circle cx="471.8" cy="278.2" r="1.0" fill="#0f6046"/><circle cx="473.6" cy="277.9" r="1.0" fill="#0f6046"/><circle cx="468.9" cy="279.3" r="1.0" fill="#0f6046"/><circle cx="470.7" cy="279.7" r="1.0" fill="#0f6046"/><circle cx="468.2" cy="280.9" r="1.0" fill="#0f6046"/><circle cx="469.8" cy="280.9" r="1.0" fill="#0f6046"/><circle cx="473.2" cy="280.9" r="1.0" fill="#0f6046"/><circle cx="469.1" cy="282.4" r="1.0" fill="#0f6046"/><circle cx="472.6" cy="282.6" r="1.0" fill="#0f6046"/><circle cx="468.4" cy="283.9" r="1.0" fill="#0f6046"/><circle cx="468.9" cy="285.6" r="1.0" fill="#0f6046"/><circle cx="472.5" cy="285.4" r="1.0" fill="#0f6046"/><circle cx="471.8" cy="287.2" r="1.0" fill="#0f6046"/><circle cx="473.6" cy="287.0" r="1.0" fill="#0f6046"/><circle cx="469.2" cy="288.4" r="1.0" fill="#0f6046"/><circle cx="470.0" cy="290.2" r="1.0" fill="#0f6046"/><circle cx="471.7" cy="290.2" r="1.0" fill="#0f6046"/><circle cx="469.1" cy="291.5" r="1.0" fill="#0f6046"/><circle cx="472.3" cy="291.6" r="1.0" fill="#0f6046"/><circle cx="471.8" cy="293.2" r="1.0" fill="#0f6046"/><circle cx="471.4" cy="296.1" r="1.0" fill="#0f6046"/><circle cx="419.4" cy="267.2" r="3.8" fill="#f0960f"/><circle cx="496.3" cy="254.5" r="0.95" fill="#8b80c4"/><circle cx="496.3" cy="256.2" r="0.95" fill="#8b80c4"/><circle cx="494.5" cy="257.5" r="0.95" fill="#8b80c4"/><circle cx="496.3" cy="257.8" r="0.95" fill="#8b80c4"/><circle cx="498.1" cy="257.5" r="0.95" fill="#8b80c4"/><circle cx="493.7" cy="259.1" r="0.95" fill="#8b80c4"/><circle cx="495.5" cy="259.2" r="0.95" fill="#8b80c4"/><circle cx="497.1" cy="259.1" r="0.95" fill="#8b80c4"/><circle cx="499.3" cy="259.5" r="0.95" fill="#8b80c4"/><circle cx="494.5" cy="260.7" r="0.95" fill="#8b80c4"/><circle cx="496.3" cy="261.1" r="0.95" fill="#8b80c4"/><circle cx="498.4" cy="260.9" r="0.95" fill="#8b80c4"/><circle cx="493.6" cy="262.7" r="0.95" fill="#8b80c4"/><circle cx="495.5" cy="262.5" r="0.95" fill="#8b80c4"/><circle cx="497.2" cy="262.7" r="0.95" fill="#8b80c4"/><circle cx="499.2" cy="262.7" r="0.95" fill="#8b80c4"/><circle cx="492.9" cy="264.2" r="0.95" fill="#8b80c4"/><circle cx="494.6" cy="264.3" r="0.95" fill="#8b80c4"/><circle cx="496.5" cy="263.9" r="0.95" fill="#8b80c4"/><circle cx="498.1" cy="264.1" r="0.95" fill="#8b80c4"/><circle cx="500.2" cy="264.2" r="0.95" fill="#8b80c4"/><circle cx="493.8" cy="265.7" r="0.95" fill="#8b80c4"/><circle cx="497.3" cy="265.7" r="0.95" fill="#8b80c4"/><circle cx="498.9" cy="265.5" r="0.95" fill="#8b80c4"/><circle cx="492.7" cy="267.4" r="0.95" fill="#8b80c4"/><circle cx="494.8" cy="267.5" r="0.95" fill="#8b80c4"/><circle cx="496.3" cy="267.1" r="0.95" fill="#8b80c4"/><circle cx="498.3" cy="267.5" r="0.95" fill="#8b80c4"/><circle cx="499.8" cy="267.5" r="0.95" fill="#8b80c4"/><circle cx="491.9" cy="269.0" r="0.95" fill="#8b80c4"/><circle cx="493.7" cy="269.0" r="0.95" fill="#8b80c4"/><circle cx="495.3" cy="268.7" r="0.95" fill="#8b80c4"/><circle cx="497.5" cy="268.7" r="0.95" fill="#8b80c4"/><circle cx="498.9" cy="269.0" r="0.95" fill="#8b80c4"/><circle cx="500.9" cy="269.1" r="0.95" fill="#8b80c4"/><circle cx="490.9" cy="270.6" r="0.95" fill="#8b80c4"/><circle cx="492.7" cy="270.6" r="0.95" fill="#8b80c4"/><circle cx="494.4" cy="270.5" r="0.95" fill="#8b80c4"/><circle cx="496.6" cy="270.3" r="0.95" fill="#8b80c4"/><circle cx="500.2" cy="270.5" r="0.95" fill="#8b80c4"/><circle cx="501.7" cy="270.4" r="0.95" fill="#8b80c4"/><circle cx="490.3" cy="272.0" r="0.95" fill="#8b80c4"/><circle cx="491.9" cy="271.9" r="0.95" fill="#8b80c4"/><circle cx="493.7" cy="272.1" r="0.95" fill="#8b80c4"/><circle cx="495.4" cy="271.9" r="0.95" fill="#8b80c4"/><circle cx="497.2" cy="271.9" r="0.95" fill="#8b80c4"/><circle cx="499.0" cy="272.2" r="0.95" fill="#8b80c4"/><circle cx="501.0" cy="272.2" r="0.95" fill="#8b80c4"/><circle cx="502.7" cy="272.0" r="0.95" fill="#8b80c4"/><circle cx="491.1" cy="273.7" r="0.95" fill="#8b80c4"/><circle cx="493.0" cy="273.7" r="0.95" fill="#8b80c4"/><circle cx="494.6" cy="273.5" r="0.95" fill="#8b80c4"/><circle cx="498.1" cy="273.9" r="0.95" fill="#8b80c4"/><circle cx="500.0" cy="273.7" r="0.95" fill="#8b80c4"/><circle cx="502.0" cy="273.7" r="0.95" fill="#8b80c4"/><circle cx="491.9" cy="275.1" r="0.95" fill="#8b80c4"/><circle cx="493.9" cy="275.5" r="0.95" fill="#8b80c4"/><circle cx="495.6" cy="275.2" r="0.95" fill="#8b80c4"/><circle cx="497.2" cy="275.2" r="0.95" fill="#8b80c4"/><circle cx="499.2" cy="275.1" r="0.95" fill="#8b80c4"/><circle cx="493.0" cy="276.7" r="0.95" fill="#8b80c4"/><circle cx="494.7" cy="276.9" r="0.95" fill="#8b80c4"/><circle cx="496.4" cy="277.0" r="0.95" fill="#8b80c4"/><circle cx="498.3" cy="276.9" r="0.95" fill="#8b80c4"/><circle cx="493.5" cy="278.6" r="0.95" fill="#8b80c4"/><circle cx="497.4" cy="278.5" r="0.95" fill="#8b80c4"/><circle cx="499.1" cy="278.6" r="0.95" fill="#8b80c4"/><circle cx="492.7" cy="280.2" r="0.95" fill="#8b80c4"/><circle cx="494.6" cy="280.0" r="0.95" fill="#8b80c4"/><circle cx="496.5" cy="280.2" r="0.95" fill="#8b80c4"/><circle cx="499.9" cy="280.0" r="0.95" fill="#8b80c4"/><circle cx="493.6" cy="281.7" r="0.95" fill="#8b80c4"/><circle cx="495.4" cy="281.5" r="0.95" fill="#8b80c4"/><circle cx="497.1" cy="281.7" r="0.95" fill="#8b80c4"/><circle cx="499.3" cy="281.7" r="0.95" fill="#8b80c4"/><circle cx="494.6" cy="283.1" r="0.95" fill="#8b80c4"/><circle cx="496.5" cy="283.2" r="0.95" fill="#8b80c4"/><circle cx="498.1" cy="283.2" r="0.95" fill="#8b80c4"/><circle cx="493.5" cy="285.0" r="0.95" fill="#8b80c4"/><circle cx="495.6" cy="284.7" r="0.95" fill="#8b80c4"/><circle cx="497.3" cy="284.8" r="0.95" fill="#8b80c4"/><circle cx="499.1" cy="284.8" r="0.95" fill="#8b80c4"/><circle cx="494.7" cy="286.6" r="0.95" fill="#8b80c4"/><circle cx="498.4" cy="286.7" r="0.95" fill="#8b80c4"/><circle cx="495.7" cy="287.9" r="0.95" fill="#8b80c4"/><circle cx="497.5" cy="287.9" r="0.95" fill="#8b80c4"/><circle cx="496.5" cy="293.8" r="0.95" fill="#8b80c4"/><circle cx="496.5" cy="310.9" r="0.95" fill="#8b80c4"/><circle cx="423.8" cy="364.7" r="2.4" fill="#f0960f"/><text x="428.6" y="366.8" font-size="6.0" fill="#262626" text-anchor="start" font-weight="normal" font-style="normal" textLength="57.1" lengthAdjust="spacingAndGlyphs" stroke="#262626" stroke-width="0.08">Healthy bone marrow</text><circle cx="423.8" cy="374.1" r="2.4" fill="#2aa2da"/><text x="428.6" y="376.20000000000005" font-size="6.0" fill="#262626" text-anchor="start" font-weight="normal" font-style="normal" textLength="55.2" lengthAdjust="spacingAndGlyphs" stroke="#262626" stroke-width="0.08">c−/Pre-B-ALL t(9;22)</text><circle cx="423.8" cy="384.1" r="2.4" fill="#0f6046"/><text x="428.6" y="386.20000000000005" font-size="6.0" fill="#262626" text-anchor="start" font-weight="normal" font-style="normal" textLength="67.4" lengthAdjust="spacingAndGlyphs" stroke="#262626" stroke-width="0.08">Pro-B-ALL t(11q23)/MLL</text><circle cx="423.8" cy="393.8" r="2.4" fill="#8b80c4"/><text x="428.6" y="395.90000000000003" font-size="6.0" fill="#262626" text-anchor="start" font-weight="normal" font-style="normal" textLength="55.8" lengthAdjust="spacingAndGlyphs" stroke="#262626" stroke-width="0.08">MLL-rearranged AML</text><rect x="0" y="0" width="520" height="1" fill="#6a6a6a"/><rect x="0" y="0" width="1" height="404" fill="#666"/><rect x="519" y="0" width="1" height="404" fill="#666"/><rect x="0" y="403" width="520" height="1" fill="#5a5a5a"/></svg>
</body></html>
